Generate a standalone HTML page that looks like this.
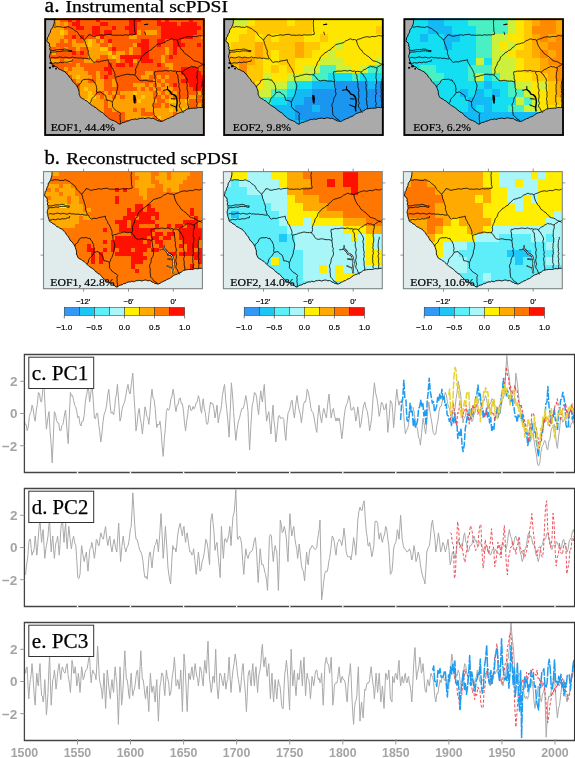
<!DOCTYPE html><html><head><meta charset="utf-8"><style>html,body{margin:0;padding:0;background:#fff;overflow:hidden}svg{display:block;will-change:transform}</style></head><body><svg width="575" height="758" viewBox="0 0 575 758">
<rect width="575" height="758" fill="#fff"/>
<text x="44.6" y="11.6" font-family="Liberation Serif" font-size="20" fill="#000" stroke="#000" stroke-width="0.3" textLength="15" lengthAdjust="spacingAndGlyphs">a.</text>
<text x="65.4" y="11.6" font-family="Liberation Serif" font-size="16.2" fill="#000" stroke="#000" stroke-width="0.25" textLength="162.6" lengthAdjust="spacingAndGlyphs">Instrumental scPDSI</text>
<text x="44.4" y="164.0" font-family="Liberation Serif" font-size="20" fill="#000" stroke="#000" stroke-width="0.3" textLength="15.5" lengthAdjust="spacingAndGlyphs">b.</text>
<text x="66.3" y="164.1" font-family="Liberation Serif" font-size="16.2" fill="#000" stroke="#000" stroke-width="0.25" textLength="171.5" lengthAdjust="spacingAndGlyphs">Reconstructed scPDSI</text>
<clipPath id="c44_18"><rect x="44.3" y="18.3" width="160.4" height="117.6"/></clipPath>
<g clip-path="url(#c44_18)">
<rect x="44.3" y="18.3" width="160.4" height="117.6" fill="#ff8000"/>
<g transform="translate(44.30,18.30) scale(4.0100,4.0552)" shape-rendering="crispEdges">
<path fill="#ff8000" d="M0 0h3v1h-3zM4 1h1v1h-1zM3 7h1v1h-1z"/>
<path fill="#ffa200" d="M3 0h1v1h-1zM3 1h1v1h-1zM5 1h1v1h-1zM0 2h5v1h-5zM0 3h4v1h-4zM5 3h1v1h-1zM23 3h1v1h-1zM25 3h3v1h-3zM0 4h5v1h-5zM13 4h1v1h-1zM21 4h2v1h-2zM39 4h1v1h-1zM0 5h4v1h-4zM5 5h1v1h-1zM7 5h1v1h-1zM10 5h1v1h-1zM12 5h1v1h-1zM14 5h1v1h-1zM0 6h3v1h-3zM7 6h4v1h-4zM12 6h2v1h-2zM16 6h1v1h-1zM22 6h1v1h-1zM5 7h1v1h-1zM8 7h1v1h-1zM11 7h3v1h-3zM21 7h1v1h-1zM30 7h1v1h-1zM2 8h1v1h-1zM11 8h5v1h-5zM18 8h2v1h-2zM21 8h1v1h-1zM30 8h1v1h-1zM11 9h3v1h-3zM16 9h1v1h-1zM18 9h1v1h-1zM29 9h1v1h-1zM0 10h4v1h-4zM5 10h2v1h-2zM10 10h3v1h-3zM18 10h1v1h-1zM22 10h1v1h-1zM29 10h1v1h-1zM8 11h1v1h-1zM30 11h2v1h-2zM5 12h1v1h-1zM7 12h3v1h-3zM31 12h1v1h-1zM6 13h5v1h-5zM13 13h1v1h-1zM25 13h2v1h-2zM7 14h1v1h-1zM9 14h3v1h-3zM13 14h1v1h-1zM24 14h2v1h-2zM28 14h1v1h-1zM30 14h1v1h-1zM8 15h3v1h-3zM13 15h2v1h-2zM17 15h1v1h-1zM27 15h1v1h-1zM29 15h1v1h-1zM9 16h6v1h-6zM17 16h1v1h-1zM22 16h3v1h-3zM26 16h1v1h-1zM28 16h1v1h-1zM30 16h1v1h-1zM9 17h1v1h-1zM11 17h4v1h-4zM23 17h1v1h-1zM25 17h1v1h-1zM27 17h1v1h-1zM29 17h3v1h-3zM0 18h11v1h-11zM12 18h1v1h-1zM15 18h1v1h-1zM17 18h1v1h-1zM19 18h3v1h-3zM23 18h4v1h-4zM28 18h1v1h-1zM30 18h1v1h-1zM32 18h1v1h-1zM38 18h1v1h-1zM0 19h11v1h-11zM13 19h1v1h-1zM15 19h2v1h-2zM18 19h1v1h-1zM20 19h4v1h-4zM25 19h2v1h-2zM29 19h1v1h-1zM31 19h1v1h-1zM36 19h2v1h-2zM39 19h1v1h-1zM12 20h3v1h-3zM16 20h6v1h-6zM24 20h4v1h-4zM30 20h1v1h-1zM33 20h2v1h-2zM0 21h15v1h-15zM16 21h11v1h-11zM29 21h1v1h-1zM31 21h5v1h-5zM38 21h1v1h-1zM0 22h15v1h-15zM17 22h5v1h-5zM23 22h1v1h-1zM25 22h6v1h-6zM32 22h2v1h-2zM35 22h5v1h-5zM0 23h15v1h-15zM20 23h4v1h-4zM27 23h5v1h-5zM20 24h7v1h-7zM29 24h11v1h-11z"/>
<path fill="#ff5c00" d="M4 0h2v1h-2zM7 0h1v1h-1zM9 0h4v1h-4zM14 0h7v1h-7zM24 0h4v1h-4zM29 0h1v1h-1zM31 0h5v1h-5zM37 0h3v1h-3zM0 1h3v1h-3zM6 1h1v1h-1zM9 1h5v1h-5zM16 1h5v1h-5zM23 1h5v1h-5zM33 1h1v1h-1zM38 1h2v1h-2zM5 2h3v1h-3zM10 2h2v1h-2zM14 2h3v1h-3zM18 2h2v1h-2zM23 2h6v1h-6zM39 2h1v1h-1zM6 3h6v1h-6zM14 3h1v1h-1zM17 3h4v1h-4zM24 3h1v1h-1zM28 3h1v1h-1zM38 3h2v1h-2zM5 4h2v1h-2zM8 4h1v1h-1zM10 4h3v1h-3zM15 4h6v1h-6zM23 4h6v1h-6zM37 4h2v1h-2zM4 5h1v1h-1zM6 5h1v1h-1zM8 5h2v1h-2zM13 5h1v1h-1zM15 5h1v1h-1zM17 5h7v1h-7zM26 5h2v1h-2zM30 5h2v1h-2zM34 5h6v1h-6zM3 6h4v1h-4zM14 6h2v1h-2zM17 6h5v1h-5zM26 6h2v1h-2zM29 6h3v1h-3zM35 6h3v1h-3zM39 6h1v1h-1zM0 7h3v1h-3zM4 7h1v1h-1zM6 7h2v1h-2zM9 7h2v1h-2zM16 7h1v1h-1zM18 7h3v1h-3zM22 7h2v1h-2zM26 7h4v1h-4zM31 7h1v1h-1zM33 7h7v1h-7zM0 8h2v1h-2zM3 8h4v1h-4zM8 8h1v1h-1zM10 8h1v1h-1zM17 8h1v1h-1zM20 8h1v1h-1zM22 8h2v1h-2zM26 8h4v1h-4zM31 8h1v1h-1zM33 8h7v1h-7zM0 9h11v1h-11zM14 9h2v1h-2zM26 9h3v1h-3zM30 9h1v1h-1zM32 9h8v1h-8zM4 10h1v1h-1zM7 10h3v1h-3zM13 10h5v1h-5zM19 10h1v1h-1zM23 10h1v1h-1zM27 10h2v1h-2zM30 10h10v1h-10zM0 11h8v1h-8zM9 11h7v1h-7zM17 11h1v1h-1zM20 11h1v1h-1zM22 11h6v1h-6zM29 11h1v1h-1zM32 11h8v1h-8zM0 12h5v1h-5zM6 12h1v1h-1zM10 12h5v1h-5zM17 12h14v1h-14zM32 12h2v1h-2zM38 12h2v1h-2zM0 13h6v1h-6zM11 13h2v1h-2zM14 13h2v1h-2zM17 13h8v1h-8zM27 13h7v1h-7zM39 13h1v1h-1zM0 14h7v1h-7zM12 14h1v1h-1zM14 14h1v1h-1zM16 14h8v1h-8zM26 14h2v1h-2zM29 14h1v1h-1zM31 14h4v1h-4zM0 15h8v1h-8zM11 15h2v1h-2zM15 15h2v1h-2zM18 15h9v1h-9zM28 15h1v1h-1zM30 15h4v1h-4zM0 16h9v1h-9zM15 16h2v1h-2zM18 16h4v1h-4zM25 16h1v1h-1zM27 16h1v1h-1zM29 16h1v1h-1zM31 16h1v1h-1zM33 16h3v1h-3zM0 17h9v1h-9zM15 17h8v1h-8zM24 17h1v1h-1zM26 17h1v1h-1zM28 17h1v1h-1zM32 17h5v1h-5zM39 17h1v1h-1zM13 18h2v1h-2zM16 18h1v1h-1zM18 18h1v1h-1zM27 18h1v1h-1zM29 18h1v1h-1zM31 18h1v1h-1zM33 18h5v1h-5zM39 18h1v1h-1zM14 19h1v1h-1zM17 19h1v1h-1zM19 19h1v1h-1zM27 19h2v1h-2zM30 19h1v1h-1zM32 19h4v1h-4zM38 19h1v1h-1zM15 20h1v1h-1zM22 20h1v1h-1zM28 20h2v1h-2zM36 20h4v1h-4zM15 21h1v1h-1zM27 21h2v1h-2zM30 21h1v1h-1zM36 21h2v1h-2zM39 21h1v1h-1zM15 22h2v1h-2zM22 22h1v1h-1zM24 22h1v1h-1zM15 23h5v1h-5zM24 23h3v1h-3zM32 23h1v1h-1zM0 24h20v1h-20zM27 24h1v1h-1zM0 25h40v1h-40zM0 26h40v1h-40zM0 27h40v1h-40zM0 28h40v1h-40z"/>
<path fill="#ff1000" d="M6 0h1v1h-1zM8 0h1v1h-1zM13 0h1v1h-1zM21 0h3v1h-3zM28 0h1v1h-1zM30 0h1v1h-1zM36 0h1v1h-1zM7 1h2v1h-2zM14 1h2v1h-2zM21 1h2v1h-2zM28 1h5v1h-5zM34 1h4v1h-4zM8 2h2v1h-2zM12 2h2v1h-2zM17 2h1v1h-1zM20 2h3v1h-3zM29 2h10v1h-10zM12 3h2v1h-2zM15 3h2v1h-2zM21 3h2v1h-2zM29 3h9v1h-9zM7 4h1v1h-1zM9 4h1v1h-1zM14 4h1v1h-1zM29 4h8v1h-8zM16 5h1v1h-1zM24 5h2v1h-2zM28 5h2v1h-2zM32 5h2v1h-2zM23 6h3v1h-3zM28 6h1v1h-1zM32 6h3v1h-3zM38 6h1v1h-1zM17 7h1v1h-1zM24 7h2v1h-2zM32 7h1v1h-1zM7 8h1v1h-1zM9 8h1v1h-1zM24 8h2v1h-2zM32 8h1v1h-1zM19 9h7v1h-7zM31 9h1v1h-1zM20 10h2v1h-2zM24 10h3v1h-3zM16 11h1v1h-1zM18 11h2v1h-2zM21 11h1v1h-1zM28 11h1v1h-1zM15 12h2v1h-2zM34 12h4v1h-4zM16 13h1v1h-1zM34 13h5v1h-5zM15 14h1v1h-1zM35 14h5v1h-5zM34 15h6v1h-6zM32 16h1v1h-1zM36 16h4v1h-4zM37 17h2v1h-2z"/>
<path fill="#ffc800" d="M4 3h1v1h-1zM11 5h1v1h-1zM11 6h1v1h-1zM14 7h2v1h-2zM16 8h1v1h-1zM17 9h1v1h-1zM8 14h1v1h-1zM10 17h1v1h-1zM11 18h1v1h-1zM22 18h1v1h-1zM11 19h2v1h-2zM24 19h1v1h-1zM0 20h12v1h-12zM23 20h1v1h-1zM31 20h2v1h-2zM35 20h1v1h-1zM31 22h1v1h-1zM34 22h1v1h-1zM33 23h7v1h-7zM28 24h1v1h-1z"/>
</g>
<polygon points="54.8,17.3 54.4,20.0 54.3,21.7 54.2,23.3 53.7,24.8 53.0,26.3 52.5,27.8 51.3,29.0 50.6,30.4 50.5,32.1 49.6,33.4 48.9,34.7 48.6,36.2 47.5,37.4 47.3,39.0 46.8,40.4 47.4,42.0 49.0,42.9 49.6,44.5 49.3,46.0 50.3,47.3 49.7,48.8 50.3,50.2 50.4,51.6 50.4,53.0 50.0,54.4 49.5,55.8 49.6,57.2 50.2,58.6 50.3,60.0 50.8,61.4 51.3,62.8 51.6,64.2 52.9,65.1 54.3,65.6 55.4,66.8 57.0,67.0 58.0,68.3 59.2,69.3 60.8,69.7 62.1,70.5 63.5,71.2 65.0,71.7 65.8,73.0 67.0,74.0 68.2,75.0 68.8,76.5 70.0,77.5 71.0,78.7 71.9,80.0 72.5,81.4 73.6,82.5 74.8,83.4 75.8,84.6 76.6,85.8 77.5,87.1 78.0,88.4 78.5,89.8 79.0,91.1 79.2,92.6 79.1,94.1 79.7,95.5 80.3,96.8 81.3,98.0 82.7,98.7 84.1,99.3 85.1,100.4 86.7,100.8 87.7,101.9 88.8,102.9 90.0,103.8 91.2,104.8 92.4,105.7 93.7,106.4 95.0,107.3 96.3,107.9 97.4,109.0 98.4,110.2 99.8,110.8 100.8,112.0 102.4,112.5 103.7,113.5 104.6,114.8 105.7,115.9 107.1,116.7 108.2,117.8 109.2,118.8 110.5,119.4 111.8,120.1 113.2,120.4 114.5,121.1 115.8,121.6 116.9,122.5 118.1,123.4 119.3,124.1 120.9,123.9 122.0,122.7 123.6,122.4 125.1,122.1 126.4,121.2 128.1,121.1 129.5,120.4 130.9,119.8 132.3,119.4 133.7,119.6 135.0,118.8 136.5,119.4 137.9,119.2 139.2,118.4 140.7,118.5 142.0,118.1 143.4,118.2 145.0,118.7 146.6,118.2 148.2,117.8 149.7,118.0 151.3,118.6 152.9,118.2 154.2,118.7 155.4,119.6 156.7,120.0 157.9,120.8 159.4,121.0 160.7,121.4 162.2,121.3 163.5,120.7 164.8,119.9 166.2,119.4 167.4,118.6 168.9,118.4 170.1,117.5 171.5,116.9 173.0,116.5 174.3,115.7 175.5,114.8 176.7,113.9 178.1,113.2 179.5,112.8 180.9,112.3 182.3,111.9 183.6,111.1 185.0,110.6 186.2,109.7 187.4,108.9 189.0,108.8 190.5,108.4 192.1,108.3 193.6,108.2 195.2,108.2 196.8,108.1 198.3,107.5 199.9,107.4 201.5,107.6 203.1,107.3 205.7,107.1 205.7,143.9 43.3,143.9 43.3,17.3" fill="#aaaaaa"/>
<polyline points="54.8,17.3 54.4,20.0 54.3,21.7 54.2,23.3 53.7,24.8 53.0,26.3 52.5,27.8 51.3,29.0 50.6,30.4 50.5,32.1 49.6,33.4 48.9,34.7 48.6,36.2 47.5,37.4 47.3,39.0 46.8,40.4 47.4,42.0 49.0,42.9 49.6,44.5 49.3,46.0 50.3,47.3 49.7,48.8 50.3,50.2 50.4,51.6 50.4,53.0 50.0,54.4 49.5,55.8 49.6,57.2 50.2,58.6 50.3,60.0 50.8,61.4 51.3,62.8 51.6,64.2 52.9,65.1 54.3,65.6 55.4,66.8 57.0,67.0 58.0,68.3 59.2,69.3 60.8,69.7 62.1,70.5 63.5,71.2 65.0,71.7 65.8,73.0 67.0,74.0 68.2,75.0 68.8,76.5 70.0,77.5 71.0,78.7 71.9,80.0 72.5,81.4 73.6,82.5 74.8,83.4 75.8,84.6 76.6,85.8 77.5,87.1 78.0,88.4 78.5,89.8 79.0,91.1 79.2,92.6 79.1,94.1 79.7,95.5 80.3,96.8 81.3,98.0 82.7,98.7 84.1,99.3 85.1,100.4 86.7,100.8 87.7,101.9 88.8,102.9 90.0,103.8 91.2,104.8 92.4,105.7 93.7,106.4 95.0,107.3 96.3,107.9 97.4,109.0 98.4,110.2 99.8,110.8 100.8,112.0 102.4,112.5 103.7,113.5 104.6,114.8 105.7,115.9 107.1,116.7 108.2,117.8 109.2,118.8 110.5,119.4 111.8,120.1 113.2,120.4 114.5,121.1 115.8,121.6 116.9,122.5 118.1,123.4 119.3,124.1 120.9,123.9 122.0,122.7 123.6,122.4 125.1,122.1 126.4,121.2 128.1,121.1 129.5,120.4 130.9,119.8 132.3,119.4 133.7,119.6 135.0,118.8 136.5,119.4 137.9,119.2 139.2,118.4 140.7,118.5 142.0,118.1 143.4,118.2 145.0,118.7 146.6,118.2 148.2,117.8 149.7,118.0 151.3,118.6 152.9,118.2 154.2,118.7 155.4,119.6 156.7,120.0 157.9,120.8 159.4,121.0 160.7,121.4 162.2,121.3 163.5,120.7 164.8,119.9 166.2,119.4 167.4,118.6 168.9,118.4 170.1,117.5 171.5,116.9 173.0,116.5 174.3,115.7 175.5,114.8 176.7,113.9 178.1,113.2 179.5,112.8 180.9,112.3 182.3,111.9 183.6,111.1 185.0,110.6 186.2,109.7 187.4,108.9 189.0,108.8 190.5,108.4 192.1,108.3 193.6,108.2 195.2,108.2 196.8,108.1 198.3,107.5 199.9,107.4 201.5,107.6 203.1,107.3 205.7,107.1" fill="none" stroke="#000" stroke-width="0.9"/>
<polyline points="53.7,27.0 55.4,27.2 57.1,26.5 58.8,26.8 60.5,26.7 62.2,27.3 63.9,27.2 65.7,27.5 67.4,26.6 69.1,27.0 70.5,27.8 72.1,28.3 73.4,29.3 74.7,30.4 76.1,31.3 77.5,32.2 78.4,33.5 79.1,35.1 80.3,36.2 81.6,37.5 83.2,38.6 84.4,40.1" fill="none" stroke="#000" stroke-width="0.8" stroke-linejoin="round"/>
<polyline points="84.4,40.1 85.5,38.8 86.4,37.4 87.8,36.3 88.6,34.8 90.9,35.0 92.8,36.2 95.0,36.2 97.0,35.5 98.7,35.6 100.3,35.0 102.0,34.7 103.7,35.4 105.4,34.8 107.1,34.6 108.9,34.4 110.6,34.4 112.4,35.3 114.1,35.1 115.9,35.3 117.7,35.3 119.4,35.1 121.2,35.1 123.0,35.5 124.7,34.8 126.5,34.9 128.2,35.1 130.0,34.8 131.7,35.0 133.5,34.6 135.2,34.4 135.4,32.7 134.6,31.1 134.7,29.4 134.6,27.7 134.3,26.1 134.4,24.4 134.2,22.7 134.5,21.0 134.5,18.3" fill="none" stroke="#000" stroke-width="0.8" stroke-linejoin="round"/>
<polyline points="84.4,40.1 85.2,41.7 85.4,43.5 86.2,45.1 86.8,46.7 87.2,48.5 88.0,50.0 88.4,51.7 88.1,53.5 88.9,55.1 89.4,56.7 90.0,58.3 91.7,59.5 92.6,61.3 94.2,62.5 95.9,61.8 97.7,61.7 99.5,62.0 101.1,61.1 102.9,60.9 104.7,60.5 106.4,60.3 108.2,59.7 108.5,61.6 109.3,63.3 110.5,64.8 111.0,66.6 112.3,67.8 113.0,69.3 113.8,70.9 114.5,72.6 115.1,74.3 114.8,76.3 115.8,77.9 115.7,80.0 116.5,82.0 117.4,84.1 117.9,86.2 117.4,88.0 117.3,89.8 116.4,91.4 116.5,93.3 115.6,95.1 114.9,97.1 113.8,98.8 113.3,100.4 112.4,101.7 112.3,103.4 112.6,105.0 112.4,106.7 113.7,108.1 114.8,109.7 116.5,110.8 117.9,111.6 119.5,112.4 120.7,113.6 119.9,115.4 120.2,117.3 120.0,119.2 120.4,120.9 120.5,122.5 120.0,124.1" fill="none" stroke="#000" stroke-width="0.8" stroke-linejoin="round"/>
<polyline points="51.0,57.8 52.7,57.3 54.5,57.8 56.3,57.9 58.0,57.4 59.7,56.9 61.5,57.2 63.2,57.8 65.0,57.2 66.8,57.3 68.6,57.9 70.5,57.8 72.4,56.9 74.2,57.8 76.1,57.6 77.8,58.0 79.6,58.0 81.3,57.9 83.0,58.5 84.8,58.1 86.5,58.6 88.3,58.8 90.0,59.0" fill="none" stroke="#000" stroke-width="0.8" stroke-linejoin="round"/>
<polyline points="50.8,50.1 52.7,50.5 54.5,50.3 56.3,49.9 58.3,49.5 60.3,49.6 62.3,49.5 64.3,49.0 66.4,49.3 68.1,50.1 69.9,50.5 71.9,50.5 71.7,51.7 69.9,51.6 68.1,51.0 66.4,50.9 64.3,50.8 62.3,51.1 60.4,51.7 58.3,51.3 56.3,51.9 54.5,52.0 52.6,52.0 50.8,52.5" fill="none" stroke="#000" stroke-width="0.8" stroke-linejoin="round"/>
<polyline points="51.8,63.3 53.4,63.3 55.1,62.6 56.7,62.9 58.3,63.0 60.3,62.2 62.4,62.8 64.3,62.0 66.3,62.3 68.1,62.0 70.0,61.3 71.9,61.3 72.4,59.5" fill="none" stroke="#000" stroke-width="0.8" stroke-linejoin="round"/>
<polyline points="77.5,87.1 78.1,85.2 79.9,84.1 81.1,82.6 81.7,80.7 83.6,79.6 85.8,79.3 87.6,79.4 89.4,79.1 91.0,80.1 92.8,79.9 93.4,81.5 94.9,82.6 95.5,84.2 96.3,85.6 96.5,87.4 96.9,89.1 96.4,91.0 97.0,92.7 96.0,94.1 95.0,95.7 93.6,96.8 92.3,98.1 91.4,99.6 91.0,101.5 90.0,103.1" fill="none" stroke="#000" stroke-width="0.8" stroke-linejoin="round"/>
<polyline points="97.0,92.7 99.1,92.1 101.1,92.0 102.2,93.5 103.8,94.4 105.4,95.4 105.9,97.0 106.3,98.7 106.8,100.3 108.7,100.4 110.6,101.0 112.4,101.7" fill="none" stroke="#000" stroke-width="0.8" stroke-linejoin="round"/>
<polyline points="115.8,77.2 117.7,76.5 119.7,76.2 121.5,75.3 123.5,75.1 125.3,74.5 127.2,74.2 129.1,74.4 130.9,74.8 132.8,74.6 134.6,75.1 135.5,73.5 135.9,71.8 135.4,69.9 136.0,68.3 136.7,66.6 137.7,65.1 138.1,63.3 138.8,61.6 140.4,60.4 140.9,58.6 141.6,56.9 143.0,55.5 144.7,54.3 145.9,52.7 147.8,52.0 149.4,50.5 151.4,49.9 152.4,48.3 154.0,47.2 155.4,46.0 156.8,44.7 158.5,44.1 160.4,43.8 162.1,43.2 164.0,42.9 165.6,41.8 166.9,40.7 168.6,40.2 170.0,39.4 171.6,38.8 173.5,39.7 175.6,39.5 177.5,40.3" fill="none" stroke="#000" stroke-width="0.8" stroke-linejoin="round"/>
<polyline points="177.5,40.3 179.3,39.2 181.2,38.8 183.1,38.0 185.0,37.3 186.8,36.9 188.6,36.7 190.6,37.2 192.4,36.6 194.1,36.4 195.9,36.7 197.7,36.2 199.4,35.5 201.2,35.8 203.5,36.0 205.7,35.1" fill="none" stroke="#000" stroke-width="0.8" stroke-linejoin="round"/>
<polyline points="177.5,40.3 177.9,42.3 178.5,44.2 179.3,46.1 180.4,47.8 181.3,49.5 183.0,50.5 183.8,52.2 185.0,53.7 186.6,54.5 188.0,55.8 189.7,56.6 190.9,58.1 192.4,59.0 193.5,60.6 195.3,61.1 197.6,61.6 199.7,62.6 201.1,63.6 202.7,64.0 204.2,64.7 205.7,65.5" fill="none" stroke="#000" stroke-width="0.8" stroke-linejoin="round"/>
<polyline points="134.6,75.1 137.0,77.1 138.0,79.0 139.7,80.3 141.8,80.9 143.9,80.4 146.0,80.3 148.2,81.0 150.6,81.1 152.2,81.0 153.8,81.4 155.4,81.9" fill="none" stroke="#000" stroke-width="0.8" stroke-linejoin="round"/>
<polyline points="154.7,71.7 154.3,73.4 154.8,75.1 155.0,76.8 154.9,78.5 155.7,80.2 155.4,81.9 155.6,83.8 155.9,85.6 155.8,87.5 156.8,89.2 156.2,91.2 157.0,93.0 156.9,94.7 156.2,96.2 155.2,97.6 154.6,99.2 154.5,100.9 154.0,102.5 153.1,103.9 152.8,105.8 153.6,107.6 153.4,109.5 153.5,111.3 153.8,113.1 153.9,115.0 155.2,116.3 156.7,117.5 157.8,119.1 159.7,119.7 160.9,121.2" fill="none" stroke="#000" stroke-width="0.8" stroke-linejoin="round"/>
<polyline points="154.7,71.7 156.4,71.7 158.1,71.1 159.8,71.1 161.6,71.2 163.3,70.9 165.1,70.6 166.9,70.7 168.7,71.1 170.5,70.4 172.2,70.8 174.0,71.4 175.8,70.9 176.6,71.7" fill="none" stroke="#000" stroke-width="0.8" stroke-linejoin="round"/>
<polyline points="176.6,71.7 176.4,73.5 177.8,75.0 178.0,76.8 178.0,78.6 178.7,80.2 178.3,82.0 179.1,83.5 178.8,85.4 178.9,87.1 179.6,88.9 180.0,90.7 179.3,92.5 179.6,94.3 179.9,96.1 179.8,97.9 179.3,99.7 179.6,101.6 180.3,103.4 179.3,105.2 179.6,107.1 180.8,108.3 181.5,109.9 182.3,111.5 183.6,112.6" fill="none" stroke="#000" stroke-width="0.8" stroke-linejoin="round"/>
<polyline points="176.6,71.7 178.5,71.4 180.3,71.5 182.0,72.1 183.6,70.9 185.0,69.6 186.8,69.1 188.2,67.9 190.0,67.3 191.5,66.2 193.0,66.9 194.7,66.7 196.2,67.5 197.8,67.8 199.2,66.5 200.9,65.7 202.5,64.6 204.2,64.5 205.7,63.5" fill="none" stroke="#000" stroke-width="0.8" stroke-linejoin="round"/>
<polyline points="182.0,72.1 182.7,73.6 184.3,74.5 184.9,76.1 186.0,77.3 186.8,78.8 187.4,80.5 186.6,82.3 186.9,84.0 187.4,85.8 186.9,87.5 187.2,89.3 187.5,91.0 188.0,92.7 187.6,94.5 188.1,96.2 187.3,98.1 187.4,99.8 187.9,101.6 187.7,103.4 188.1,105.1 188.6,106.9 188.4,108.7" fill="none" stroke="#000" stroke-width="0.8" stroke-linejoin="round"/>
<polyline points="197.8,67.8 198.1,69.5 197.8,71.2 197.1,72.9 197.2,74.6 197.0,76.3 196.9,78.0 197.6,79.8 197.5,81.5 197.6,83.2 196.7,84.9 197.0,86.6 196.6,88.3 197.1,90.0 196.8,91.7 197.4,93.5 196.5,95.2 196.6,96.9 196.5,98.6 196.6,100.3 196.6,102.0 197.5,103.7 196.7,105.4 197.0,107.1" fill="none" stroke="#000" stroke-width="0.8" stroke-linejoin="round"/>
<polyline points="203.1,78.6 203.1,80.3 202.3,81.9 202.3,83.6 202.1,85.3 202.0,87.0 202.2,88.7 202.5,90.3 202.0,92.0 202.8,93.7 202.0,95.4 202.0,97.1 202.8,98.7 202.2,100.4 202.6,102.1 202.8,103.8 202.3,105.5 202.7,107.2" fill="none" stroke="#000" stroke-width="0.8" stroke-linejoin="round"/>
<path transform="translate(44.3,18.3) scale(1.002,1.005)" d="M88.8,76 L90.8,76.5 L91.5,80 L91,85 L89.5,84.5 L88.8,80 Z" fill="#000"/>
<path transform="translate(44.3,18.3) scale(1.002,1.005)" d="M5,44 L7,43.5 L7.5,45 L5.5,45.5 Z" fill="#000"/>
<path transform="translate(44.3,18.3) scale(1.002,1.005)" d="M7.5,47 L10,46.5 L10.5,48.5 L8,49 Z" fill="#000"/>
<path transform="translate(44.3,18.3) scale(1.002,1.005)" d="M4.5,48.5 L6.5,48.3 L6.8,50 L4.8,50.2 Z" fill="#000"/>
<path transform="translate(44.3,18.3) scale(1.002,1.005)" d="M10.8,49.5 L12.5,49.5 L12.5,51 L11,51 Z" fill="#000"/>
<path transform="translate(44.3,18.3) scale(1.002,1.005)" d="M99.5,5.8 L103.5,5.2 L103.8,6.4 L99.8,7 Z" fill="#000"/>
<path transform="translate(44.3,18.3) scale(1.002,1.005)" d="M99.8,13.5 L100.6,13.4 L101.5,16.5 L100.8,16.7 Z" fill="#000"/>
<polyline points="167.6,89.5 170.2,91.6 171.8,94.1 174.3,94.9 176.0,96.6 176.8,99.1 177.2,102.0 176.8,104.9 176.4,108.4 176.8,110.9" fill="none" stroke="#000" stroke-width="1.5" stroke-linejoin="round" stroke-linecap="round"/>
<polyline points="163.5,90.3 165.6,89.9 167.6,89.5 167.6,86.5" fill="none" stroke="#000" stroke-width="1.0" stroke-linejoin="round" stroke-linecap="round"/>
<polyline points="171.4,98.7 175.2,99.1" fill="none" stroke="#000" stroke-width="1.0" stroke-linejoin="round" stroke-linecap="round"/>
<polyline points="170.6,104.9 173.1,105.9 176.0,107.1" fill="none" stroke="#000" stroke-width="1.0" stroke-linejoin="round" stroke-linecap="round"/>
</g>
<rect x="45.2" y="19.2" width="158.6" height="115.8" fill="none" stroke="#000" stroke-width="1.8"/>
<text x="82.9" y="130.8" font-family="Liberation Serif" font-size="10.9" fill="#000" stroke="#000" stroke-width="0.22" text-anchor="middle" textLength="64.4" lengthAdjust="spacingAndGlyphs">EOF1, 44.4%</text>
<clipPath id="c223_18"><rect x="223.3" y="18.3" width="160.4" height="117.6"/></clipPath>
<g clip-path="url(#c223_18)">
<rect x="223.3" y="18.3" width="160.4" height="117.6" fill="#cdf03a"/>
<g transform="translate(223.30,18.30) scale(4.0100,3.9200)" shape-rendering="crispEdges">
<path fill="#cdf03a" d="M0 0h6v1h-6zM0 1h6v1h-6zM28 6h2v1h-2zM28 7h2v1h-2zM26 8h2v1h-2zM26 9h2v1h-2zM24 10h6v1h-6zM38 10h2v1h-2zM24 11h6v1h-6zM38 11h2v1h-2zM20 12h4v1h-4zM28 12h4v1h-4zM34 12h2v1h-2zM20 13h4v1h-4zM28 13h4v1h-4zM34 13h2v1h-2zM10 14h2v1h-2zM16 14h6v1h-6zM10 15h2v1h-2zM16 15h6v1h-6zM10 16h6v1h-6zM10 17h6v1h-6zM0 18h12v1h-12zM0 19h12v1h-12z"/>
<path fill="#ffe600" d="M6 0h2v1h-2zM16 0h2v1h-2zM22 0h18v1h-18zM6 1h2v1h-2zM16 1h2v1h-2zM22 1h18v1h-18zM0 2h6v1h-6zM22 2h16v1h-16zM0 3h6v1h-6zM22 3h16v1h-16zM0 4h4v1h-4zM8 4h2v1h-2zM12 4h2v1h-2zM20 4h4v1h-4zM26 4h14v1h-14zM0 5h4v1h-4zM8 5h2v1h-2zM12 5h2v1h-2zM20 5h4v1h-4zM26 5h14v1h-14zM0 6h2v1h-2zM24 6h4v1h-4zM30 6h10v1h-10zM0 7h2v1h-2zM24 7h4v1h-4zM30 7h10v1h-10zM12 8h2v1h-2zM22 8h4v1h-4zM28 8h12v1h-12zM12 9h2v1h-2zM22 9h4v1h-4zM28 9h12v1h-12zM10 10h4v1h-4zM18 10h6v1h-6zM30 10h8v1h-8zM10 11h4v1h-4zM18 11h6v1h-6zM30 11h8v1h-8zM10 12h2v1h-2zM14 12h2v1h-2zM18 12h2v1h-2zM32 12h2v1h-2zM10 13h2v1h-2zM14 13h2v1h-2zM18 13h2v1h-2zM32 13h2v1h-2zM12 14h4v1h-4zM12 15h4v1h-4zM8 16h2v1h-2zM8 17h2v1h-2z"/>
<path fill="#ffc800" d="M8 0h8v1h-8zM18 0h4v1h-4zM8 1h8v1h-8zM18 1h4v1h-4zM6 2h16v1h-16zM38 2h2v1h-2zM6 3h16v1h-16zM38 3h2v1h-2zM4 4h4v1h-4zM10 4h2v1h-2zM14 4h6v1h-6zM24 4h2v1h-2zM4 5h4v1h-4zM10 5h2v1h-2zM14 5h6v1h-6zM24 5h2v1h-2zM2 6h6v1h-6zM10 6h8v1h-8zM20 6h4v1h-4zM2 7h6v1h-6zM10 7h8v1h-8zM20 7h4v1h-4zM2 8h6v1h-6zM10 8h2v1h-2zM14 8h4v1h-4zM20 8h2v1h-2zM2 9h6v1h-6zM10 9h2v1h-2zM14 9h4v1h-4zM20 9h2v1h-2zM8 10h2v1h-2zM14 10h4v1h-4zM8 11h2v1h-2zM14 11h4v1h-4zM0 12h4v1h-4zM6 12h4v1h-4zM12 12h2v1h-2zM16 12h2v1h-2zM0 13h4v1h-4zM6 13h4v1h-4zM12 13h2v1h-2zM16 13h2v1h-2zM6 14h4v1h-4zM6 15h4v1h-4z"/>
<path fill="#ffa800" d="M8 6h2v1h-2zM18 6h2v1h-2zM8 7h2v1h-2zM18 7h2v1h-2zM0 8h2v1h-2zM8 8h2v1h-2zM18 8h2v1h-2zM0 9h2v1h-2zM8 9h2v1h-2zM18 9h2v1h-2zM0 10h4v1h-4zM6 10h2v1h-2zM0 11h4v1h-4zM6 11h2v1h-2zM0 16h8v1h-8zM0 17h8v1h-8z"/>
<path fill="#ff8a00" d="M4 10h2v1h-2zM4 11h2v1h-2zM4 12h2v1h-2zM4 13h2v1h-2z"/>
<path fill="#48f0c4" d="M24 12h4v1h-4zM36 12h4v1h-4zM24 13h4v1h-4zM36 13h4v1h-4zM22 14h4v1h-4zM32 14h2v1h-2zM22 15h4v1h-4zM32 15h2v1h-2zM16 16h2v1h-2zM16 17h2v1h-2zM12 18h4v1h-4zM12 19h4v1h-4zM0 20h12v1h-12zM0 21h12v1h-12z"/>
<path fill="#ff5e00" d="M0 14h6v1h-6zM0 15h6v1h-6z"/>
<path fill="#14def2" d="M26 14h6v1h-6zM34 14h6v1h-6zM26 15h6v1h-6zM34 15h6v1h-6zM18 16h4v1h-4zM18 17h4v1h-4zM16 18h2v1h-2zM16 19h2v1h-2zM12 20h4v1h-4zM12 21h4v1h-4z"/>
<path fill="#14baf6" d="M22 16h6v1h-6zM36 16h2v1h-2zM22 17h6v1h-6zM36 17h2v1h-2zM18 18h4v1h-4zM18 19h4v1h-4zM16 20h4v1h-4zM16 21h4v1h-4zM0 22h18v1h-18zM22 22h2v1h-2zM0 23h18v1h-18zM22 23h2v1h-2zM0 24h18v1h-18zM0 25h18v1h-18zM0 26h40v1h-40zM0 27h40v1h-40zM0 28h40v1h-40zM0 29h40v1h-40z"/>
<path fill="#1a96f0" d="M28 16h8v1h-8zM38 16h2v1h-2zM28 17h8v1h-8zM38 17h2v1h-2zM22 18h16v1h-16zM22 19h16v1h-16zM20 20h20v1h-20zM20 21h20v1h-20zM18 22h4v1h-4zM24 22h16v1h-16zM18 23h4v1h-4zM24 23h16v1h-16zM18 24h22v1h-22zM18 25h22v1h-22z"/>
<path fill="#2f86ee" d="M38 18h2v1h-2zM38 19h2v1h-2z"/>
</g>
<polygon points="233.8,17.3 233.4,20.0 233.3,21.7 233.2,23.3 232.7,24.8 232.0,26.3 231.5,27.8 230.3,29.0 229.6,30.4 229.5,32.1 228.6,33.4 227.9,34.7 227.6,36.2 226.5,37.4 226.3,39.0 225.8,40.4 226.4,42.0 228.0,42.9 228.6,44.5 228.3,46.0 229.3,47.3 228.7,48.8 229.3,50.2 229.4,51.6 229.4,53.0 229.0,54.4 228.5,55.8 228.6,57.2 229.2,58.6 229.3,60.0 229.8,61.4 230.3,62.8 230.6,64.2 231.9,65.1 233.3,65.6 234.4,66.8 236.0,67.0 237.0,68.3 238.2,69.3 239.8,69.7 241.1,70.5 242.5,71.2 244.0,71.7 244.8,73.0 246.0,74.0 247.2,75.0 247.8,76.5 249.0,77.5 250.0,78.7 250.9,80.0 251.5,81.4 252.6,82.5 253.8,83.4 254.8,84.6 255.6,85.8 256.5,87.1 257.0,88.4 257.5,89.8 258.0,91.1 258.2,92.6 258.1,94.1 258.7,95.5 259.3,96.8 260.3,98.0 261.7,98.7 263.1,99.3 264.1,100.4 265.7,100.8 266.7,101.9 267.8,102.9 269.0,103.8 270.2,104.8 271.4,105.7 272.7,106.4 274.0,107.3 275.3,107.9 276.4,109.0 277.4,110.2 278.8,110.8 279.8,112.0 281.4,112.5 282.7,113.5 283.6,114.8 284.7,115.9 286.1,116.7 287.2,117.8 288.2,118.8 289.5,119.4 290.8,120.1 292.2,120.4 293.5,121.1 294.8,121.6 295.9,122.5 297.1,123.4 298.3,124.1 299.9,123.9 301.0,122.7 302.6,122.4 304.1,122.1 305.4,121.2 307.1,121.1 308.5,120.4 309.9,119.8 311.3,119.4 312.7,119.6 314.0,118.8 315.5,119.4 316.9,119.2 318.2,118.4 319.7,118.5 321.0,118.1 322.4,118.2 324.0,118.7 325.6,118.2 327.2,117.8 328.7,118.0 330.3,118.6 331.9,118.2 333.2,118.7 334.4,119.6 335.7,120.0 336.9,120.8 338.4,121.0 339.7,121.4 341.2,121.3 342.5,120.7 343.8,119.9 345.2,119.4 346.4,118.6 347.9,118.4 349.1,117.5 350.5,116.9 352.0,116.5 353.3,115.7 354.5,114.8 355.7,113.9 357.1,113.2 358.5,112.8 359.9,112.3 361.3,111.9 362.6,111.1 364.0,110.6 365.2,109.7 366.4,108.9 368.0,108.8 369.5,108.4 371.1,108.3 372.6,108.2 374.2,108.2 375.8,108.1 377.3,107.5 378.9,107.4 380.5,107.6 382.1,107.3 384.7,107.1 384.7,143.9 222.3,143.9 222.3,17.3" fill="#aaaaaa"/>
<polyline points="233.8,17.3 233.4,20.0 233.3,21.7 233.2,23.3 232.7,24.8 232.0,26.3 231.5,27.8 230.3,29.0 229.6,30.4 229.5,32.1 228.6,33.4 227.9,34.7 227.6,36.2 226.5,37.4 226.3,39.0 225.8,40.4 226.4,42.0 228.0,42.9 228.6,44.5 228.3,46.0 229.3,47.3 228.7,48.8 229.3,50.2 229.4,51.6 229.4,53.0 229.0,54.4 228.5,55.8 228.6,57.2 229.2,58.6 229.3,60.0 229.8,61.4 230.3,62.8 230.6,64.2 231.9,65.1 233.3,65.6 234.4,66.8 236.0,67.0 237.0,68.3 238.2,69.3 239.8,69.7 241.1,70.5 242.5,71.2 244.0,71.7 244.8,73.0 246.0,74.0 247.2,75.0 247.8,76.5 249.0,77.5 250.0,78.7 250.9,80.0 251.5,81.4 252.6,82.5 253.8,83.4 254.8,84.6 255.6,85.8 256.5,87.1 257.0,88.4 257.5,89.8 258.0,91.1 258.2,92.6 258.1,94.1 258.7,95.5 259.3,96.8 260.3,98.0 261.7,98.7 263.1,99.3 264.1,100.4 265.7,100.8 266.7,101.9 267.8,102.9 269.0,103.8 270.2,104.8 271.4,105.7 272.7,106.4 274.0,107.3 275.3,107.9 276.4,109.0 277.4,110.2 278.8,110.8 279.8,112.0 281.4,112.5 282.7,113.5 283.6,114.8 284.7,115.9 286.1,116.7 287.2,117.8 288.2,118.8 289.5,119.4 290.8,120.1 292.2,120.4 293.5,121.1 294.8,121.6 295.9,122.5 297.1,123.4 298.3,124.1 299.9,123.9 301.0,122.7 302.6,122.4 304.1,122.1 305.4,121.2 307.1,121.1 308.5,120.4 309.9,119.8 311.3,119.4 312.7,119.6 314.0,118.8 315.5,119.4 316.9,119.2 318.2,118.4 319.7,118.5 321.0,118.1 322.4,118.2 324.0,118.7 325.6,118.2 327.2,117.8 328.7,118.0 330.3,118.6 331.9,118.2 333.2,118.7 334.4,119.6 335.7,120.0 336.9,120.8 338.4,121.0 339.7,121.4 341.2,121.3 342.5,120.7 343.8,119.9 345.2,119.4 346.4,118.6 347.9,118.4 349.1,117.5 350.5,116.9 352.0,116.5 353.3,115.7 354.5,114.8 355.7,113.9 357.1,113.2 358.5,112.8 359.9,112.3 361.3,111.9 362.6,111.1 364.0,110.6 365.2,109.7 366.4,108.9 368.0,108.8 369.5,108.4 371.1,108.3 372.6,108.2 374.2,108.2 375.8,108.1 377.3,107.5 378.9,107.4 380.5,107.6 382.1,107.3 384.7,107.1" fill="none" stroke="#000" stroke-width="0.9"/>
<polyline points="232.7,27.0 234.4,27.2 236.1,26.5 237.8,26.8 239.5,26.7 241.2,27.3 242.9,27.2 244.7,27.5 246.4,26.6 248.1,27.0 249.5,27.8 251.1,28.3 252.4,29.3 253.7,30.4 255.1,31.3 256.5,32.2 257.4,33.5 258.1,35.1 259.3,36.2 260.6,37.5 262.2,38.6 263.4,40.1" fill="none" stroke="#000" stroke-width="0.8" stroke-linejoin="round"/>
<polyline points="263.4,40.1 264.5,38.8 265.4,37.4 266.8,36.3 267.6,34.8 269.9,35.0 271.8,36.2 274.0,36.2 276.0,35.5 277.7,35.6 279.3,35.0 281.0,34.7 282.7,35.4 284.4,34.8 286.1,34.6 287.9,34.4 289.6,34.4 291.4,35.3 293.1,35.1 294.9,35.3 296.7,35.3 298.4,35.1 300.2,35.1 302.0,35.5 303.7,34.8 305.5,34.9 307.2,35.1 309.0,34.8 310.7,35.0 312.5,34.6 314.2,34.4 314.4,32.7 313.6,31.1 313.7,29.4 313.6,27.7 313.3,26.1 313.4,24.4 313.2,22.7 313.5,21.0 313.5,18.3" fill="none" stroke="#000" stroke-width="0.8" stroke-linejoin="round"/>
<polyline points="263.4,40.1 264.2,41.7 264.4,43.5 265.2,45.1 265.8,46.7 266.2,48.5 267.0,50.0 267.4,51.7 267.1,53.5 267.9,55.1 268.4,56.7 269.0,58.3 270.7,59.5 271.6,61.3 273.2,62.5 274.9,61.8 276.7,61.7 278.5,62.0 280.1,61.1 281.9,60.9 283.7,60.5 285.4,60.3 287.2,59.7 287.5,61.6 288.3,63.3 289.5,64.8 290.0,66.6 291.3,67.8 292.0,69.3 292.8,70.9 293.5,72.6 294.1,74.3 293.8,76.3 294.8,77.9 294.7,80.0 295.5,82.0 296.4,84.1 296.9,86.2 296.4,88.0 296.3,89.8 295.4,91.4 295.5,93.3 294.6,95.1 293.9,97.1 292.8,98.8 292.3,100.4 291.4,101.7 291.3,103.4 291.6,105.0 291.4,106.7 292.7,108.1 293.8,109.7 295.5,110.8 296.9,111.6 298.5,112.4 299.7,113.6 298.9,115.4 299.2,117.3 299.0,119.2 299.4,120.9 299.5,122.5 299.0,124.1" fill="none" stroke="#000" stroke-width="0.8" stroke-linejoin="round"/>
<polyline points="230.0,57.8 231.7,57.3 233.5,57.8 235.3,57.9 237.0,57.4 238.7,56.9 240.5,57.2 242.2,57.8 244.0,57.2 245.8,57.3 247.6,57.9 249.5,57.8 251.4,56.9 253.2,57.8 255.1,57.6 256.8,58.0 258.6,58.0 260.3,57.9 262.0,58.5 263.8,58.1 265.5,58.6 267.3,58.8 269.0,59.0" fill="none" stroke="#000" stroke-width="0.8" stroke-linejoin="round"/>
<polyline points="229.8,50.1 231.7,50.5 233.5,50.3 235.3,49.9 237.3,49.5 239.3,49.6 241.3,49.5 243.3,49.0 245.4,49.3 247.1,50.1 248.9,50.5 250.9,50.5 250.7,51.7 248.9,51.6 247.1,51.0 245.4,50.9 243.3,50.8 241.3,51.1 239.4,51.7 237.3,51.3 235.3,51.9 233.5,52.0 231.6,52.0 229.8,52.5" fill="none" stroke="#000" stroke-width="0.8" stroke-linejoin="round"/>
<polyline points="230.8,63.3 232.4,63.3 234.1,62.6 235.7,62.9 237.3,63.0 239.3,62.2 241.4,62.8 243.4,62.0 245.3,62.3 247.1,62.0 249.0,61.3 250.9,61.3 251.4,59.5" fill="none" stroke="#000" stroke-width="0.8" stroke-linejoin="round"/>
<polyline points="256.5,87.1 257.1,85.2 258.9,84.1 260.1,82.6 260.7,80.7 262.6,79.6 264.8,79.3 266.6,79.4 268.4,79.1 270.0,80.1 271.8,79.9 272.4,81.5 273.9,82.6 274.5,84.2 275.3,85.6 275.5,87.4 275.9,89.1 275.4,91.0 276.0,92.7 275.0,94.1 274.0,95.7 272.6,96.8 271.3,98.1 270.4,99.6 270.0,101.5 269.0,103.1" fill="none" stroke="#000" stroke-width="0.8" stroke-linejoin="round"/>
<polyline points="276.0,92.7 278.1,92.1 280.1,92.0 281.2,93.5 282.8,94.4 284.4,95.4 284.9,97.0 285.3,98.7 285.8,100.3 287.7,100.4 289.6,101.0 291.4,101.7" fill="none" stroke="#000" stroke-width="0.8" stroke-linejoin="round"/>
<polyline points="294.8,77.2 296.7,76.5 298.7,76.2 300.5,75.3 302.5,75.1 304.3,74.5 306.2,74.2 308.1,74.4 309.9,74.8 311.8,74.6 313.6,75.1 314.5,73.5 314.9,71.8 314.4,69.9 315.0,68.3 315.7,66.6 316.7,65.1 317.1,63.3 317.8,61.6 319.4,60.4 319.9,58.6 320.6,56.9 322.0,55.5 323.7,54.3 324.9,52.7 326.8,52.0 328.4,50.5 330.4,49.9 331.4,48.3 333.0,47.2 334.4,46.0 335.8,44.7 337.5,44.1 339.4,43.8 341.1,43.2 343.0,42.9 344.6,41.8 345.9,40.7 347.6,40.2 349.0,39.4 350.6,38.8 352.5,39.7 354.6,39.5 356.5,40.3" fill="none" stroke="#000" stroke-width="0.8" stroke-linejoin="round"/>
<polyline points="356.5,40.3 358.3,39.2 360.2,38.8 362.1,38.0 364.0,37.3 365.8,36.9 367.6,36.7 369.6,37.2 371.4,36.6 373.1,36.4 374.9,36.7 376.7,36.2 378.4,35.5 380.2,35.8 382.5,36.0 384.7,35.1" fill="none" stroke="#000" stroke-width="0.8" stroke-linejoin="round"/>
<polyline points="356.5,40.3 356.9,42.3 357.5,44.2 358.3,46.1 359.4,47.8 360.3,49.5 362.0,50.5 362.8,52.2 364.0,53.7 365.6,54.5 367.0,55.8 368.7,56.6 369.9,58.1 371.4,59.0 372.5,60.6 374.3,61.1 376.6,61.6 378.7,62.6 380.1,63.6 381.7,64.0 383.2,64.7 384.7,65.5" fill="none" stroke="#000" stroke-width="0.8" stroke-linejoin="round"/>
<polyline points="313.6,75.1 316.0,77.1 317.0,79.0 318.7,80.3 320.8,80.9 322.9,80.4 325.0,80.3 327.2,81.0 329.6,81.1 331.2,81.0 332.8,81.4 334.4,81.9" fill="none" stroke="#000" stroke-width="0.8" stroke-linejoin="round"/>
<polyline points="333.7,71.7 333.3,73.4 333.8,75.1 334.0,76.8 333.9,78.5 334.7,80.2 334.4,81.9 334.6,83.8 334.9,85.6 334.8,87.5 335.8,89.2 335.2,91.2 336.0,93.0 335.9,94.7 335.2,96.2 334.2,97.6 333.6,99.2 333.5,100.9 333.0,102.5 332.1,103.9 331.8,105.8 332.6,107.6 332.4,109.5 332.5,111.3 332.8,113.1 332.9,115.0 334.2,116.3 335.7,117.5 336.8,119.1 338.7,119.7 339.9,121.2" fill="none" stroke="#000" stroke-width="0.8" stroke-linejoin="round"/>
<polyline points="333.7,71.7 335.4,71.7 337.1,71.1 338.8,71.1 340.6,71.2 342.3,70.9 344.1,70.6 345.9,70.7 347.7,71.1 349.5,70.4 351.2,70.8 353.0,71.4 354.8,70.9 355.6,71.7" fill="none" stroke="#000" stroke-width="0.8" stroke-linejoin="round"/>
<polyline points="355.6,71.7 355.4,73.5 356.8,75.0 357.0,76.8 357.0,78.6 357.7,80.2 357.3,82.0 358.1,83.5 357.8,85.4 357.9,87.1 358.6,88.9 359.0,90.7 358.3,92.5 358.6,94.3 358.9,96.1 358.8,97.9 358.3,99.7 358.6,101.6 359.3,103.4 358.3,105.2 358.6,107.1 359.8,108.3 360.5,109.9 361.3,111.5 362.6,112.6" fill="none" stroke="#000" stroke-width="0.8" stroke-linejoin="round"/>
<polyline points="355.6,71.7 357.5,71.4 359.3,71.5 361.0,72.1 362.6,70.9 364.0,69.6 365.8,69.1 367.2,67.9 369.0,67.3 370.5,66.2 372.0,66.9 373.7,66.7 375.2,67.5 376.8,67.8 378.2,66.5 379.9,65.7 381.5,64.6 383.2,64.5 384.7,63.5" fill="none" stroke="#000" stroke-width="0.8" stroke-linejoin="round"/>
<polyline points="361.0,72.1 361.7,73.6 363.3,74.5 363.9,76.1 365.0,77.3 365.8,78.8 366.4,80.5 365.6,82.3 365.9,84.0 366.4,85.8 365.9,87.5 366.2,89.3 366.5,91.0 367.0,92.7 366.6,94.5 367.1,96.2 366.3,98.1 366.4,99.8 366.9,101.6 366.7,103.4 367.1,105.1 367.6,106.9 367.4,108.7" fill="none" stroke="#000" stroke-width="0.8" stroke-linejoin="round"/>
<polyline points="376.8,67.8 377.1,69.5 376.8,71.2 376.1,72.9 376.2,74.6 376.0,76.3 375.9,78.0 376.6,79.8 376.5,81.5 376.6,83.2 375.7,84.9 376.0,86.6 375.6,88.3 376.1,90.0 375.8,91.7 376.4,93.5 375.5,95.2 375.6,96.9 375.5,98.6 375.6,100.3 375.6,102.0 376.5,103.7 375.7,105.4 376.0,107.1" fill="none" stroke="#000" stroke-width="0.8" stroke-linejoin="round"/>
<polyline points="382.1,78.6 382.1,80.3 381.3,81.9 381.3,83.6 381.1,85.3 381.0,87.0 381.2,88.7 381.5,90.3 381.0,92.0 381.8,93.7 381.0,95.4 381.0,97.1 381.8,98.7 381.2,100.4 381.6,102.1 381.8,103.8 381.3,105.5 381.7,107.2" fill="none" stroke="#000" stroke-width="0.8" stroke-linejoin="round"/>
<path transform="translate(223.3,18.3) scale(1.002,1.005)" d="M88.8,76 L90.8,76.5 L91.5,80 L91,85 L89.5,84.5 L88.8,80 Z" fill="#000"/>
<path transform="translate(223.3,18.3) scale(1.002,1.005)" d="M5,44 L7,43.5 L7.5,45 L5.5,45.5 Z" fill="#000"/>
<path transform="translate(223.3,18.3) scale(1.002,1.005)" d="M7.5,47 L10,46.5 L10.5,48.5 L8,49 Z" fill="#000"/>
<path transform="translate(223.3,18.3) scale(1.002,1.005)" d="M4.5,48.5 L6.5,48.3 L6.8,50 L4.8,50.2 Z" fill="#000"/>
<path transform="translate(223.3,18.3) scale(1.002,1.005)" d="M10.8,49.5 L12.5,49.5 L12.5,51 L11,51 Z" fill="#000"/>
<path transform="translate(223.3,18.3) scale(1.002,1.005)" d="M99.5,5.8 L103.5,5.2 L103.8,6.4 L99.8,7 Z" fill="#000"/>
<path transform="translate(223.3,18.3) scale(1.002,1.005)" d="M99.8,13.5 L100.6,13.4 L101.5,16.5 L100.8,16.7 Z" fill="#000"/>
<polyline points="346.6,89.5 349.2,91.6 350.8,94.1 353.3,94.9 355.0,96.6 355.8,99.1 356.2,102.0 355.8,104.9 355.4,108.4 355.8,110.9" fill="none" stroke="#000" stroke-width="1.5" stroke-linejoin="round" stroke-linecap="round"/>
<polyline points="342.5,90.3 344.6,89.9 346.6,89.5 346.6,86.5" fill="none" stroke="#000" stroke-width="1.0" stroke-linejoin="round" stroke-linecap="round"/>
<polyline points="350.4,98.7 354.2,99.1" fill="none" stroke="#000" stroke-width="1.0" stroke-linejoin="round" stroke-linecap="round"/>
<polyline points="349.6,104.9 352.1,105.9 355.0,107.1" fill="none" stroke="#000" stroke-width="1.0" stroke-linejoin="round" stroke-linecap="round"/>
</g>
<rect x="224.2" y="19.2" width="158.6" height="115.8" fill="none" stroke="#000" stroke-width="1.8"/>
<text x="261.9" y="130.8" font-family="Liberation Serif" font-size="10.9" fill="#000" stroke="#000" stroke-width="0.22" text-anchor="middle" textLength="58.2" lengthAdjust="spacingAndGlyphs">EOF2, 9.8%</text>
<clipPath id="c403_18"><rect x="403.5" y="18.3" width="160.4" height="117.6"/></clipPath>
<g clip-path="url(#c403_18)">
<rect x="403.5" y="18.3" width="160.4" height="117.6" fill="#14def2"/>
<g transform="translate(403.50,18.30) scale(4.0100,3.9200)" shape-rendering="crispEdges">
<path fill="#14def2" d="M0 0h6v1h-6zM10 0h6v1h-6zM0 1h6v1h-6zM10 1h6v1h-6zM0 2h6v1h-6zM12 2h6v1h-6zM0 3h6v1h-6zM12 3h6v1h-6zM0 4h4v1h-4zM6 4h4v1h-4zM14 4h4v1h-4zM0 5h4v1h-4zM6 5h4v1h-4zM14 5h4v1h-4zM0 6h10v1h-10zM12 6h6v1h-6zM0 7h10v1h-10zM12 7h6v1h-6zM0 8h18v1h-18zM0 9h18v1h-18zM0 10h18v1h-18zM20 10h2v1h-2zM0 11h18v1h-18zM20 11h2v1h-2zM0 12h4v1h-4zM8 12h8v1h-8zM0 13h4v1h-4zM8 13h8v1h-8zM0 14h6v1h-6zM10 14h6v1h-6zM20 14h2v1h-2zM0 15h6v1h-6zM10 15h6v1h-6zM20 15h2v1h-2zM0 16h20v1h-20zM22 16h4v1h-4zM0 17h20v1h-20zM22 17h4v1h-4zM0 18h14v1h-14zM16 18h2v1h-2zM20 18h2v1h-2zM24 18h2v1h-2zM0 19h14v1h-14zM16 19h2v1h-2zM20 19h2v1h-2zM24 19h2v1h-2zM0 20h16v1h-16zM22 20h6v1h-6zM0 21h16v1h-16zM22 21h6v1h-6zM0 22h16v1h-16zM18 22h2v1h-2zM22 22h4v1h-4zM0 23h16v1h-16zM18 23h2v1h-2zM22 23h4v1h-4z"/>
<path fill="#14baf6" d="M6 0h4v1h-4zM6 1h4v1h-4zM6 2h6v1h-6zM6 3h6v1h-6zM4 4h2v1h-2zM10 4h4v1h-4zM4 5h2v1h-2zM10 5h4v1h-4zM10 6h2v1h-2zM10 7h2v1h-2zM20 16h2v1h-2zM20 17h2v1h-2zM14 18h2v1h-2zM18 18h2v1h-2zM22 18h2v1h-2zM14 19h2v1h-2zM18 19h2v1h-2zM22 19h2v1h-2zM16 20h6v1h-6zM16 21h6v1h-6zM16 22h2v1h-2zM20 22h2v1h-2zM16 23h2v1h-2zM20 23h2v1h-2zM0 24h40v1h-40zM0 25h40v1h-40zM0 26h40v1h-40zM0 27h40v1h-40zM0 28h40v1h-40zM0 29h40v1h-40z"/>
<path fill="#48f0c4" d="M16 0h10v1h-10zM16 1h10v1h-10zM18 2h8v1h-8zM18 3h8v1h-8zM18 4h4v1h-4zM18 5h4v1h-4zM18 6h4v1h-4zM18 7h4v1h-4zM18 8h4v1h-4zM18 9h4v1h-4zM4 12h4v1h-4zM16 12h6v1h-6zM4 13h4v1h-4zM16 13h6v1h-6zM6 14h4v1h-4zM16 14h2v1h-2zM22 14h2v1h-2zM6 15h4v1h-4zM16 15h2v1h-2zM22 15h2v1h-2zM26 16h2v1h-2zM26 17h2v1h-2zM26 18h4v1h-4zM26 19h4v1h-4zM30 20h2v1h-2zM30 21h2v1h-2zM26 22h4v1h-4zM26 23h4v1h-4z"/>
<path fill="#cdf03a" d="M26 0h2v1h-2zM26 1h2v1h-2zM26 2h2v1h-2zM26 3h2v1h-2zM22 4h4v1h-4zM22 5h4v1h-4zM22 6h2v1h-2zM26 6h2v1h-2zM22 7h2v1h-2zM26 7h2v1h-2zM22 8h4v1h-4zM22 9h4v1h-4zM18 10h2v1h-2zM22 10h6v1h-6zM18 11h2v1h-2zM22 11h6v1h-6zM22 12h6v1h-6zM22 13h6v1h-6zM18 14h2v1h-2zM24 14h4v1h-4zM18 15h2v1h-2zM24 15h4v1h-4zM28 16h4v1h-4zM34 16h2v1h-2zM28 17h4v1h-4zM34 17h2v1h-2zM30 18h2v1h-2zM30 19h2v1h-2zM28 20h2v1h-2zM32 20h2v1h-2zM28 21h2v1h-2zM32 21h2v1h-2zM30 22h4v1h-4zM30 23h4v1h-4z"/>
<path fill="#ffe600" d="M28 0h2v1h-2zM28 1h2v1h-2zM28 2h2v1h-2zM28 3h2v1h-2zM26 4h4v1h-4zM26 5h4v1h-4zM24 6h2v1h-2zM28 6h2v1h-2zM24 7h2v1h-2zM28 7h2v1h-2zM26 8h2v1h-2zM26 9h2v1h-2zM28 10h2v1h-2zM28 11h2v1h-2zM28 12h2v1h-2zM28 13h2v1h-2zM28 14h4v1h-4zM28 15h4v1h-4zM32 16h2v1h-2zM32 17h2v1h-2zM32 18h4v1h-4zM32 19h4v1h-4zM34 20h2v1h-2zM34 21h2v1h-2zM34 22h6v1h-6zM34 23h6v1h-6z"/>
<path fill="#ffc800" d="M30 0h2v1h-2zM30 1h2v1h-2zM30 2h2v1h-2zM30 3h2v1h-2zM30 4h2v1h-2zM30 5h2v1h-2zM30 6h2v1h-2zM30 7h2v1h-2zM28 8h4v1h-4zM28 9h4v1h-4zM30 10h4v1h-4zM30 11h4v1h-4zM30 12h4v1h-4zM30 13h4v1h-4zM32 14h4v1h-4zM32 15h4v1h-4zM36 16h2v1h-2zM36 17h2v1h-2zM36 18h2v1h-2zM36 19h2v1h-2zM36 20h4v1h-4zM36 21h4v1h-4z"/>
<path fill="#ffa800" d="M32 0h2v1h-2zM38 0h2v1h-2zM32 1h2v1h-2zM38 1h2v1h-2zM38 2h2v1h-2zM38 3h2v1h-2zM32 4h2v1h-2zM36 4h2v1h-2zM32 5h2v1h-2zM36 5h2v1h-2zM32 6h4v1h-4zM32 7h4v1h-4zM32 8h2v1h-2zM36 8h2v1h-2zM32 9h2v1h-2zM36 9h2v1h-2zM34 10h2v1h-2zM34 11h2v1h-2zM34 12h4v1h-4zM34 13h4v1h-4zM36 14h2v1h-2zM36 15h2v1h-2zM38 16h2v1h-2zM38 17h2v1h-2zM38 18h2v1h-2zM38 19h2v1h-2z"/>
<path fill="#ff8a00" d="M34 0h4v1h-4zM34 1h4v1h-4zM32 2h6v1h-6zM32 3h6v1h-6zM34 4h2v1h-2zM38 4h2v1h-2zM34 5h2v1h-2zM38 5h2v1h-2zM36 6h4v1h-4zM36 7h4v1h-4zM34 8h2v1h-2zM38 8h2v1h-2zM34 9h2v1h-2zM38 9h2v1h-2zM36 10h4v1h-4zM36 11h4v1h-4zM38 12h2v1h-2zM38 13h2v1h-2zM38 14h2v1h-2zM38 15h2v1h-2z"/>
</g>
<polygon points="414.0,17.3 413.6,20.0 413.5,21.7 413.4,23.3 412.9,24.8 412.2,26.3 411.7,27.8 410.5,29.0 409.8,30.4 409.7,32.1 408.8,33.4 408.1,34.7 407.8,36.2 406.7,37.4 406.5,39.0 406.0,40.4 406.6,42.0 408.2,42.9 408.8,44.5 408.5,46.0 409.5,47.3 408.9,48.8 409.5,50.2 409.6,51.6 409.6,53.0 409.2,54.4 408.7,55.8 408.8,57.2 409.4,58.6 409.5,60.0 410.0,61.4 410.5,62.8 410.8,64.2 412.1,65.1 413.5,65.6 414.6,66.8 416.2,67.0 417.2,68.3 418.4,69.3 420.0,69.7 421.3,70.5 422.7,71.2 424.2,71.7 425.0,73.0 426.2,74.0 427.4,75.0 428.0,76.5 429.2,77.5 430.2,78.7 431.1,80.0 431.7,81.4 432.8,82.5 434.0,83.4 435.0,84.6 435.8,85.8 436.7,87.1 437.2,88.4 437.7,89.8 438.2,91.1 438.4,92.6 438.3,94.1 438.9,95.5 439.5,96.8 440.5,98.0 441.9,98.7 443.3,99.3 444.3,100.4 445.9,100.8 446.9,101.9 448.0,102.9 449.2,103.8 450.4,104.8 451.6,105.7 452.9,106.4 454.2,107.3 455.5,107.9 456.6,109.0 457.6,110.2 459.0,110.8 460.0,112.0 461.6,112.5 462.9,113.5 463.8,114.8 464.9,115.9 466.3,116.7 467.4,117.8 468.4,118.8 469.7,119.4 471.0,120.1 472.4,120.4 473.7,121.1 475.0,121.6 476.1,122.5 477.3,123.4 478.5,124.1 480.1,123.9 481.2,122.7 482.8,122.4 484.3,122.1 485.6,121.2 487.3,121.1 488.7,120.4 490.1,119.8 491.5,119.4 492.9,119.6 494.2,118.8 495.7,119.4 497.1,119.2 498.4,118.4 499.9,118.5 501.2,118.1 502.6,118.2 504.2,118.7 505.8,118.2 507.4,117.8 508.9,118.0 510.5,118.6 512.1,118.2 513.4,118.7 514.6,119.6 515.9,120.0 517.1,120.8 518.6,121.0 519.9,121.4 521.4,121.3 522.7,120.7 524.0,119.9 525.4,119.4 526.6,118.6 528.1,118.4 529.3,117.5 530.7,116.9 532.2,116.5 533.5,115.7 534.7,114.8 535.9,113.9 537.3,113.2 538.7,112.8 540.1,112.3 541.5,111.9 542.8,111.1 544.2,110.6 545.4,109.7 546.6,108.9 548.2,108.8 549.7,108.4 551.3,108.3 552.8,108.2 554.4,108.2 556.0,108.1 557.5,107.5 559.1,107.4 560.7,107.6 562.3,107.3 564.9,107.1 564.9,143.9 402.5,143.9 402.5,17.3" fill="#aaaaaa"/>
<polyline points="414.0,17.3 413.6,20.0 413.5,21.7 413.4,23.3 412.9,24.8 412.2,26.3 411.7,27.8 410.5,29.0 409.8,30.4 409.7,32.1 408.8,33.4 408.1,34.7 407.8,36.2 406.7,37.4 406.5,39.0 406.0,40.4 406.6,42.0 408.2,42.9 408.8,44.5 408.5,46.0 409.5,47.3 408.9,48.8 409.5,50.2 409.6,51.6 409.6,53.0 409.2,54.4 408.7,55.8 408.8,57.2 409.4,58.6 409.5,60.0 410.0,61.4 410.5,62.8 410.8,64.2 412.1,65.1 413.5,65.6 414.6,66.8 416.2,67.0 417.2,68.3 418.4,69.3 420.0,69.7 421.3,70.5 422.7,71.2 424.2,71.7 425.0,73.0 426.2,74.0 427.4,75.0 428.0,76.5 429.2,77.5 430.2,78.7 431.1,80.0 431.7,81.4 432.8,82.5 434.0,83.4 435.0,84.6 435.8,85.8 436.7,87.1 437.2,88.4 437.7,89.8 438.2,91.1 438.4,92.6 438.3,94.1 438.9,95.5 439.5,96.8 440.5,98.0 441.9,98.7 443.3,99.3 444.3,100.4 445.9,100.8 446.9,101.9 448.0,102.9 449.2,103.8 450.4,104.8 451.6,105.7 452.9,106.4 454.2,107.3 455.5,107.9 456.6,109.0 457.6,110.2 459.0,110.8 460.0,112.0 461.6,112.5 462.9,113.5 463.8,114.8 464.9,115.9 466.3,116.7 467.4,117.8 468.4,118.8 469.7,119.4 471.0,120.1 472.4,120.4 473.7,121.1 475.0,121.6 476.1,122.5 477.3,123.4 478.5,124.1 480.1,123.9 481.2,122.7 482.8,122.4 484.3,122.1 485.6,121.2 487.3,121.1 488.7,120.4 490.1,119.8 491.5,119.4 492.9,119.6 494.2,118.8 495.7,119.4 497.1,119.2 498.4,118.4 499.9,118.5 501.2,118.1 502.6,118.2 504.2,118.7 505.8,118.2 507.4,117.8 508.9,118.0 510.5,118.6 512.1,118.2 513.4,118.7 514.6,119.6 515.9,120.0 517.1,120.8 518.6,121.0 519.9,121.4 521.4,121.3 522.7,120.7 524.0,119.9 525.4,119.4 526.6,118.6 528.1,118.4 529.3,117.5 530.7,116.9 532.2,116.5 533.5,115.7 534.7,114.8 535.9,113.9 537.3,113.2 538.7,112.8 540.1,112.3 541.5,111.9 542.8,111.1 544.2,110.6 545.4,109.7 546.6,108.9 548.2,108.8 549.7,108.4 551.3,108.3 552.8,108.2 554.4,108.2 556.0,108.1 557.5,107.5 559.1,107.4 560.7,107.6 562.3,107.3 564.9,107.1" fill="none" stroke="#000" stroke-width="0.9"/>
<polyline points="412.9,27.0 414.6,27.2 416.3,26.5 418.0,26.8 419.7,26.7 421.4,27.3 423.1,27.2 424.9,27.5 426.6,26.6 428.3,27.0 429.7,27.8 431.3,28.3 432.6,29.3 433.9,30.4 435.3,31.3 436.7,32.2 437.6,33.5 438.3,35.1 439.5,36.2 440.8,37.5 442.4,38.6 443.6,40.1" fill="none" stroke="#000" stroke-width="0.8" stroke-linejoin="round"/>
<polyline points="443.6,40.1 444.7,38.8 445.6,37.4 447.0,36.3 447.8,34.8 450.1,35.0 452.0,36.2 454.2,36.2 456.2,35.5 457.9,35.6 459.5,35.0 461.2,34.7 462.9,35.4 464.6,34.8 466.3,34.6 468.1,34.4 469.8,34.4 471.6,35.3 473.3,35.1 475.1,35.3 476.9,35.3 478.6,35.1 480.4,35.1 482.2,35.5 483.9,34.8 485.7,34.9 487.4,35.1 489.2,34.8 490.9,35.0 492.7,34.6 494.4,34.4 494.6,32.7 493.8,31.1 493.9,29.4 493.8,27.7 493.5,26.1 493.6,24.4 493.4,22.7 493.7,21.0 493.7,18.3" fill="none" stroke="#000" stroke-width="0.8" stroke-linejoin="round"/>
<polyline points="443.6,40.1 444.4,41.7 444.6,43.5 445.4,45.1 446.0,46.7 446.4,48.5 447.2,50.0 447.6,51.7 447.3,53.5 448.1,55.1 448.6,56.7 449.2,58.3 450.9,59.5 451.8,61.3 453.4,62.5 455.1,61.8 456.9,61.7 458.7,62.0 460.3,61.1 462.1,60.9 463.9,60.5 465.6,60.3 467.4,59.7 467.7,61.6 468.5,63.3 469.7,64.8 470.2,66.6 471.5,67.8 472.2,69.3 473.0,70.9 473.7,72.6 474.3,74.3 474.0,76.3 475.0,77.9 474.9,80.0 475.7,82.0 476.6,84.1 477.1,86.2 476.6,88.0 476.5,89.8 475.6,91.4 475.7,93.3 474.8,95.1 474.1,97.1 473.0,98.8 472.5,100.4 471.6,101.7 471.5,103.4 471.8,105.0 471.6,106.7 472.9,108.1 474.0,109.7 475.7,110.8 477.1,111.6 478.7,112.4 479.9,113.6 479.1,115.4 479.4,117.3 479.2,119.2 479.6,120.9 479.7,122.5 479.2,124.1" fill="none" stroke="#000" stroke-width="0.8" stroke-linejoin="round"/>
<polyline points="410.2,57.8 411.9,57.3 413.7,57.8 415.5,57.9 417.2,57.4 418.9,56.9 420.7,57.2 422.4,57.8 424.2,57.2 426.0,57.3 427.8,57.9 429.7,57.8 431.6,56.9 433.4,57.8 435.3,57.6 437.0,58.0 438.8,58.0 440.5,57.9 442.2,58.5 444.0,58.1 445.7,58.6 447.5,58.8 449.2,59.0" fill="none" stroke="#000" stroke-width="0.8" stroke-linejoin="round"/>
<polyline points="410.0,50.1 411.9,50.5 413.7,50.3 415.5,49.9 417.5,49.5 419.5,49.6 421.5,49.5 423.5,49.0 425.6,49.3 427.3,50.1 429.1,50.5 431.1,50.5 430.9,51.7 429.1,51.6 427.3,51.0 425.6,50.9 423.5,50.8 421.5,51.1 419.6,51.7 417.5,51.3 415.5,51.9 413.7,52.0 411.8,52.0 410.0,52.5" fill="none" stroke="#000" stroke-width="0.8" stroke-linejoin="round"/>
<polyline points="411.0,63.3 412.6,63.3 414.3,62.6 415.9,62.9 417.5,63.0 419.5,62.2 421.6,62.8 423.6,62.0 425.5,62.3 427.3,62.0 429.2,61.3 431.1,61.3 431.6,59.5" fill="none" stroke="#000" stroke-width="0.8" stroke-linejoin="round"/>
<polyline points="436.7,87.1 437.3,85.2 439.1,84.1 440.3,82.6 440.9,80.7 442.8,79.6 445.0,79.3 446.8,79.4 448.6,79.1 450.2,80.1 452.0,79.9 452.6,81.5 454.1,82.6 454.7,84.2 455.5,85.6 455.7,87.4 456.1,89.1 455.6,91.0 456.2,92.7 455.2,94.1 454.2,95.7 452.8,96.8 451.5,98.1 450.6,99.6 450.2,101.5 449.2,103.1" fill="none" stroke="#000" stroke-width="0.8" stroke-linejoin="round"/>
<polyline points="456.2,92.7 458.3,92.1 460.3,92.0 461.4,93.5 463.0,94.4 464.6,95.4 465.1,97.0 465.5,98.7 466.0,100.3 467.9,100.4 469.8,101.0 471.6,101.7" fill="none" stroke="#000" stroke-width="0.8" stroke-linejoin="round"/>
<polyline points="475.0,77.2 476.9,76.5 478.9,76.2 480.7,75.3 482.7,75.1 484.5,74.5 486.4,74.2 488.3,74.4 490.1,74.8 492.0,74.6 493.8,75.1 494.7,73.5 495.1,71.8 494.6,69.9 495.2,68.3 495.9,66.6 496.9,65.1 497.3,63.3 498.0,61.6 499.6,60.4 500.1,58.6 500.8,56.9 502.2,55.5 503.9,54.3 505.1,52.7 507.0,52.0 508.6,50.5 510.6,49.9 511.6,48.3 513.2,47.2 514.6,46.0 516.0,44.7 517.7,44.1 519.6,43.8 521.3,43.2 523.2,42.9 524.8,41.8 526.1,40.7 527.8,40.2 529.2,39.4 530.8,38.8 532.7,39.7 534.8,39.5 536.7,40.3" fill="none" stroke="#000" stroke-width="0.8" stroke-linejoin="round"/>
<polyline points="536.7,40.3 538.5,39.2 540.4,38.8 542.3,38.0 544.2,37.3 546.0,36.9 547.8,36.7 549.8,37.2 551.6,36.6 553.3,36.4 555.1,36.7 556.9,36.2 558.6,35.5 560.4,35.8 562.7,36.0 564.9,35.1" fill="none" stroke="#000" stroke-width="0.8" stroke-linejoin="round"/>
<polyline points="536.7,40.3 537.1,42.3 537.7,44.2 538.5,46.1 539.6,47.8 540.5,49.5 542.2,50.5 543.0,52.2 544.2,53.7 545.8,54.5 547.2,55.8 548.9,56.6 550.1,58.1 551.6,59.0 552.7,60.6 554.5,61.1 556.8,61.6 558.9,62.6 560.3,63.6 561.9,64.0 563.4,64.7 564.9,65.5" fill="none" stroke="#000" stroke-width="0.8" stroke-linejoin="round"/>
<polyline points="493.8,75.1 496.2,77.1 497.2,79.0 498.9,80.3 501.0,80.9 503.1,80.4 505.2,80.3 507.4,81.0 509.8,81.1 511.4,81.0 513.0,81.4 514.6,81.9" fill="none" stroke="#000" stroke-width="0.8" stroke-linejoin="round"/>
<polyline points="513.9,71.7 513.5,73.4 514.0,75.1 514.2,76.8 514.1,78.5 514.9,80.2 514.6,81.9 514.8,83.8 515.1,85.6 515.0,87.5 516.0,89.2 515.4,91.2 516.2,93.0 516.1,94.7 515.4,96.2 514.4,97.6 513.8,99.2 513.7,100.9 513.2,102.5 512.3,103.9 512.0,105.8 512.8,107.6 512.6,109.5 512.7,111.3 513.0,113.1 513.1,115.0 514.4,116.3 515.9,117.5 517.0,119.1 518.9,119.7 520.1,121.2" fill="none" stroke="#000" stroke-width="0.8" stroke-linejoin="round"/>
<polyline points="513.9,71.7 515.6,71.7 517.3,71.1 519.0,71.1 520.8,71.2 522.5,70.9 524.3,70.6 526.1,70.7 527.9,71.1 529.7,70.4 531.4,70.8 533.2,71.4 535.0,70.9 535.8,71.7" fill="none" stroke="#000" stroke-width="0.8" stroke-linejoin="round"/>
<polyline points="535.8,71.7 535.6,73.5 537.0,75.0 537.2,76.8 537.2,78.6 537.9,80.2 537.5,82.0 538.3,83.5 538.0,85.4 538.1,87.1 538.8,88.9 539.2,90.7 538.5,92.5 538.8,94.3 539.1,96.1 539.0,97.9 538.5,99.7 538.8,101.6 539.5,103.4 538.5,105.2 538.8,107.1 540.0,108.3 540.7,109.9 541.5,111.5 542.8,112.6" fill="none" stroke="#000" stroke-width="0.8" stroke-linejoin="round"/>
<polyline points="535.8,71.7 537.7,71.4 539.5,71.5 541.2,72.1 542.8,70.9 544.2,69.6 546.0,69.1 547.4,67.9 549.2,67.3 550.7,66.2 552.2,66.9 553.9,66.7 555.4,67.5 557.0,67.8 558.4,66.5 560.1,65.7 561.7,64.6 563.4,64.5 564.9,63.5" fill="none" stroke="#000" stroke-width="0.8" stroke-linejoin="round"/>
<polyline points="541.2,72.1 541.9,73.6 543.5,74.5 544.1,76.1 545.2,77.3 546.0,78.8 546.6,80.5 545.8,82.3 546.1,84.0 546.6,85.8 546.1,87.5 546.4,89.3 546.7,91.0 547.2,92.7 546.8,94.5 547.3,96.2 546.5,98.1 546.6,99.8 547.1,101.6 546.9,103.4 547.3,105.1 547.8,106.9 547.6,108.7" fill="none" stroke="#000" stroke-width="0.8" stroke-linejoin="round"/>
<polyline points="557.0,67.8 557.3,69.5 557.0,71.2 556.3,72.9 556.4,74.6 556.2,76.3 556.1,78.0 556.8,79.8 556.7,81.5 556.8,83.2 555.9,84.9 556.2,86.6 555.8,88.3 556.3,90.0 556.0,91.7 556.6,93.5 555.7,95.2 555.8,96.9 555.7,98.6 555.8,100.3 555.8,102.0 556.7,103.7 555.9,105.4 556.2,107.1" fill="none" stroke="#000" stroke-width="0.8" stroke-linejoin="round"/>
<polyline points="562.3,78.6 562.3,80.3 561.5,81.9 561.5,83.6 561.3,85.3 561.2,87.0 561.4,88.7 561.7,90.3 561.2,92.0 562.0,93.7 561.2,95.4 561.2,97.1 562.0,98.7 561.4,100.4 561.8,102.1 562.0,103.8 561.5,105.5 561.9,107.2" fill="none" stroke="#000" stroke-width="0.8" stroke-linejoin="round"/>
<path transform="translate(403.5,18.3) scale(1.002,1.005)" d="M88.8,76 L90.8,76.5 L91.5,80 L91,85 L89.5,84.5 L88.8,80 Z" fill="#000"/>
<path transform="translate(403.5,18.3) scale(1.002,1.005)" d="M5,44 L7,43.5 L7.5,45 L5.5,45.5 Z" fill="#000"/>
<path transform="translate(403.5,18.3) scale(1.002,1.005)" d="M7.5,47 L10,46.5 L10.5,48.5 L8,49 Z" fill="#000"/>
<path transform="translate(403.5,18.3) scale(1.002,1.005)" d="M4.5,48.5 L6.5,48.3 L6.8,50 L4.8,50.2 Z" fill="#000"/>
<path transform="translate(403.5,18.3) scale(1.002,1.005)" d="M10.8,49.5 L12.5,49.5 L12.5,51 L11,51 Z" fill="#000"/>
<path transform="translate(403.5,18.3) scale(1.002,1.005)" d="M99.5,5.8 L103.5,5.2 L103.8,6.4 L99.8,7 Z" fill="#000"/>
<path transform="translate(403.5,18.3) scale(1.002,1.005)" d="M99.8,13.5 L100.6,13.4 L101.5,16.5 L100.8,16.7 Z" fill="#000"/>
<polyline points="526.8,89.5 529.4,91.6 531.0,94.1 533.5,94.9 535.2,96.6 536.0,99.1 536.4,102.0 536.0,104.9 535.6,108.4 536.0,110.9" fill="none" stroke="#000" stroke-width="1.5" stroke-linejoin="round" stroke-linecap="round"/>
<polyline points="522.7,90.3 524.8,89.9 526.8,89.5 526.8,86.5" fill="none" stroke="#000" stroke-width="1.0" stroke-linejoin="round" stroke-linecap="round"/>
<polyline points="530.6,98.7 534.4,99.1" fill="none" stroke="#000" stroke-width="1.0" stroke-linejoin="round" stroke-linecap="round"/>
<polyline points="529.8,104.9 532.3,105.9 535.2,107.1" fill="none" stroke="#000" stroke-width="1.0" stroke-linejoin="round" stroke-linecap="round"/>
</g>
<rect x="404.4" y="19.2" width="158.6" height="115.8" fill="none" stroke="#000" stroke-width="1.8"/>
<text x="442.1" y="130.8" font-family="Liberation Serif" font-size="10.9" fill="#000" stroke="#000" stroke-width="0.22" text-anchor="middle" textLength="57.8" lengthAdjust="spacingAndGlyphs">EOF3, 6.2%</text>
<clipPath id="c43_171"><rect x="43.5" y="171.6" width="158.9" height="117.1"/></clipPath>
<g clip-path="url(#c43_171)">
<rect x="43.5" y="171.6" width="158.9" height="117.1" fill="#ff7700"/>
<g transform="translate(43.50,171.60) scale(3.9725,4.0379)" shape-rendering="crispEdges">
<path fill="#ff7700" d="M0 0h2v1h-2zM4 0h19v1h-19zM27 0h2v1h-2zM31 0h1v1h-1zM37 0h3v1h-3zM0 1h24v1h-24zM27 1h1v1h-1zM31 1h1v1h-1zM36 1h4v1h-4zM0 2h23v1h-23zM27 2h2v1h-2zM35 2h5v1h-5zM4 3h1v1h-1zM7 3h16v1h-16zM28 3h2v1h-2zM34 3h6v1h-6zM0 4h2v1h-2zM3 4h1v1h-1zM8 4h10v1h-10zM19 4h1v1h-1zM21 4h3v1h-3zM26 4h4v1h-4zM31 4h1v1h-1zM34 4h6v1h-6zM4 5h1v1h-1zM8 5h16v1h-16zM26 5h14v1h-14zM0 6h2v1h-2zM6 6h1v1h-1zM9 6h9v1h-9zM19 6h6v1h-6zM26 6h14v1h-14zM6 7h1v1h-1zM9 7h9v1h-9zM19 7h21v1h-21zM10 8h13v1h-13zM25 8h1v1h-1zM27 8h13v1h-13zM10 9h1v1h-1zM12 9h9v1h-9zM22 9h1v1h-1zM25 9h1v1h-1zM28 9h9v1h-9zM38 9h2v1h-2zM11 10h10v1h-10zM29 10h8v1h-8zM38 10h2v1h-2zM9 11h1v1h-1zM12 11h8v1h-8zM23 11h1v1h-1zM27 11h1v1h-1zM29 11h9v1h-9zM39 11h1v1h-1zM9 12h9v1h-9zM21 12h1v1h-1zM28 12h7v1h-7zM39 12h1v1h-1zM8 13h11v1h-11zM21 13h1v1h-1zM24 13h4v1h-4zM29 13h2v1h-2zM32 13h1v1h-1zM35 13h1v1h-1zM39 13h1v1h-1zM0 14h15v1h-15zM16 14h3v1h-3zM28 14h6v1h-6zM0 15h22v1h-22zM27 15h1v1h-1zM30 15h1v1h-1zM33 15h1v1h-1zM0 16h18v1h-18zM26 16h1v1h-1zM29 16h1v1h-1zM32 16h2v1h-2zM0 17h15v1h-15zM16 17h1v1h-1zM25 17h1v1h-1zM27 17h1v1h-1zM30 17h5v1h-5zM39 17h1v1h-1zM0 18h11v1h-11zM12 18h5v1h-5zM27 18h2v1h-2zM30 18h4v1h-4zM35 18h1v1h-1zM39 18h1v1h-1zM0 19h11v1h-11zM13 19h2v1h-2zM16 19h1v1h-1zM18 19h1v1h-1zM22 19h1v1h-1zM26 19h1v1h-1zM29 19h7v1h-7zM38 19h1v1h-1zM0 20h12v1h-12zM13 20h1v1h-1zM15 20h3v1h-3zM25 20h6v1h-6zM33 20h1v1h-1zM0 21h12v1h-12zM13 21h1v1h-1zM15 21h7v1h-7zM26 21h12v1h-12zM0 22h12v1h-12zM13 22h1v1h-1zM15 22h7v1h-7zM25 22h14v1h-14zM0 23h22v1h-22zM23 23h14v1h-14zM38 23h2v1h-2zM0 24h23v1h-23zM24 24h8v1h-8zM33 24h7v1h-7zM0 25h40v1h-40zM0 26h40v1h-40zM0 27h40v1h-40zM0 28h40v1h-40z"/>
<path fill="#ffaa00" d="M2 0h2v1h-2zM23 0h4v1h-4zM29 0h2v1h-2zM32 0h5v1h-5zM24 1h3v1h-3zM28 1h3v1h-3zM32 1h4v1h-4zM23 2h4v1h-4zM29 2h6v1h-6zM0 3h4v1h-4zM5 3h2v1h-2zM23 3h5v1h-5zM30 3h4v1h-4zM2 4h1v1h-1zM4 4h4v1h-4zM24 4h2v1h-2zM30 4h1v1h-1zM32 4h2v1h-2zM0 5h4v1h-4zM5 5h3v1h-3zM24 5h2v1h-2zM2 6h4v1h-4zM7 6h2v1h-2zM25 6h1v1h-1zM0 7h6v1h-6zM7 7h2v1h-2zM0 8h4v1h-4zM6 8h4v1h-4zM0 9h10v1h-10zM11 9h1v1h-1zM0 10h11v1h-11zM0 11h9v1h-9zM10 11h2v1h-2zM0 12h9v1h-9zM0 13h8v1h-8zM32 24h1v1h-1z"/>
<path fill="#ff1100" d="M18 4h1v1h-1zM20 4h1v1h-1zM18 6h1v1h-1zM18 7h1v1h-1zM23 8h2v1h-2zM26 8h1v1h-1zM21 9h1v1h-1zM23 9h2v1h-2zM26 9h2v1h-2zM37 9h1v1h-1zM21 10h8v1h-8zM37 10h1v1h-1zM20 11h3v1h-3zM24 11h3v1h-3zM28 11h1v1h-1zM38 11h1v1h-1zM18 12h3v1h-3zM22 12h6v1h-6zM35 12h4v1h-4zM19 13h2v1h-2zM22 13h2v1h-2zM28 13h1v1h-1zM31 13h1v1h-1zM33 13h2v1h-2zM36 13h3v1h-3zM15 14h1v1h-1zM19 14h9v1h-9zM34 14h6v1h-6zM22 15h5v1h-5zM28 15h2v1h-2zM31 15h2v1h-2zM34 15h6v1h-6zM18 16h8v1h-8zM27 16h2v1h-2zM30 16h2v1h-2zM34 16h6v1h-6zM15 17h1v1h-1zM17 17h8v1h-8zM26 17h1v1h-1zM28 17h2v1h-2zM35 17h4v1h-4zM11 18h1v1h-1zM17 18h10v1h-10zM29 18h1v1h-1zM34 18h1v1h-1zM36 18h3v1h-3zM11 19h2v1h-2zM15 19h1v1h-1zM17 19h1v1h-1zM19 19h3v1h-3zM23 19h3v1h-3zM27 19h2v1h-2zM36 19h2v1h-2zM39 19h1v1h-1zM12 20h1v1h-1zM14 20h1v1h-1zM18 20h7v1h-7zM31 20h2v1h-2zM34 20h6v1h-6zM12 21h1v1h-1zM14 21h1v1h-1zM22 21h4v1h-4zM38 21h2v1h-2zM12 22h1v1h-1zM14 22h1v1h-1zM22 22h3v1h-3zM39 22h1v1h-1zM22 23h1v1h-1zM37 23h1v1h-1zM23 24h1v1h-1z"/>
<path fill="#ffee00" d="M4 8h2v1h-2z"/>
</g>
<polygon points="52.4,169.4 52.0,172.4 52.0,174.2 51.8,176.0 51.3,177.7 50.7,179.4 50.1,181.0 49.0,182.3 48.2,183.8 48.1,185.7 47.3,187.1 46.6,188.6 46.3,190.3 45.2,191.6 45.0,193.3 44.5,194.9 45.1,196.7 46.7,197.7 47.3,199.4 47.0,201.0 47.9,202.5 47.3,204.1 48.0,205.6 48.1,207.2 48.1,208.7 47.6,210.3 47.2,211.8 47.3,213.3 47.8,214.8 48.0,216.5 48.5,218.0 49.0,219.5 49.3,221.1 50.5,222.0 51.9,222.6 53.0,223.9 54.6,224.2 55.6,225.5 56.8,226.7 58.3,227.1 59.6,228.0 61.0,228.8 62.5,229.3 63.3,230.7 64.5,231.8 65.7,232.9 66.3,234.6 67.5,235.7 68.5,237.0 69.3,238.5 70.0,240.0 71.0,241.2 72.3,242.2 73.2,243.5 74.0,244.8 74.9,246.2 75.4,247.7 75.9,249.2 76.4,250.7 76.5,252.3 76.4,254.0 77.1,255.4 77.7,256.9 78.6,258.3 80.0,259.0 81.4,259.6 82.5,260.8 84.0,261.3 85.0,262.5 86.1,263.6 87.3,264.7 88.5,265.7 89.6,266.7 91.0,267.5 92.2,268.4 93.5,269.2 94.6,270.4 95.6,271.7 97.0,272.3 98.0,273.7 99.6,274.2 100.8,275.3 101.7,276.7 102.8,277.9 104.2,278.8 105.3,280.0 106.3,281.1 107.6,281.8 108.9,282.5 110.3,282.9 111.5,283.6 112.9,284.2 114.0,285.2 115.1,286.2 116.3,287.0 117.9,286.8 119.0,285.4 120.6,285.1 122.1,284.8 123.4,283.7 125.0,283.6 126.4,282.8 127.8,282.2 129.2,281.8 130.6,282.0 131.9,281.1 133.4,281.7 134.7,281.6 136.0,280.6 137.5,280.8 138.8,280.3 140.2,280.5 141.8,281.0 143.3,280.5 144.9,280.0 146.5,280.2 148.0,280.9 149.6,280.5 150.9,281.0 152.0,282.0 153.4,282.4 154.5,283.3 156.0,283.5 157.3,284.0 158.8,283.9 160.1,283.2 161.4,282.3 162.7,281.8 164.0,280.9 165.4,280.7 166.6,279.7 168.0,279.0 169.5,278.6 170.8,277.7 172.0,276.7 173.2,275.8 174.5,275.0 176.0,274.5 177.4,274.0 178.8,273.5 180.0,272.6 181.4,272.1 182.6,271.1 183.8,270.3 185.3,270.1 186.8,269.7 188.4,269.5 190.0,269.4 191.5,269.5 193.1,269.3 194.6,268.7 196.2,268.6 197.8,268.9 199.3,268.4 201.9,268.2 203.4,296.7 42.5,296.7 42.5,170.6" fill="#e0ecec"/>
<polyline points="52.4,169.4 52.0,172.4 52.0,174.2 51.8,176.0 51.3,177.7 50.7,179.4 50.1,181.0 49.0,182.3 48.2,183.8 48.1,185.7 47.3,187.1 46.6,188.6 46.3,190.3 45.2,191.6 45.0,193.3 44.5,194.9 45.1,196.7 46.7,197.7 47.3,199.4 47.0,201.0 47.9,202.5 47.3,204.1 48.0,205.6 48.1,207.2 48.1,208.7 47.6,210.3 47.2,211.8 47.3,213.3 47.8,214.8 48.0,216.5 48.5,218.0 49.0,219.5 49.3,221.1 50.5,222.0 51.9,222.6 53.0,223.9 54.6,224.2 55.6,225.5 56.8,226.7 58.3,227.1 59.6,228.0 61.0,228.8 62.5,229.3 63.3,230.7 64.5,231.8 65.7,232.9 66.3,234.6 67.5,235.7 68.5,237.0 69.3,238.5 70.0,240.0 71.0,241.2 72.3,242.2 73.2,243.5 74.0,244.8 74.9,246.2 75.4,247.7 75.9,249.2 76.4,250.7 76.5,252.3 76.4,254.0 77.1,255.4 77.7,256.9 78.6,258.3 80.0,259.0 81.4,259.6 82.5,260.8 84.0,261.3 85.0,262.5 86.1,263.6 87.3,264.7 88.5,265.7 89.6,266.7 91.0,267.5 92.2,268.4 93.5,269.2 94.6,270.4 95.6,271.7 97.0,272.3 98.0,273.7 99.6,274.2 100.8,275.3 101.7,276.7 102.8,277.9 104.2,278.8 105.3,280.0 106.3,281.1 107.6,281.8 108.9,282.5 110.3,282.9 111.5,283.6 112.9,284.2 114.0,285.2 115.1,286.2 116.3,287.0 117.9,286.8 119.0,285.4 120.6,285.1 122.1,284.8 123.4,283.7 125.0,283.6 126.4,282.8 127.8,282.2 129.2,281.8 130.6,282.0 131.9,281.1 133.4,281.7 134.7,281.6 136.0,280.6 137.5,280.8 138.8,280.3 140.2,280.5 141.8,281.0 143.3,280.5 144.9,280.0 146.5,280.2 148.0,280.9 149.6,280.5 150.9,281.0 152.0,282.0 153.4,282.4 154.5,283.3 156.0,283.5 157.3,284.0 158.8,283.9 160.1,283.2 161.4,282.3 162.7,281.8 164.0,280.9 165.4,280.7 166.6,279.7 168.0,279.0 169.5,278.6 170.8,277.7 172.0,276.7 173.2,275.8 174.5,275.0 176.0,274.5 177.4,274.0 178.8,273.5 180.0,272.6 181.4,272.1 182.6,271.1 183.8,270.3 185.3,270.1 186.8,269.7 188.4,269.5 190.0,269.4 191.5,269.5 193.1,269.3 194.6,268.7 196.2,268.6 197.8,268.9 199.3,268.4 201.9,268.2" fill="none" stroke="#000" stroke-width="0.9"/>
<polyline points="51.3,180.2 53.0,180.3 54.7,179.6 56.4,179.9 58.1,179.8 59.8,180.5 61.5,180.4 63.2,180.6 64.9,179.7 66.5,180.2 68.0,181.0 69.6,181.5 70.9,182.7 72.1,183.9 73.5,184.8 74.9,185.8 75.8,187.3 76.5,189.0 77.7,190.2 79.0,191.7 80.6,192.9 81.7,194.5" fill="none" stroke="#000" stroke-width="0.8" stroke-linejoin="round"/>
<polyline points="81.7,194.5 82.8,193.1 83.7,191.6 85.1,190.4 85.9,188.7 88.2,188.9 90.1,190.2 92.2,190.2 94.2,189.5 95.9,189.5 97.5,189.0 99.2,188.6 100.9,189.4 102.5,188.7 104.2,188.5 106.0,188.3 107.7,188.3 109.5,189.3 111.2,189.0 112.9,189.3 114.7,189.2 116.4,189.0 118.2,189.0 119.9,189.5 121.7,188.7 123.4,188.8 125.2,189.0 126.9,188.7 128.6,188.9 130.4,188.4 132.1,188.2 132.2,186.4 131.4,184.6 131.5,182.7 131.5,180.9 131.2,179.1 131.3,177.2 131.0,175.4 131.4,173.5 131.4,170.5" fill="none" stroke="#000" stroke-width="0.8" stroke-linejoin="round"/>
<polyline points="81.7,194.5 82.5,196.3 82.7,198.3 83.5,200.0 84.1,201.8 84.5,203.7 85.3,205.4 85.7,207.3 85.4,209.3 86.2,211.0 86.7,212.8 87.3,214.6 88.9,215.8 89.9,217.9 91.5,219.2 93.1,218.4 94.9,218.3 96.7,218.6 98.3,217.7 100.1,217.4 101.8,217.0 103.6,216.7 105.3,216.1 105.6,218.2 106.4,220.1 107.6,221.7 108.1,223.7 109.4,225.0 110.1,226.7 110.8,228.4 111.6,230.2 112.1,232.2 111.9,234.3 112.8,236.1 112.8,238.5 113.5,240.7 114.4,242.9 114.9,245.3 114.4,247.2 114.3,249.2 113.4,251.0 113.5,253.1 112.7,255.1 112.0,257.2 110.8,259.1 110.4,260.9 109.4,262.3 109.4,264.1 109.7,266.0 109.4,267.8 110.7,269.3 111.9,271.1 113.5,272.3 115.0,273.2 116.5,274.1 117.7,275.4 116.9,277.4 117.2,279.5 117.0,281.6 117.4,283.4 117.5,285.2 117.0,287.0" fill="none" stroke="#000" stroke-width="0.8" stroke-linejoin="round"/>
<polyline points="48.7,214.0 50.4,213.5 52.1,214.0 53.9,214.1 55.6,213.6 57.3,213.1 59.0,213.4 60.8,214.0 62.5,213.3 64.3,213.5 66.1,214.1 68.0,214.0 69.8,213.1 71.6,214.0 73.5,213.8 75.2,214.2 76.9,214.2 78.7,214.1 80.4,214.7 82.2,214.3 83.9,214.9 85.6,215.1 87.3,215.3" fill="none" stroke="#000" stroke-width="0.8" stroke-linejoin="round"/>
<polyline points="48.5,205.5 50.3,206.0 52.1,205.8 53.9,205.3 55.9,204.8 57.9,205.0 59.9,204.8 61.9,204.3 63.9,204.6 65.6,205.5 67.4,205.9 69.3,205.9 69.1,207.3 67.3,207.2 65.6,206.5 63.9,206.4 61.9,206.4 59.9,206.6 58.0,207.3 55.9,206.9 53.9,207.5 52.1,207.7 50.3,207.6 48.5,208.2" fill="none" stroke="#000" stroke-width="0.8" stroke-linejoin="round"/>
<polyline points="49.5,220.1 51.1,220.0 52.7,219.3 54.3,219.6 55.9,219.8 57.8,218.8 60.0,219.5 61.9,218.7 63.8,218.9 65.6,218.7 67.4,217.8 69.3,217.9 69.8,215.9" fill="none" stroke="#000" stroke-width="0.8" stroke-linejoin="round"/>
<polyline points="74.9,246.2 75.5,244.2 77.3,243.0 78.4,241.3 79.1,239.2 80.9,238.0 83.1,237.7 84.9,237.8 86.6,237.5 88.3,238.5 90.1,238.3 90.7,240.1 92.2,241.3 92.7,243.1 93.6,244.6 93.7,246.6 94.2,248.5 93.7,250.5 94.2,252.4 93.2,254.0 92.3,255.7 90.9,256.9 89.6,258.3 88.7,260.0 88.3,262.1 87.3,263.9" fill="none" stroke="#000" stroke-width="0.8" stroke-linejoin="round"/>
<polyline points="94.2,252.4 96.2,251.8 98.3,251.6 99.4,253.3 101.0,254.3 102.5,255.4 103.0,257.2 103.4,259.0 103.9,260.8 105.8,260.9 107.7,261.5 109.4,262.3" fill="none" stroke="#000" stroke-width="0.8" stroke-linejoin="round"/>
<polyline points="112.8,235.4 114.7,234.6 116.7,234.3 118.5,233.3 120.5,233.0 122.3,232.4 124.1,232.0 126.0,232.3 127.8,232.7 129.7,232.4 131.5,233.0 132.3,231.3 132.7,229.4 132.3,227.3 132.9,225.5 133.6,223.7 134.6,222.0 134.9,220.0 135.7,218.2 137.2,216.8 137.7,214.8 138.4,213.0 139.8,211.4 141.4,210.2 142.6,208.4 144.6,207.7 146.1,206.0 148.1,205.3 149.1,203.5 150.7,202.4 152.0,201.0 153.4,199.6 155.2,199.0 157.0,198.6 158.7,197.9 160.6,197.6 162.2,196.4 163.5,195.2 165.1,194.7 166.6,193.8 168.1,193.1 170.0,194.1 172.1,193.9 174.0,194.8" fill="none" stroke="#000" stroke-width="0.8" stroke-linejoin="round"/>
<polyline points="174.0,194.8 175.7,193.6 177.7,193.1 179.5,192.2 181.3,191.5 183.2,191.0 185.0,190.8 186.9,191.4 188.7,190.7 190.4,190.4 192.2,190.8 193.9,190.2 195.6,189.4 197.4,189.8 199.8,190.0 201.9,189.0" fill="none" stroke="#000" stroke-width="0.8" stroke-linejoin="round"/>
<polyline points="174.0,194.8 174.4,197.0 175.0,199.1 175.7,201.1 176.9,203.0 177.7,204.8 179.4,206.0 180.2,207.8 181.3,209.5 183.0,210.4 184.3,211.8 186.0,212.7 187.2,214.3 188.7,215.3 189.8,217.0 191.6,217.7 193.8,218.2 195.9,219.3 197.3,220.4 198.9,220.9 200.5,221.6 201.9,222.5" fill="none" stroke="#000" stroke-width="0.8" stroke-linejoin="round"/>
<polyline points="131.5,233.0 133.9,235.2 134.8,237.4 136.6,238.8 138.6,239.4 140.7,238.9 142.7,238.8 145.0,239.5 147.3,239.7 148.9,239.6 150.5,240.0 152.0,240.6" fill="none" stroke="#000" stroke-width="0.8" stroke-linejoin="round"/>
<polyline points="151.4,229.3 151.0,231.2 151.5,233.0 151.7,234.9 151.5,236.8 152.4,238.6 152.0,240.6 152.2,242.6 152.6,244.6 152.5,246.7 153.5,248.6 152.9,250.8 153.6,252.7 153.5,254.6 152.9,256.3 151.9,257.8 151.2,259.5 151.1,261.4 150.7,263.2 149.8,264.8 149.5,266.8 150.3,268.8 150.1,270.9 150.2,272.9 150.5,274.9 150.6,276.9 151.9,278.4 153.3,279.7 154.4,281.5 156.3,282.2 157.5,283.8" fill="none" stroke="#000" stroke-width="0.8" stroke-linejoin="round"/>
<polyline points="151.4,229.3 153.1,229.4 154.7,228.6 156.5,228.6 158.2,228.8 159.9,228.4 161.7,228.1 163.4,228.2 165.2,228.7 167.0,227.9 168.8,228.3 170.5,229.0 172.3,228.4 173.1,229.3" fill="none" stroke="#000" stroke-width="0.8" stroke-linejoin="round"/>
<polyline points="173.1,229.3 172.9,231.3 174.3,233.0 174.5,234.9 174.5,236.9 175.1,238.6 174.8,240.6 175.6,242.3 175.3,244.3 175.4,246.3 176.1,248.2 176.4,250.2 175.8,252.2 176.0,254.2 176.4,256.1 176.2,258.2 175.7,260.2 176.1,262.2 176.7,264.2 175.8,266.2 176.1,268.2 177.3,269.6 177.9,271.4 178.7,273.1 180.1,274.3" fill="none" stroke="#000" stroke-width="0.8" stroke-linejoin="round"/>
<polyline points="173.1,229.3 174.9,229.0 176.7,229.1 178.5,229.7 180.1,228.4 181.4,227.0 183.2,226.4 184.6,225.1 186.3,224.4 187.8,223.3 189.3,224.0 191.0,223.8 192.5,224.7 194.1,225.0 195.5,223.6 197.2,222.7 198.7,221.5 200.5,221.4 201.9,220.3" fill="none" stroke="#000" stroke-width="0.8" stroke-linejoin="round"/>
<polyline points="178.5,229.7 179.1,231.4 180.7,232.4 181.3,234.1 182.4,235.5 183.1,237.1 183.8,239.0 183.0,241.0 183.2,242.9 183.7,244.8 183.3,246.7 183.6,248.6 183.8,250.5 184.4,252.4 183.9,254.4 184.5,256.3 183.7,258.3 183.8,260.3 184.3,262.2 184.1,264.1 184.4,266.1 185.0,268.0 184.7,270.0" fill="none" stroke="#000" stroke-width="0.8" stroke-linejoin="round"/>
<polyline points="194.1,225.0 194.4,226.9 194.1,228.8 193.4,230.6 193.4,232.5 193.3,234.4 193.2,236.3 193.9,238.2 193.8,240.1 193.8,242.0 193.0,243.8 193.3,245.8 192.8,247.6 193.4,249.5 193.1,251.4 193.6,253.2 192.8,255.1 192.9,257.0 192.7,258.8 192.9,260.7 192.8,262.6 193.8,264.5 193.0,266.3 193.3,268.2" fill="none" stroke="#000" stroke-width="0.8" stroke-linejoin="round"/>
<polyline points="199.3,236.9 199.4,238.8 198.6,240.5 198.5,242.4 198.3,244.2 198.2,246.1 198.4,248.0 198.7,249.8 198.2,251.7 199.0,253.5 198.2,255.4 198.3,257.2 199.0,259.1 198.4,260.9 198.8,262.8 199.0,264.6 198.6,266.5 198.9,268.3" fill="none" stroke="#000" stroke-width="0.8" stroke-linejoin="round"/>
<polyline points="164.2,248.8 166.7,251.2 168.3,253.9 170.8,254.8 172.5,256.7 173.3,259.5 173.7,262.7 173.3,265.9 172.9,269.6 173.3,272.4" fill="none" stroke="#000" stroke-width="2.0" stroke-linejoin="round" stroke-linecap="round"/>
<polyline points="160.1,249.7 162.2,249.3 164.2,248.8 164.2,245.6" fill="none" stroke="#000" stroke-width="1.3" stroke-linejoin="round" stroke-linecap="round"/>
<polyline points="167.9,259.0 171.7,259.5" fill="none" stroke="#000" stroke-width="1.3" stroke-linejoin="round" stroke-linecap="round"/>
<polyline points="167.1,265.9 169.6,267.0 172.5,268.2" fill="none" stroke="#000" stroke-width="1.3" stroke-linejoin="round" stroke-linecap="round"/>
<polyline points="164.2,248.8 166.7,251.2 168.3,253.9 170.8,254.8 172.5,256.7 173.3,259.5 173.7,262.7 173.3,265.9 172.9,269.6 173.3,272.4" fill="none" stroke="#e0ecec" stroke-width="0.9" stroke-linejoin="round" stroke-linecap="round"/>
<polyline points="160.1,249.7 162.2,249.3 164.2,248.8 164.2,245.6" fill="none" stroke="#e0ecec" stroke-width="0.4" stroke-linejoin="round" stroke-linecap="round"/>
<polyline points="167.9,259.0 171.7,259.5" fill="none" stroke="#e0ecec" stroke-width="0.4" stroke-linejoin="round" stroke-linecap="round"/>
<polyline points="167.1,265.9 169.6,267.0 172.5,268.2" fill="none" stroke="#e0ecec" stroke-width="0.4" stroke-linejoin="round" stroke-linecap="round"/>
</g>
<rect x="43.5" y="171.6" width="158.9" height="117.1" fill="none" stroke="#7d8585" stroke-width="1.1"/><line x1="83.6" y1="168.6" x2="83.6" y2="171.6" stroke="#666" stroke-width="0.7"/><line x1="83.6" y1="288.7" x2="83.6" y2="291.7" stroke="#666" stroke-width="0.7"/><line x1="128.5" y1="168.6" x2="128.5" y2="171.6" stroke="#666" stroke-width="0.7"/><line x1="128.5" y1="288.7" x2="128.5" y2="291.7" stroke="#666" stroke-width="0.7"/><line x1="173.3" y1="168.6" x2="173.3" y2="171.6" stroke="#666" stroke-width="0.7"/><line x1="173.3" y1="288.7" x2="173.3" y2="291.7" stroke="#666" stroke-width="0.7"/><line x1="40.5" y1="182.9" x2="43.5" y2="182.9" stroke="#666" stroke-width="0.7"/><line x1="202.4" y1="182.9" x2="205.4" y2="182.9" stroke="#666" stroke-width="0.7"/><line x1="40.5" y1="219.1" x2="43.5" y2="219.1" stroke="#666" stroke-width="0.7"/><line x1="202.4" y1="219.1" x2="205.4" y2="219.1" stroke="#666" stroke-width="0.7"/><line x1="40.5" y1="255.1" x2="43.5" y2="255.1" stroke="#666" stroke-width="0.7"/><line x1="202.4" y1="255.1" x2="205.4" y2="255.1" stroke="#666" stroke-width="0.7"/>
<text x="82.5" y="285.8" font-family="Liberation Serif" font-size="10.9" fill="#000" stroke="#000" stroke-width="0.22" text-anchor="middle" textLength="64.3" lengthAdjust="spacingAndGlyphs">EOF1, 42.8%</text>
<text x="83.1" y="304.2" font-family="Liberation Sans" font-size="7.6" fill="#000" stroke="#000" stroke-width="0.2" text-anchor="middle">−12′</text>
<text x="128.5" y="304.2" font-family="Liberation Sans" font-size="7.6" fill="#000" stroke="#000" stroke-width="0.2" text-anchor="middle">−6′</text>
<text x="173.3" y="304.2" font-family="Liberation Sans" font-size="7.6" fill="#000" stroke="#000" stroke-width="0.2" text-anchor="middle">0′</text>
<rect x="64.30" y="307.5" width="15.04" height="7.9" fill="#3399f7" stroke="#222" stroke-width="0.5"/>
<rect x="79.34" y="307.5" width="15.04" height="7.9" fill="#1ec6f6" stroke="#222" stroke-width="0.5"/>
<rect x="94.38" y="307.5" width="15.04" height="7.9" fill="#5cf0fa" stroke="#222" stroke-width="0.5"/>
<rect x="109.41" y="307.5" width="15.04" height="7.9" fill="#aaf6f8" stroke="#222" stroke-width="0.5"/>
<rect x="124.45" y="307.5" width="15.04" height="7.9" fill="#fff000" stroke="#222" stroke-width="0.5"/>
<rect x="139.49" y="307.5" width="15.04" height="7.9" fill="#ffaa00" stroke="#222" stroke-width="0.5"/>
<rect x="154.52" y="307.5" width="15.04" height="7.9" fill="#ff7700" stroke="#222" stroke-width="0.5"/>
<rect x="169.56" y="307.5" width="15.04" height="7.9" fill="#ff1100" stroke="#222" stroke-width="0.5"/>
<line x1="64.3" y1="315.4" x2="64.3" y2="318.4" stroke="#222" stroke-width="0.6"/>
<text x="64.3" y="330.4" font-family="Liberation Sans" font-size="8" fill="#000" stroke="#000" stroke-width="0.2" text-anchor="middle">−1.0</text>
<line x1="94.4" y1="315.4" x2="94.4" y2="318.4" stroke="#222" stroke-width="0.6"/>
<text x="94.4" y="330.4" font-family="Liberation Sans" font-size="8" fill="#000" stroke="#000" stroke-width="0.2" text-anchor="middle">−0.5</text>
<line x1="124.4" y1="315.4" x2="124.4" y2="318.4" stroke="#222" stroke-width="0.6"/>
<text x="124.4" y="330.4" font-family="Liberation Sans" font-size="8" fill="#000" stroke="#000" stroke-width="0.2" text-anchor="middle">0.0</text>
<line x1="154.5" y1="315.4" x2="154.5" y2="318.4" stroke="#222" stroke-width="0.6"/>
<text x="154.5" y="330.4" font-family="Liberation Sans" font-size="8" fill="#000" stroke="#000" stroke-width="0.2" text-anchor="middle">0.5</text>
<line x1="184.6" y1="315.4" x2="184.6" y2="318.4" stroke="#222" stroke-width="0.6"/>
<text x="184.6" y="330.4" font-family="Liberation Sans" font-size="8" fill="#000" stroke="#000" stroke-width="0.2" text-anchor="middle">1.0</text>
<clipPath id="c223_171"><rect x="223.4" y="171.6" width="158.9" height="117.1"/></clipPath>
<g clip-path="url(#c223_171)">
<rect x="223.4" y="171.6" width="158.9" height="117.1" fill="#ffee00"/>
<g transform="translate(223.40,171.60) scale(3.9725,3.9033)" shape-rendering="crispEdges">
<path fill="#ffee00" d="M0 0h6v1h-6zM12 0h4v1h-4zM0 1h6v1h-6zM12 1h4v1h-4zM14 2h2v1h-2zM14 3h2v1h-2zM16 6h2v1h-2zM16 7h2v1h-2zM16 8h4v1h-4zM16 9h4v1h-4zM16 10h8v1h-8zM16 11h8v1h-8zM16 12h4v1h-4zM22 12h8v1h-8zM16 13h4v1h-4zM22 13h8v1h-8zM30 14h6v1h-6zM30 15h6v1h-6zM32 16h2v1h-2zM36 16h2v1h-2zM32 17h2v1h-2zM36 17h2v1h-2zM36 18h2v1h-2zM36 19h2v1h-2zM36 20h4v1h-4zM36 21h4v1h-4zM12 22h2v1h-2zM36 22h4v1h-4zM12 23h2v1h-2zM36 23h4v1h-4zM24 24h2v1h-2zM28 24h2v1h-2zM24 25h2v1h-2zM28 25h2v1h-2zM28 26h12v1h-12zM28 27h12v1h-12z"/>
<path fill="#a8f6f8" d="M6 0h6v1h-6zM6 1h6v1h-6zM0 2h2v1h-2zM4 2h10v1h-10zM0 3h2v1h-2zM4 3h10v1h-10zM6 4h10v1h-10zM6 5h10v1h-10zM10 6h6v1h-6zM10 7h6v1h-6zM12 8h4v1h-4zM12 9h4v1h-4zM14 10h2v1h-2zM14 11h2v1h-2zM14 12h2v1h-2zM20 12h2v1h-2zM14 13h2v1h-2zM20 13h2v1h-2zM16 14h14v1h-14zM16 15h14v1h-14zM18 16h14v1h-14zM34 16h2v1h-2zM38 16h2v1h-2zM18 17h14v1h-14zM34 17h2v1h-2zM38 17h2v1h-2zM18 18h18v1h-18zM38 18h2v1h-2zM18 19h18v1h-18zM38 19h2v1h-2zM20 20h16v1h-16zM20 21h16v1h-16zM20 22h16v1h-16zM20 23h16v1h-16zM20 24h4v1h-4zM26 24h2v1h-2zM30 24h10v1h-10zM20 25h4v1h-4zM26 25h2v1h-2zM30 25h10v1h-10zM20 26h8v1h-8zM20 27h8v1h-8z"/>
<path fill="#ffaa00" d="M16 0h4v1h-4zM16 1h4v1h-4zM16 2h6v1h-6zM16 3h6v1h-6zM16 4h4v1h-4zM16 5h4v1h-4zM18 6h6v1h-6zM18 7h6v1h-6zM20 8h6v1h-6zM20 9h6v1h-6zM24 10h6v1h-6zM24 11h6v1h-6zM30 12h6v1h-6zM30 13h6v1h-6zM36 14h4v1h-4zM36 15h4v1h-4z"/>
<path fill="#ff7700" d="M20 0h10v1h-10zM34 0h6v1h-6zM20 1h10v1h-10zM34 1h6v1h-6zM22 2h4v1h-4zM28 2h2v1h-2zM34 2h6v1h-6zM22 3h4v1h-4zM28 3h2v1h-2zM34 3h6v1h-6zM20 4h12v1h-12zM34 4h6v1h-6zM20 5h12v1h-12zM34 5h6v1h-6zM24 6h16v1h-16zM24 7h16v1h-16zM26 8h14v1h-14zM26 9h14v1h-14zM30 10h10v1h-10zM30 11h10v1h-10zM36 12h4v1h-4zM36 13h4v1h-4z"/>
<path fill="#ff1100" d="M30 0h4v1h-4zM30 1h4v1h-4zM26 2h2v1h-2zM30 2h4v1h-4zM26 3h2v1h-2zM30 3h4v1h-4zM32 4h2v1h-2zM32 5h2v1h-2z"/>
<path fill="#5eeefa" d="M2 2h2v1h-2zM2 3h2v1h-2zM0 4h6v1h-6zM0 5h6v1h-6zM0 6h10v1h-10zM0 7h10v1h-10zM0 8h12v1h-12zM0 9h12v1h-12zM0 10h2v1h-2zM4 10h10v1h-10zM0 11h2v1h-2zM4 11h10v1h-10zM0 12h14v1h-14zM0 13h14v1h-14zM0 14h16v1h-16zM0 15h16v1h-16zM0 16h14v1h-14zM16 16h2v1h-2zM0 17h14v1h-14zM16 17h2v1h-2zM0 18h18v1h-18zM0 19h18v1h-18zM0 20h20v1h-20zM0 21h20v1h-20zM0 22h12v1h-12zM14 22h6v1h-6zM0 23h12v1h-12zM14 23h6v1h-6zM0 24h20v1h-20zM0 25h20v1h-20zM0 26h20v1h-20zM0 27h20v1h-20zM0 28h40v1h-40zM0 29h40v1h-40z"/>
<path fill="#1ec8f8" d="M2 10h2v1h-2zM2 11h2v1h-2zM14 16h2v1h-2zM14 17h2v1h-2z"/>
</g>
<polygon points="232.3,169.4 231.9,172.4 231.9,174.2 231.7,176.0 231.2,177.7 230.6,179.4 230.0,181.0 228.9,182.3 228.1,183.8 228.0,185.7 227.2,187.1 226.5,188.6 226.2,190.3 225.1,191.6 224.9,193.3 224.4,194.9 225.0,196.7 226.6,197.7 227.2,199.4 226.9,201.0 227.8,202.5 227.2,204.1 227.9,205.6 228.0,207.2 228.0,208.7 227.5,210.3 227.1,211.8 227.2,213.3 227.7,214.8 227.9,216.5 228.4,218.0 228.9,219.5 229.2,221.1 230.4,222.0 231.8,222.6 232.9,223.9 234.5,224.2 235.5,225.5 236.7,226.7 238.2,227.1 239.5,228.0 240.9,228.8 242.4,229.3 243.2,230.7 244.4,231.8 245.6,232.9 246.2,234.6 247.4,235.7 248.4,237.0 249.2,238.5 249.9,240.0 250.9,241.2 252.2,242.2 253.1,243.5 253.9,244.8 254.8,246.2 255.3,247.7 255.8,249.2 256.3,250.7 256.4,252.3 256.3,254.0 257.0,255.4 257.6,256.9 258.5,258.3 259.9,259.0 261.3,259.6 262.4,260.8 263.9,261.3 264.9,262.5 266.0,263.6 267.2,264.7 268.4,265.7 269.5,266.7 270.9,267.5 272.1,268.4 273.4,269.2 274.5,270.4 275.5,271.7 276.9,272.3 277.9,273.7 279.5,274.2 280.7,275.3 281.6,276.7 282.7,277.9 284.1,278.8 285.2,280.0 286.2,281.1 287.5,281.8 288.8,282.5 290.2,282.9 291.4,283.6 292.8,284.2 293.9,285.2 295.0,286.2 296.2,287.0 297.8,286.8 298.9,285.4 300.5,285.1 302.0,284.8 303.3,283.7 304.9,283.6 306.3,282.8 307.7,282.2 309.1,281.8 310.5,282.0 311.8,281.1 313.3,281.7 314.6,281.6 315.9,280.6 317.4,280.8 318.7,280.3 320.1,280.5 321.7,281.0 323.2,280.5 324.8,280.0 326.4,280.2 327.9,280.9 329.5,280.5 330.8,281.0 331.9,282.0 333.3,282.4 334.4,283.3 335.9,283.5 337.2,284.0 338.7,283.9 340.0,283.2 341.3,282.3 342.6,281.8 343.9,280.9 345.3,280.7 346.5,279.7 347.9,279.0 349.4,278.6 350.7,277.7 351.9,276.7 353.1,275.8 354.4,275.0 355.9,274.5 357.3,274.0 358.7,273.5 359.9,272.6 361.3,272.1 362.5,271.1 363.7,270.3 365.2,270.1 366.7,269.7 368.3,269.5 369.9,269.4 371.4,269.5 373.0,269.3 374.5,268.7 376.1,268.6 377.7,268.9 379.2,268.4 381.8,268.2 383.3,296.7 222.4,296.7 222.4,170.6" fill="#e0ecec"/>
<polyline points="232.3,169.4 231.9,172.4 231.9,174.2 231.7,176.0 231.2,177.7 230.6,179.4 230.0,181.0 228.9,182.3 228.1,183.8 228.0,185.7 227.2,187.1 226.5,188.6 226.2,190.3 225.1,191.6 224.9,193.3 224.4,194.9 225.0,196.7 226.6,197.7 227.2,199.4 226.9,201.0 227.8,202.5 227.2,204.1 227.9,205.6 228.0,207.2 228.0,208.7 227.5,210.3 227.1,211.8 227.2,213.3 227.7,214.8 227.9,216.5 228.4,218.0 228.9,219.5 229.2,221.1 230.4,222.0 231.8,222.6 232.9,223.9 234.5,224.2 235.5,225.5 236.7,226.7 238.2,227.1 239.5,228.0 240.9,228.8 242.4,229.3 243.2,230.7 244.4,231.8 245.6,232.9 246.2,234.6 247.4,235.7 248.4,237.0 249.2,238.5 249.9,240.0 250.9,241.2 252.2,242.2 253.1,243.5 253.9,244.8 254.8,246.2 255.3,247.7 255.8,249.2 256.3,250.7 256.4,252.3 256.3,254.0 257.0,255.4 257.6,256.9 258.5,258.3 259.9,259.0 261.3,259.6 262.4,260.8 263.9,261.3 264.9,262.5 266.0,263.6 267.2,264.7 268.4,265.7 269.5,266.7 270.9,267.5 272.1,268.4 273.4,269.2 274.5,270.4 275.5,271.7 276.9,272.3 277.9,273.7 279.5,274.2 280.7,275.3 281.6,276.7 282.7,277.9 284.1,278.8 285.2,280.0 286.2,281.1 287.5,281.8 288.8,282.5 290.2,282.9 291.4,283.6 292.8,284.2 293.9,285.2 295.0,286.2 296.2,287.0 297.8,286.8 298.9,285.4 300.5,285.1 302.0,284.8 303.3,283.7 304.9,283.6 306.3,282.8 307.7,282.2 309.1,281.8 310.5,282.0 311.8,281.1 313.3,281.7 314.6,281.6 315.9,280.6 317.4,280.8 318.7,280.3 320.1,280.5 321.7,281.0 323.2,280.5 324.8,280.0 326.4,280.2 327.9,280.9 329.5,280.5 330.8,281.0 331.9,282.0 333.3,282.4 334.4,283.3 335.9,283.5 337.2,284.0 338.7,283.9 340.0,283.2 341.3,282.3 342.6,281.8 343.9,280.9 345.3,280.7 346.5,279.7 347.9,279.0 349.4,278.6 350.7,277.7 351.9,276.7 353.1,275.8 354.4,275.0 355.9,274.5 357.3,274.0 358.7,273.5 359.9,272.6 361.3,272.1 362.5,271.1 363.7,270.3 365.2,270.1 366.7,269.7 368.3,269.5 369.9,269.4 371.4,269.5 373.0,269.3 374.5,268.7 376.1,268.6 377.7,268.9 379.2,268.4 381.8,268.2" fill="none" stroke="#000" stroke-width="0.9"/>
<polyline points="231.2,180.2 232.9,180.3 234.6,179.6 236.3,179.9 238.0,179.8 239.7,180.5 241.4,180.4 243.1,180.6 244.8,179.7 246.4,180.2 247.9,181.0 249.5,181.5 250.8,182.7 252.0,183.9 253.4,184.8 254.8,185.8 255.7,187.3 256.4,189.0 257.6,190.2 258.9,191.7 260.5,192.9 261.6,194.5" fill="none" stroke="#000" stroke-width="0.8" stroke-linejoin="round"/>
<polyline points="261.6,194.5 262.7,193.1 263.6,191.6 265.0,190.4 265.8,188.7 268.1,188.9 270.0,190.2 272.1,190.2 274.1,189.5 275.8,189.5 277.4,189.0 279.1,188.6 280.8,189.4 282.4,188.7 284.1,188.5 285.9,188.3 287.6,188.3 289.4,189.3 291.1,189.0 292.8,189.3 294.6,189.2 296.3,189.0 298.1,189.0 299.8,189.5 301.6,188.7 303.3,188.8 305.1,189.0 306.8,188.7 308.5,188.9 310.3,188.4 312.0,188.2 312.1,186.4 311.3,184.6 311.4,182.7 311.4,180.9 311.1,179.1 311.2,177.2 310.9,175.4 311.3,173.5 311.3,170.5" fill="none" stroke="#000" stroke-width="0.8" stroke-linejoin="round"/>
<polyline points="261.6,194.5 262.4,196.3 262.6,198.3 263.4,200.0 264.0,201.8 264.4,203.7 265.2,205.4 265.6,207.3 265.3,209.3 266.1,211.0 266.6,212.8 267.2,214.6 268.8,215.8 269.8,217.9 271.4,219.2 273.0,218.4 274.8,218.3 276.6,218.6 278.2,217.7 280.0,217.4 281.7,217.0 283.5,216.7 285.2,216.1 285.5,218.2 286.3,220.1 287.5,221.7 288.0,223.7 289.3,225.0 290.0,226.7 290.7,228.4 291.5,230.2 292.0,232.2 291.8,234.3 292.7,236.1 292.7,238.5 293.4,240.7 294.3,242.9 294.8,245.3 294.3,247.2 294.2,249.2 293.3,251.0 293.4,253.1 292.6,255.1 291.9,257.2 290.7,259.1 290.3,260.9 289.3,262.3 289.3,264.1 289.6,266.0 289.3,267.8 290.6,269.3 291.8,271.1 293.4,272.3 294.9,273.2 296.4,274.1 297.6,275.4 296.8,277.4 297.1,279.5 296.9,281.6 297.3,283.4 297.4,285.2 296.9,287.0" fill="none" stroke="#000" stroke-width="0.8" stroke-linejoin="round"/>
<polyline points="228.6,214.0 230.3,213.5 232.0,214.0 233.8,214.1 235.5,213.6 237.2,213.1 238.9,213.4 240.7,214.0 242.4,213.3 244.2,213.5 246.0,214.1 247.9,214.0 249.7,213.1 251.5,214.0 253.4,213.8 255.1,214.2 256.8,214.2 258.6,214.1 260.3,214.7 262.1,214.3 263.8,214.9 265.5,215.1 267.2,215.3" fill="none" stroke="#000" stroke-width="0.8" stroke-linejoin="round"/>
<polyline points="228.4,205.5 230.2,206.0 232.0,205.8 233.8,205.3 235.8,204.8 237.8,205.0 239.8,204.8 241.8,204.3 243.8,204.6 245.5,205.5 247.3,205.9 249.2,205.9 249.0,207.3 247.2,207.2 245.5,206.5 243.8,206.4 241.8,206.4 239.8,206.6 237.9,207.3 235.8,206.9 233.8,207.5 232.0,207.7 230.2,207.6 228.4,208.2" fill="none" stroke="#000" stroke-width="0.8" stroke-linejoin="round"/>
<polyline points="229.4,220.1 231.0,220.0 232.6,219.3 234.2,219.6 235.8,219.8 237.7,218.8 239.9,219.5 241.8,218.7 243.7,218.9 245.5,218.7 247.3,217.8 249.2,217.9 249.7,215.9" fill="none" stroke="#000" stroke-width="0.8" stroke-linejoin="round"/>
<polyline points="254.8,246.2 255.4,244.2 257.2,243.0 258.3,241.3 259.0,239.2 260.8,238.0 263.0,237.7 264.8,237.8 266.5,237.5 268.2,238.5 270.0,238.3 270.6,240.1 272.1,241.3 272.6,243.1 273.5,244.6 273.6,246.6 274.1,248.5 273.6,250.5 274.1,252.4 273.1,254.0 272.2,255.7 270.8,256.9 269.5,258.3 268.6,260.0 268.2,262.1 267.2,263.9" fill="none" stroke="#000" stroke-width="0.8" stroke-linejoin="round"/>
<polyline points="274.1,252.4 276.1,251.8 278.2,251.6 279.3,253.3 280.9,254.3 282.4,255.4 282.9,257.2 283.3,259.0 283.8,260.8 285.7,260.9 287.6,261.5 289.3,262.3" fill="none" stroke="#000" stroke-width="0.8" stroke-linejoin="round"/>
<polyline points="292.7,235.4 294.6,234.6 296.6,234.3 298.4,233.3 300.4,233.0 302.2,232.4 304.0,232.0 305.9,232.3 307.7,232.7 309.6,232.4 311.4,233.0 312.2,231.3 312.6,229.4 312.2,227.3 312.8,225.5 313.5,223.7 314.5,222.0 314.8,220.0 315.6,218.2 317.1,216.8 317.6,214.8 318.3,213.0 319.7,211.4 321.3,210.2 322.5,208.4 324.5,207.7 326.0,206.0 328.0,205.3 329.0,203.5 330.6,202.4 331.9,201.0 333.3,199.6 335.1,199.0 336.9,198.6 338.6,197.9 340.5,197.6 342.1,196.4 343.4,195.2 345.0,194.7 346.5,193.8 348.0,193.1 349.9,194.1 352.0,193.9 353.9,194.8" fill="none" stroke="#000" stroke-width="0.8" stroke-linejoin="round"/>
<polyline points="353.9,194.8 355.6,193.6 357.6,193.1 359.4,192.2 361.2,191.5 363.1,191.0 364.9,190.8 366.8,191.4 368.6,190.7 370.3,190.4 372.1,190.8 373.8,190.2 375.5,189.4 377.3,189.8 379.7,190.0 381.8,189.0" fill="none" stroke="#000" stroke-width="0.8" stroke-linejoin="round"/>
<polyline points="353.9,194.8 354.3,197.0 354.9,199.1 355.6,201.1 356.8,203.0 357.6,204.8 359.3,206.0 360.1,207.8 361.2,209.5 362.9,210.4 364.2,211.8 365.9,212.7 367.1,214.3 368.6,215.3 369.7,217.0 371.5,217.7 373.7,218.2 375.8,219.3 377.2,220.4 378.8,220.9 380.4,221.6 381.8,222.5" fill="none" stroke="#000" stroke-width="0.8" stroke-linejoin="round"/>
<polyline points="311.4,233.0 313.8,235.2 314.7,237.4 316.5,238.8 318.5,239.4 320.6,238.9 322.6,238.8 324.9,239.5 327.2,239.7 328.8,239.6 330.4,240.0 331.9,240.6" fill="none" stroke="#000" stroke-width="0.8" stroke-linejoin="round"/>
<polyline points="331.3,229.3 330.9,231.2 331.4,233.0 331.6,234.9 331.4,236.8 332.3,238.6 331.9,240.6 332.1,242.6 332.5,244.6 332.4,246.7 333.4,248.6 332.8,250.8 333.5,252.7 333.4,254.6 332.8,256.3 331.8,257.8 331.1,259.5 331.0,261.4 330.6,263.2 329.7,264.8 329.4,266.8 330.2,268.8 330.0,270.9 330.1,272.9 330.4,274.9 330.5,276.9 331.8,278.4 333.2,279.7 334.3,281.5 336.2,282.2 337.4,283.8" fill="none" stroke="#000" stroke-width="0.8" stroke-linejoin="round"/>
<polyline points="331.3,229.3 333.0,229.4 334.6,228.6 336.4,228.6 338.1,228.8 339.8,228.4 341.6,228.1 343.3,228.2 345.1,228.7 346.9,227.9 348.7,228.3 350.4,229.0 352.2,228.4 353.0,229.3" fill="none" stroke="#000" stroke-width="0.8" stroke-linejoin="round"/>
<polyline points="353.0,229.3 352.8,231.3 354.2,233.0 354.4,234.9 354.4,236.9 355.0,238.6 354.7,240.6 355.5,242.3 355.2,244.3 355.3,246.3 356.0,248.2 356.3,250.2 355.7,252.2 355.9,254.2 356.3,256.1 356.1,258.2 355.6,260.2 356.0,262.2 356.6,264.2 355.7,266.2 356.0,268.2 357.2,269.6 357.8,271.4 358.6,273.1 360.0,274.3" fill="none" stroke="#000" stroke-width="0.8" stroke-linejoin="round"/>
<polyline points="353.0,229.3 354.8,229.0 356.6,229.1 358.4,229.7 360.0,228.4 361.3,227.0 363.1,226.4 364.5,225.1 366.2,224.4 367.7,223.3 369.2,224.0 370.9,223.8 372.4,224.7 374.0,225.0 375.4,223.6 377.1,222.7 378.6,221.5 380.4,221.4 381.8,220.3" fill="none" stroke="#000" stroke-width="0.8" stroke-linejoin="round"/>
<polyline points="358.4,229.7 359.0,231.4 360.6,232.4 361.2,234.1 362.3,235.5 363.0,237.1 363.7,239.0 362.9,241.0 363.1,242.9 363.6,244.8 363.2,246.7 363.5,248.6 363.7,250.5 364.3,252.4 363.8,254.4 364.4,256.3 363.6,258.3 363.7,260.3 364.2,262.2 364.0,264.1 364.3,266.1 364.9,268.0 364.6,270.0" fill="none" stroke="#000" stroke-width="0.8" stroke-linejoin="round"/>
<polyline points="374.0,225.0 374.3,226.9 374.0,228.8 373.3,230.6 373.3,232.5 373.2,234.4 373.1,236.3 373.8,238.2 373.7,240.1 373.7,242.0 372.9,243.8 373.2,245.8 372.7,247.6 373.3,249.5 373.0,251.4 373.5,253.2 372.7,255.1 372.8,257.0 372.6,258.8 372.8,260.7 372.7,262.6 373.7,264.5 372.9,266.3 373.2,268.2" fill="none" stroke="#000" stroke-width="0.8" stroke-linejoin="round"/>
<polyline points="379.2,236.9 379.3,238.8 378.5,240.5 378.4,242.4 378.2,244.2 378.1,246.1 378.3,248.0 378.6,249.8 378.1,251.7 378.9,253.5 378.1,255.4 378.2,257.2 378.9,259.1 378.3,260.9 378.7,262.8 378.9,264.6 378.5,266.5 378.8,268.3" fill="none" stroke="#000" stroke-width="0.8" stroke-linejoin="round"/>
<polyline points="344.1,248.8 346.6,251.2 348.2,253.9 350.7,254.8 352.4,256.7 353.2,259.5 353.6,262.7 353.2,265.9 352.8,269.6 353.2,272.4" fill="none" stroke="#000" stroke-width="2.0" stroke-linejoin="round" stroke-linecap="round"/>
<polyline points="340.0,249.7 342.1,249.3 344.1,248.8 344.1,245.6" fill="none" stroke="#000" stroke-width="1.3" stroke-linejoin="round" stroke-linecap="round"/>
<polyline points="347.8,259.0 351.6,259.5" fill="none" stroke="#000" stroke-width="1.3" stroke-linejoin="round" stroke-linecap="round"/>
<polyline points="347.0,265.9 349.5,267.0 352.4,268.2" fill="none" stroke="#000" stroke-width="1.3" stroke-linejoin="round" stroke-linecap="round"/>
<polyline points="344.1,248.8 346.6,251.2 348.2,253.9 350.7,254.8 352.4,256.7 353.2,259.5 353.6,262.7 353.2,265.9 352.8,269.6 353.2,272.4" fill="none" stroke="#e0ecec" stroke-width="0.9" stroke-linejoin="round" stroke-linecap="round"/>
<polyline points="340.0,249.7 342.1,249.3 344.1,248.8 344.1,245.6" fill="none" stroke="#e0ecec" stroke-width="0.4" stroke-linejoin="round" stroke-linecap="round"/>
<polyline points="347.8,259.0 351.6,259.5" fill="none" stroke="#e0ecec" stroke-width="0.4" stroke-linejoin="round" stroke-linecap="round"/>
<polyline points="347.0,265.9 349.5,267.0 352.4,268.2" fill="none" stroke="#e0ecec" stroke-width="0.4" stroke-linejoin="round" stroke-linecap="round"/>
</g>
<rect x="223.4" y="171.6" width="158.9" height="117.1" fill="none" stroke="#7d8585" stroke-width="1.1"/><line x1="263.5" y1="168.6" x2="263.5" y2="171.6" stroke="#666" stroke-width="0.7"/><line x1="263.5" y1="288.7" x2="263.5" y2="291.7" stroke="#666" stroke-width="0.7"/><line x1="308.4" y1="168.6" x2="308.4" y2="171.6" stroke="#666" stroke-width="0.7"/><line x1="308.4" y1="288.7" x2="308.4" y2="291.7" stroke="#666" stroke-width="0.7"/><line x1="353.2" y1="168.6" x2="353.2" y2="171.6" stroke="#666" stroke-width="0.7"/><line x1="353.2" y1="288.7" x2="353.2" y2="291.7" stroke="#666" stroke-width="0.7"/><line x1="220.4" y1="182.9" x2="223.4" y2="182.9" stroke="#666" stroke-width="0.7"/><line x1="382.3" y1="182.9" x2="385.3" y2="182.9" stroke="#666" stroke-width="0.7"/><line x1="220.4" y1="219.1" x2="223.4" y2="219.1" stroke="#666" stroke-width="0.7"/><line x1="382.3" y1="219.1" x2="385.3" y2="219.1" stroke="#666" stroke-width="0.7"/><line x1="220.4" y1="255.1" x2="223.4" y2="255.1" stroke="#666" stroke-width="0.7"/><line x1="382.3" y1="255.1" x2="385.3" y2="255.1" stroke="#666" stroke-width="0.7"/>
<text x="262.4" y="285.8" font-family="Liberation Serif" font-size="10.9" fill="#000" stroke="#000" stroke-width="0.22" text-anchor="middle" textLength="64.3" lengthAdjust="spacingAndGlyphs">EOF2, 14.0%</text>
<text x="263.0" y="304.2" font-family="Liberation Sans" font-size="7.6" fill="#000" stroke="#000" stroke-width="0.2" text-anchor="middle">−12′</text>
<text x="308.4" y="304.2" font-family="Liberation Sans" font-size="7.6" fill="#000" stroke="#000" stroke-width="0.2" text-anchor="middle">−6′</text>
<text x="353.2" y="304.2" font-family="Liberation Sans" font-size="7.6" fill="#000" stroke="#000" stroke-width="0.2" text-anchor="middle">0′</text>
<rect x="244.20" y="307.5" width="15.04" height="7.9" fill="#3399f7" stroke="#222" stroke-width="0.5"/>
<rect x="259.24" y="307.5" width="15.04" height="7.9" fill="#1ec6f6" stroke="#222" stroke-width="0.5"/>
<rect x="274.28" y="307.5" width="15.04" height="7.9" fill="#5cf0fa" stroke="#222" stroke-width="0.5"/>
<rect x="289.31" y="307.5" width="15.04" height="7.9" fill="#aaf6f8" stroke="#222" stroke-width="0.5"/>
<rect x="304.35" y="307.5" width="15.04" height="7.9" fill="#fff000" stroke="#222" stroke-width="0.5"/>
<rect x="319.39" y="307.5" width="15.04" height="7.9" fill="#ffaa00" stroke="#222" stroke-width="0.5"/>
<rect x="334.43" y="307.5" width="15.04" height="7.9" fill="#ff7700" stroke="#222" stroke-width="0.5"/>
<rect x="349.46" y="307.5" width="15.04" height="7.9" fill="#ff1100" stroke="#222" stroke-width="0.5"/>
<line x1="244.2" y1="315.4" x2="244.2" y2="318.4" stroke="#222" stroke-width="0.6"/>
<text x="244.2" y="330.4" font-family="Liberation Sans" font-size="8" fill="#000" stroke="#000" stroke-width="0.2" text-anchor="middle">−1.0</text>
<line x1="274.3" y1="315.4" x2="274.3" y2="318.4" stroke="#222" stroke-width="0.6"/>
<text x="274.3" y="330.4" font-family="Liberation Sans" font-size="8" fill="#000" stroke="#000" stroke-width="0.2" text-anchor="middle">−0.5</text>
<line x1="304.4" y1="315.4" x2="304.4" y2="318.4" stroke="#222" stroke-width="0.6"/>
<text x="304.4" y="330.4" font-family="Liberation Sans" font-size="8" fill="#000" stroke="#000" stroke-width="0.2" text-anchor="middle">0.0</text>
<line x1="334.4" y1="315.4" x2="334.4" y2="318.4" stroke="#222" stroke-width="0.6"/>
<text x="334.4" y="330.4" font-family="Liberation Sans" font-size="8" fill="#000" stroke="#000" stroke-width="0.2" text-anchor="middle">0.5</text>
<line x1="364.5" y1="315.4" x2="364.5" y2="318.4" stroke="#222" stroke-width="0.6"/>
<text x="364.5" y="330.4" font-family="Liberation Sans" font-size="8" fill="#000" stroke="#000" stroke-width="0.2" text-anchor="middle">1.0</text>
<clipPath id="c403_171"><rect x="403.4" y="171.6" width="158.9" height="117.1"/></clipPath>
<g clip-path="url(#c403_171)">
<rect x="403.4" y="171.6" width="158.9" height="117.1" fill="#ffaa00"/>
<g transform="translate(403.40,171.60) scale(3.9725,3.9033)" shape-rendering="crispEdges">
<path fill="#ffaa00" d="M0 0h20v1h-20zM0 1h20v1h-20zM0 2h2v1h-2zM6 2h14v1h-14zM0 3h2v1h-2zM6 3h14v1h-14zM8 4h14v1h-14zM8 5h14v1h-14zM10 6h8v1h-8zM20 6h2v1h-2zM10 7h8v1h-8zM20 7h2v1h-2zM8 8h12v1h-12zM8 9h12v1h-12zM8 10h12v1h-12zM8 11h12v1h-12zM0 12h6v1h-6zM10 12h2v1h-2zM14 12h8v1h-8zM0 13h6v1h-6zM10 13h2v1h-2zM14 13h8v1h-8zM0 14h6v1h-6zM8 14h2v1h-2zM16 14h4v1h-4zM0 15h6v1h-6zM8 15h2v1h-2zM16 15h4v1h-4zM0 16h8v1h-8zM0 17h8v1h-8z"/>
<path fill="#ffee00" d="M20 0h4v1h-4zM32 0h2v1h-2zM36 0h4v1h-4zM20 1h4v1h-4zM32 1h2v1h-2zM36 1h4v1h-4zM20 2h4v1h-4zM28 2h2v1h-2zM34 2h6v1h-6zM20 3h4v1h-4zM28 3h2v1h-2zM34 3h6v1h-6zM22 4h4v1h-4zM34 4h6v1h-6zM22 5h4v1h-4zM34 5h6v1h-6zM18 6h2v1h-2zM22 6h4v1h-4zM30 6h2v1h-2zM34 6h6v1h-6zM18 7h2v1h-2zM22 7h4v1h-4zM30 7h2v1h-2zM34 7h6v1h-6zM20 8h8v1h-8zM30 8h10v1h-10zM20 9h8v1h-8zM30 9h10v1h-10zM20 10h18v1h-18zM20 11h18v1h-18zM12 12h2v1h-2zM22 12h14v1h-14zM12 13h2v1h-2zM22 13h14v1h-14zM10 14h6v1h-6zM20 14h2v1h-2zM10 15h6v1h-6zM20 15h2v1h-2zM8 16h10v1h-10zM8 17h10v1h-10zM0 18h10v1h-10zM0 19h10v1h-10zM0 20h10v1h-10zM0 21h10v1h-10z"/>
<path fill="#a8f6f8" d="M24 0h8v1h-8zM34 0h2v1h-2zM24 1h8v1h-8zM34 1h2v1h-2zM24 2h4v1h-4zM30 2h4v1h-4zM24 3h4v1h-4zM30 3h4v1h-4zM26 4h8v1h-8zM26 5h8v1h-8zM26 6h4v1h-4zM32 6h2v1h-2zM26 7h4v1h-4zM32 7h2v1h-2zM28 8h2v1h-2zM28 9h2v1h-2zM38 10h2v1h-2zM38 11h2v1h-2zM36 12h4v1h-4zM36 13h4v1h-4zM22 14h18v1h-18zM22 15h18v1h-18zM18 16h6v1h-6zM32 16h4v1h-4zM38 16h2v1h-2zM18 17h6v1h-6zM32 17h4v1h-4zM38 17h2v1h-2zM10 18h6v1h-6zM36 18h4v1h-4zM10 19h6v1h-6zM36 19h4v1h-4zM10 20h4v1h-4zM38 20h2v1h-2zM10 21h4v1h-4zM38 21h2v1h-2zM0 22h16v1h-16zM36 22h4v1h-4zM0 23h16v1h-16zM36 23h4v1h-4zM0 24h16v1h-16zM0 25h16v1h-16zM20 26h2v1h-2zM20 27h2v1h-2z"/>
<path fill="#ff7700" d="M2 2h4v1h-4zM2 3h4v1h-4zM0 4h8v1h-8zM0 5h8v1h-8zM0 6h10v1h-10zM0 7h10v1h-10zM0 8h8v1h-8zM0 9h8v1h-8zM0 10h8v1h-8zM0 11h8v1h-8zM6 12h4v1h-4zM6 13h4v1h-4zM6 14h2v1h-2zM6 15h2v1h-2z"/>
<path fill="#5eeefa" d="M24 16h8v1h-8zM36 16h2v1h-2zM24 17h8v1h-8zM36 17h2v1h-2zM16 18h20v1h-20zM16 19h20v1h-20zM14 20h12v1h-12zM32 20h6v1h-6zM14 21h12v1h-12zM32 21h6v1h-6zM16 22h12v1h-12zM30 22h6v1h-6zM16 23h12v1h-12zM30 23h6v1h-6zM16 24h24v1h-24zM16 25h24v1h-24zM0 26h20v1h-20zM22 26h18v1h-18zM0 27h20v1h-20zM22 27h18v1h-18zM0 28h40v1h-40zM0 29h40v1h-40z"/>
<path fill="#1ec8f8" d="M26 20h6v1h-6zM26 21h6v1h-6zM28 22h2v1h-2zM28 23h2v1h-2z"/>
</g>
<polygon points="412.3,169.4 411.9,172.4 411.9,174.2 411.7,176.0 411.2,177.7 410.6,179.4 410.0,181.0 408.9,182.3 408.1,183.8 408.0,185.7 407.2,187.1 406.5,188.6 406.2,190.3 405.1,191.6 404.9,193.3 404.4,194.9 405.0,196.7 406.6,197.7 407.2,199.4 406.9,201.0 407.8,202.5 407.2,204.1 407.9,205.6 408.0,207.2 408.0,208.7 407.5,210.3 407.1,211.8 407.2,213.3 407.7,214.8 407.9,216.5 408.4,218.0 408.9,219.5 409.2,221.1 410.4,222.0 411.8,222.6 412.9,223.9 414.5,224.2 415.5,225.5 416.7,226.7 418.2,227.1 419.5,228.0 420.9,228.8 422.4,229.3 423.2,230.7 424.4,231.8 425.6,232.9 426.2,234.6 427.4,235.7 428.4,237.0 429.2,238.5 429.9,240.0 430.9,241.2 432.2,242.2 433.1,243.5 433.9,244.8 434.8,246.2 435.3,247.7 435.8,249.2 436.3,250.7 436.4,252.3 436.3,254.0 437.0,255.4 437.6,256.9 438.5,258.3 439.9,259.0 441.3,259.6 442.4,260.8 443.9,261.3 444.9,262.5 446.0,263.6 447.2,264.7 448.4,265.7 449.5,266.7 450.9,267.5 452.1,268.4 453.4,269.2 454.5,270.4 455.5,271.7 456.9,272.3 457.9,273.7 459.5,274.2 460.7,275.3 461.6,276.7 462.7,277.9 464.1,278.8 465.2,280.0 466.2,281.1 467.5,281.8 468.8,282.5 470.2,282.9 471.4,283.6 472.8,284.2 473.9,285.2 475.0,286.2 476.2,287.0 477.8,286.8 478.9,285.4 480.5,285.1 482.0,284.8 483.3,283.7 484.9,283.6 486.3,282.8 487.7,282.2 489.1,281.8 490.5,282.0 491.8,281.1 493.3,281.7 494.6,281.6 495.9,280.6 497.4,280.8 498.7,280.3 500.1,280.5 501.7,281.0 503.2,280.5 504.8,280.0 506.4,280.2 507.9,280.9 509.5,280.5 510.8,281.0 511.9,282.0 513.3,282.4 514.4,283.3 515.9,283.5 517.2,284.0 518.7,283.9 520.0,283.2 521.3,282.3 522.6,281.8 523.9,280.9 525.3,280.7 526.5,279.7 527.9,279.0 529.4,278.6 530.7,277.7 531.9,276.7 533.1,275.8 534.4,275.0 535.9,274.5 537.3,274.0 538.7,273.5 539.9,272.6 541.3,272.1 542.5,271.1 543.7,270.3 545.2,270.1 546.7,269.7 548.3,269.5 549.9,269.4 551.4,269.5 553.0,269.3 554.5,268.7 556.1,268.6 557.7,268.9 559.2,268.4 561.8,268.2 563.3,296.7 402.4,296.7 402.4,170.6" fill="#e0ecec"/>
<polyline points="412.3,169.4 411.9,172.4 411.9,174.2 411.7,176.0 411.2,177.7 410.6,179.4 410.0,181.0 408.9,182.3 408.1,183.8 408.0,185.7 407.2,187.1 406.5,188.6 406.2,190.3 405.1,191.6 404.9,193.3 404.4,194.9 405.0,196.7 406.6,197.7 407.2,199.4 406.9,201.0 407.8,202.5 407.2,204.1 407.9,205.6 408.0,207.2 408.0,208.7 407.5,210.3 407.1,211.8 407.2,213.3 407.7,214.8 407.9,216.5 408.4,218.0 408.9,219.5 409.2,221.1 410.4,222.0 411.8,222.6 412.9,223.9 414.5,224.2 415.5,225.5 416.7,226.7 418.2,227.1 419.5,228.0 420.9,228.8 422.4,229.3 423.2,230.7 424.4,231.8 425.6,232.9 426.2,234.6 427.4,235.7 428.4,237.0 429.2,238.5 429.9,240.0 430.9,241.2 432.2,242.2 433.1,243.5 433.9,244.8 434.8,246.2 435.3,247.7 435.8,249.2 436.3,250.7 436.4,252.3 436.3,254.0 437.0,255.4 437.6,256.9 438.5,258.3 439.9,259.0 441.3,259.6 442.4,260.8 443.9,261.3 444.9,262.5 446.0,263.6 447.2,264.7 448.4,265.7 449.5,266.7 450.9,267.5 452.1,268.4 453.4,269.2 454.5,270.4 455.5,271.7 456.9,272.3 457.9,273.7 459.5,274.2 460.7,275.3 461.6,276.7 462.7,277.9 464.1,278.8 465.2,280.0 466.2,281.1 467.5,281.8 468.8,282.5 470.2,282.9 471.4,283.6 472.8,284.2 473.9,285.2 475.0,286.2 476.2,287.0 477.8,286.8 478.9,285.4 480.5,285.1 482.0,284.8 483.3,283.7 484.9,283.6 486.3,282.8 487.7,282.2 489.1,281.8 490.5,282.0 491.8,281.1 493.3,281.7 494.6,281.6 495.9,280.6 497.4,280.8 498.7,280.3 500.1,280.5 501.7,281.0 503.2,280.5 504.8,280.0 506.4,280.2 507.9,280.9 509.5,280.5 510.8,281.0 511.9,282.0 513.3,282.4 514.4,283.3 515.9,283.5 517.2,284.0 518.7,283.9 520.0,283.2 521.3,282.3 522.6,281.8 523.9,280.9 525.3,280.7 526.5,279.7 527.9,279.0 529.4,278.6 530.7,277.7 531.9,276.7 533.1,275.8 534.4,275.0 535.9,274.5 537.3,274.0 538.7,273.5 539.9,272.6 541.3,272.1 542.5,271.1 543.7,270.3 545.2,270.1 546.7,269.7 548.3,269.5 549.9,269.4 551.4,269.5 553.0,269.3 554.5,268.7 556.1,268.6 557.7,268.9 559.2,268.4 561.8,268.2" fill="none" stroke="#000" stroke-width="0.9"/>
<polyline points="411.2,180.2 412.9,180.3 414.6,179.6 416.3,179.9 418.0,179.8 419.7,180.5 421.4,180.4 423.1,180.6 424.8,179.7 426.4,180.2 427.9,181.0 429.5,181.5 430.8,182.7 432.0,183.9 433.4,184.8 434.8,185.8 435.7,187.3 436.4,189.0 437.6,190.2 438.9,191.7 440.5,192.9 441.6,194.5" fill="none" stroke="#000" stroke-width="0.8" stroke-linejoin="round"/>
<polyline points="441.6,194.5 442.7,193.1 443.6,191.6 445.0,190.4 445.8,188.7 448.1,188.9 450.0,190.2 452.1,190.2 454.1,189.5 455.8,189.5 457.4,189.0 459.1,188.6 460.8,189.4 462.4,188.7 464.1,188.5 465.9,188.3 467.6,188.3 469.4,189.3 471.1,189.0 472.8,189.3 474.6,189.2 476.3,189.0 478.1,189.0 479.8,189.5 481.6,188.7 483.3,188.8 485.1,189.0 486.8,188.7 488.5,188.9 490.3,188.4 492.0,188.2 492.1,186.4 491.3,184.6 491.4,182.7 491.4,180.9 491.1,179.1 491.2,177.2 490.9,175.4 491.3,173.5 491.3,170.5" fill="none" stroke="#000" stroke-width="0.8" stroke-linejoin="round"/>
<polyline points="441.6,194.5 442.4,196.3 442.6,198.3 443.4,200.0 444.0,201.8 444.4,203.7 445.2,205.4 445.6,207.3 445.3,209.3 446.1,211.0 446.6,212.8 447.2,214.6 448.8,215.8 449.8,217.9 451.4,219.2 453.0,218.4 454.8,218.3 456.6,218.6 458.2,217.7 460.0,217.4 461.7,217.0 463.5,216.7 465.2,216.1 465.5,218.2 466.3,220.1 467.5,221.7 468.0,223.7 469.3,225.0 470.0,226.7 470.7,228.4 471.5,230.2 472.0,232.2 471.8,234.3 472.7,236.1 472.7,238.5 473.4,240.7 474.3,242.9 474.8,245.3 474.3,247.2 474.2,249.2 473.3,251.0 473.4,253.1 472.6,255.1 471.9,257.2 470.7,259.1 470.3,260.9 469.3,262.3 469.3,264.1 469.6,266.0 469.3,267.8 470.6,269.3 471.8,271.1 473.4,272.3 474.9,273.2 476.4,274.1 477.6,275.4 476.8,277.4 477.1,279.5 476.9,281.6 477.3,283.4 477.4,285.2 476.9,287.0" fill="none" stroke="#000" stroke-width="0.8" stroke-linejoin="round"/>
<polyline points="408.6,214.0 410.3,213.5 412.0,214.0 413.8,214.1 415.5,213.6 417.2,213.1 418.9,213.4 420.7,214.0 422.4,213.3 424.2,213.5 426.0,214.1 427.9,214.0 429.7,213.1 431.5,214.0 433.4,213.8 435.1,214.2 436.8,214.2 438.6,214.1 440.3,214.7 442.1,214.3 443.8,214.9 445.5,215.1 447.2,215.3" fill="none" stroke="#000" stroke-width="0.8" stroke-linejoin="round"/>
<polyline points="408.4,205.5 410.2,206.0 412.0,205.8 413.8,205.3 415.8,204.8 417.8,205.0 419.8,204.8 421.8,204.3 423.8,204.6 425.5,205.5 427.3,205.9 429.2,205.9 429.0,207.3 427.2,207.2 425.5,206.5 423.8,206.4 421.8,206.4 419.8,206.6 417.9,207.3 415.8,206.9 413.8,207.5 412.0,207.7 410.2,207.6 408.4,208.2" fill="none" stroke="#000" stroke-width="0.8" stroke-linejoin="round"/>
<polyline points="409.4,220.1 411.0,220.0 412.6,219.3 414.2,219.6 415.8,219.8 417.7,218.8 419.9,219.5 421.8,218.7 423.7,218.9 425.5,218.7 427.3,217.8 429.2,217.9 429.7,215.9" fill="none" stroke="#000" stroke-width="0.8" stroke-linejoin="round"/>
<polyline points="434.8,246.2 435.4,244.2 437.2,243.0 438.3,241.3 439.0,239.2 440.8,238.0 443.0,237.7 444.8,237.8 446.5,237.5 448.2,238.5 450.0,238.3 450.6,240.1 452.1,241.3 452.6,243.1 453.5,244.6 453.6,246.6 454.1,248.5 453.6,250.5 454.1,252.4 453.1,254.0 452.2,255.7 450.8,256.9 449.5,258.3 448.6,260.0 448.2,262.1 447.2,263.9" fill="none" stroke="#000" stroke-width="0.8" stroke-linejoin="round"/>
<polyline points="454.1,252.4 456.1,251.8 458.2,251.6 459.3,253.3 460.9,254.3 462.4,255.4 462.9,257.2 463.3,259.0 463.8,260.8 465.7,260.9 467.6,261.5 469.3,262.3" fill="none" stroke="#000" stroke-width="0.8" stroke-linejoin="round"/>
<polyline points="472.7,235.4 474.6,234.6 476.6,234.3 478.4,233.3 480.4,233.0 482.2,232.4 484.0,232.0 485.9,232.3 487.7,232.7 489.6,232.4 491.4,233.0 492.2,231.3 492.6,229.4 492.2,227.3 492.8,225.5 493.5,223.7 494.5,222.0 494.8,220.0 495.6,218.2 497.1,216.8 497.6,214.8 498.3,213.0 499.7,211.4 501.3,210.2 502.5,208.4 504.5,207.7 506.0,206.0 508.0,205.3 509.0,203.5 510.6,202.4 511.9,201.0 513.3,199.6 515.1,199.0 516.9,198.6 518.6,197.9 520.5,197.6 522.1,196.4 523.4,195.2 525.0,194.7 526.5,193.8 528.0,193.1 529.9,194.1 532.0,193.9 533.9,194.8" fill="none" stroke="#000" stroke-width="0.8" stroke-linejoin="round"/>
<polyline points="533.9,194.8 535.6,193.6 537.6,193.1 539.4,192.2 541.2,191.5 543.1,191.0 544.9,190.8 546.8,191.4 548.6,190.7 550.3,190.4 552.1,190.8 553.8,190.2 555.5,189.4 557.3,189.8 559.7,190.0 561.8,189.0" fill="none" stroke="#000" stroke-width="0.8" stroke-linejoin="round"/>
<polyline points="533.9,194.8 534.3,197.0 534.9,199.1 535.6,201.1 536.8,203.0 537.6,204.8 539.3,206.0 540.1,207.8 541.2,209.5 542.9,210.4 544.2,211.8 545.9,212.7 547.1,214.3 548.6,215.3 549.7,217.0 551.5,217.7 553.7,218.2 555.8,219.3 557.2,220.4 558.8,220.9 560.4,221.6 561.8,222.5" fill="none" stroke="#000" stroke-width="0.8" stroke-linejoin="round"/>
<polyline points="491.4,233.0 493.8,235.2 494.7,237.4 496.5,238.8 498.5,239.4 500.6,238.9 502.6,238.8 504.9,239.5 507.2,239.7 508.8,239.6 510.4,240.0 511.9,240.6" fill="none" stroke="#000" stroke-width="0.8" stroke-linejoin="round"/>
<polyline points="511.3,229.3 510.9,231.2 511.4,233.0 511.6,234.9 511.4,236.8 512.3,238.6 511.9,240.6 512.1,242.6 512.5,244.6 512.4,246.7 513.4,248.6 512.8,250.8 513.5,252.7 513.4,254.6 512.8,256.3 511.8,257.8 511.1,259.5 511.0,261.4 510.6,263.2 509.7,264.8 509.4,266.8 510.2,268.8 510.0,270.9 510.1,272.9 510.4,274.9 510.5,276.9 511.8,278.4 513.2,279.7 514.3,281.5 516.2,282.2 517.4,283.8" fill="none" stroke="#000" stroke-width="0.8" stroke-linejoin="round"/>
<polyline points="511.3,229.3 513.0,229.4 514.6,228.6 516.4,228.6 518.1,228.8 519.8,228.4 521.6,228.1 523.3,228.2 525.1,228.7 526.9,227.9 528.7,228.3 530.4,229.0 532.2,228.4 533.0,229.3" fill="none" stroke="#000" stroke-width="0.8" stroke-linejoin="round"/>
<polyline points="533.0,229.3 532.8,231.3 534.2,233.0 534.4,234.9 534.4,236.9 535.0,238.6 534.7,240.6 535.5,242.3 535.2,244.3 535.3,246.3 536.0,248.2 536.3,250.2 535.7,252.2 535.9,254.2 536.3,256.1 536.1,258.2 535.6,260.2 536.0,262.2 536.6,264.2 535.7,266.2 536.0,268.2 537.2,269.6 537.8,271.4 538.6,273.1 540.0,274.3" fill="none" stroke="#000" stroke-width="0.8" stroke-linejoin="round"/>
<polyline points="533.0,229.3 534.8,229.0 536.6,229.1 538.4,229.7 540.0,228.4 541.3,227.0 543.1,226.4 544.5,225.1 546.2,224.4 547.7,223.3 549.2,224.0 550.9,223.8 552.4,224.7 554.0,225.0 555.4,223.6 557.1,222.7 558.6,221.5 560.4,221.4 561.8,220.3" fill="none" stroke="#000" stroke-width="0.8" stroke-linejoin="round"/>
<polyline points="538.4,229.7 539.0,231.4 540.6,232.4 541.2,234.1 542.3,235.5 543.0,237.1 543.7,239.0 542.9,241.0 543.1,242.9 543.6,244.8 543.2,246.7 543.5,248.6 543.7,250.5 544.3,252.4 543.8,254.4 544.4,256.3 543.6,258.3 543.7,260.3 544.2,262.2 544.0,264.1 544.3,266.1 544.9,268.0 544.6,270.0" fill="none" stroke="#000" stroke-width="0.8" stroke-linejoin="round"/>
<polyline points="554.0,225.0 554.3,226.9 554.0,228.8 553.3,230.6 553.3,232.5 553.2,234.4 553.1,236.3 553.8,238.2 553.7,240.1 553.7,242.0 552.9,243.8 553.2,245.8 552.7,247.6 553.3,249.5 553.0,251.4 553.5,253.2 552.7,255.1 552.8,257.0 552.6,258.8 552.8,260.7 552.7,262.6 553.7,264.5 552.9,266.3 553.2,268.2" fill="none" stroke="#000" stroke-width="0.8" stroke-linejoin="round"/>
<polyline points="559.2,236.9 559.3,238.8 558.5,240.5 558.4,242.4 558.2,244.2 558.1,246.1 558.3,248.0 558.6,249.8 558.1,251.7 558.9,253.5 558.1,255.4 558.2,257.2 558.9,259.1 558.3,260.9 558.7,262.8 558.9,264.6 558.5,266.5 558.8,268.3" fill="none" stroke="#000" stroke-width="0.8" stroke-linejoin="round"/>
<polyline points="524.1,248.8 526.6,251.2 528.2,253.9 530.7,254.8 532.4,256.7 533.2,259.5 533.6,262.7 533.2,265.9 532.8,269.6 533.2,272.4" fill="none" stroke="#000" stroke-width="2.0" stroke-linejoin="round" stroke-linecap="round"/>
<polyline points="520.0,249.7 522.1,249.3 524.1,248.8 524.1,245.6" fill="none" stroke="#000" stroke-width="1.3" stroke-linejoin="round" stroke-linecap="round"/>
<polyline points="527.8,259.0 531.6,259.5" fill="none" stroke="#000" stroke-width="1.3" stroke-linejoin="round" stroke-linecap="round"/>
<polyline points="527.0,265.9 529.5,267.0 532.4,268.2" fill="none" stroke="#000" stroke-width="1.3" stroke-linejoin="round" stroke-linecap="round"/>
<polyline points="524.1,248.8 526.6,251.2 528.2,253.9 530.7,254.8 532.4,256.7 533.2,259.5 533.6,262.7 533.2,265.9 532.8,269.6 533.2,272.4" fill="none" stroke="#e0ecec" stroke-width="0.9" stroke-linejoin="round" stroke-linecap="round"/>
<polyline points="520.0,249.7 522.1,249.3 524.1,248.8 524.1,245.6" fill="none" stroke="#e0ecec" stroke-width="0.4" stroke-linejoin="round" stroke-linecap="round"/>
<polyline points="527.8,259.0 531.6,259.5" fill="none" stroke="#e0ecec" stroke-width="0.4" stroke-linejoin="round" stroke-linecap="round"/>
<polyline points="527.0,265.9 529.5,267.0 532.4,268.2" fill="none" stroke="#e0ecec" stroke-width="0.4" stroke-linejoin="round" stroke-linecap="round"/>
</g>
<rect x="403.4" y="171.6" width="158.9" height="117.1" fill="none" stroke="#7d8585" stroke-width="1.1"/><line x1="443.5" y1="168.6" x2="443.5" y2="171.6" stroke="#666" stroke-width="0.7"/><line x1="443.5" y1="288.7" x2="443.5" y2="291.7" stroke="#666" stroke-width="0.7"/><line x1="488.4" y1="168.6" x2="488.4" y2="171.6" stroke="#666" stroke-width="0.7"/><line x1="488.4" y1="288.7" x2="488.4" y2="291.7" stroke="#666" stroke-width="0.7"/><line x1="533.2" y1="168.6" x2="533.2" y2="171.6" stroke="#666" stroke-width="0.7"/><line x1="533.2" y1="288.7" x2="533.2" y2="291.7" stroke="#666" stroke-width="0.7"/><line x1="400.4" y1="182.9" x2="403.4" y2="182.9" stroke="#666" stroke-width="0.7"/><line x1="562.3" y1="182.9" x2="565.3" y2="182.9" stroke="#666" stroke-width="0.7"/><line x1="400.4" y1="219.1" x2="403.4" y2="219.1" stroke="#666" stroke-width="0.7"/><line x1="562.3" y1="219.1" x2="565.3" y2="219.1" stroke="#666" stroke-width="0.7"/><line x1="400.4" y1="255.1" x2="403.4" y2="255.1" stroke="#666" stroke-width="0.7"/><line x1="562.3" y1="255.1" x2="565.3" y2="255.1" stroke="#666" stroke-width="0.7"/>
<text x="442.4" y="285.8" font-family="Liberation Serif" font-size="10.9" fill="#000" stroke="#000" stroke-width="0.22" text-anchor="middle" textLength="64.3" lengthAdjust="spacingAndGlyphs">EOF3, 10.6%</text>
<text x="443.0" y="304.2" font-family="Liberation Sans" font-size="7.6" fill="#000" stroke="#000" stroke-width="0.2" text-anchor="middle">−12′</text>
<text x="488.4" y="304.2" font-family="Liberation Sans" font-size="7.6" fill="#000" stroke="#000" stroke-width="0.2" text-anchor="middle">−6′</text>
<text x="533.2" y="304.2" font-family="Liberation Sans" font-size="7.6" fill="#000" stroke="#000" stroke-width="0.2" text-anchor="middle">0′</text>
<rect x="424.20" y="307.5" width="15.04" height="7.9" fill="#3399f7" stroke="#222" stroke-width="0.5"/>
<rect x="439.24" y="307.5" width="15.04" height="7.9" fill="#1ec6f6" stroke="#222" stroke-width="0.5"/>
<rect x="454.27" y="307.5" width="15.04" height="7.9" fill="#5cf0fa" stroke="#222" stroke-width="0.5"/>
<rect x="469.31" y="307.5" width="15.04" height="7.9" fill="#aaf6f8" stroke="#222" stroke-width="0.5"/>
<rect x="484.35" y="307.5" width="15.04" height="7.9" fill="#fff000" stroke="#222" stroke-width="0.5"/>
<rect x="499.39" y="307.5" width="15.04" height="7.9" fill="#ffaa00" stroke="#222" stroke-width="0.5"/>
<rect x="514.42" y="307.5" width="15.04" height="7.9" fill="#ff7700" stroke="#222" stroke-width="0.5"/>
<rect x="529.46" y="307.5" width="15.04" height="7.9" fill="#ff1100" stroke="#222" stroke-width="0.5"/>
<line x1="424.2" y1="315.4" x2="424.2" y2="318.4" stroke="#222" stroke-width="0.6"/>
<text x="424.2" y="330.4" font-family="Liberation Sans" font-size="8" fill="#000" stroke="#000" stroke-width="0.2" text-anchor="middle">−1.0</text>
<line x1="454.3" y1="315.4" x2="454.3" y2="318.4" stroke="#222" stroke-width="0.6"/>
<text x="454.3" y="330.4" font-family="Liberation Sans" font-size="8" fill="#000" stroke="#000" stroke-width="0.2" text-anchor="middle">−0.5</text>
<line x1="484.3" y1="315.4" x2="484.3" y2="318.4" stroke="#222" stroke-width="0.6"/>
<text x="484.3" y="330.4" font-family="Liberation Sans" font-size="8" fill="#000" stroke="#000" stroke-width="0.2" text-anchor="middle">0.0</text>
<line x1="514.4" y1="315.4" x2="514.4" y2="318.4" stroke="#222" stroke-width="0.6"/>
<text x="514.4" y="330.4" font-family="Liberation Sans" font-size="8" fill="#000" stroke="#000" stroke-width="0.2" text-anchor="middle">0.5</text>
<line x1="544.5" y1="315.4" x2="544.5" y2="318.4" stroke="#222" stroke-width="0.6"/>
<text x="544.5" y="330.4" font-family="Liberation Sans" font-size="8" fill="#000" stroke="#000" stroke-width="0.2" text-anchor="middle">1.0</text>
<clipPath id="ts0"><rect x="24.4" y="354.5" width="550.6" height="118.0"/></clipPath>
<g clip-path="url(#ts0)">
<polyline points="24.0,418.0 25.1,424.2 26.1,424.4 27.2,430.8 28.3,427.2 29.3,416.6 30.4,413.2 31.2,411.3 32.0,405.2 33.1,408.1 34.1,416.7 35.2,421.2 36.3,410.0 37.3,404.5 38.4,392.4 39.5,393.6 40.5,401.2 41.6,402.0 42.7,390.6 43.8,381.2 45.1,406.8 46.4,429.2 47.7,419.2 49.0,411.6 50.0,430.4 51.1,443.9 52.2,462.8 53.3,438.0 54.4,411.6 55.5,414.2 56.5,420.4 57.6,422.8 58.7,423.0 59.7,430.3 60.8,430.8 61.9,425.5 62.9,424.5 64.0,418.0 64.8,413.0 65.6,410.0 66.9,428.7 68.2,443.6 69.3,417.0 70.4,392.4 71.5,395.8 72.5,395.4 73.6,400.4 74.7,405.3 75.7,406.7 76.8,411.6 77.8,417.8 78.9,416.4 79.9,423.7 81.0,426.0 82.1,421.1 83.2,421.2 84.3,414.4 85.3,402.1 86.4,395.6 87.2,392.0 88.0,386.0 88.8,391.5 89.6,402.0 90.7,394.4 91.8,382.8 93.1,397.9 94.4,418.0 95.5,418.8 96.5,413.5 97.6,413.2 98.7,424.2 99.7,431.3 100.8,442.0 101.9,434.0 102.9,423.0 104.0,414.8 105.3,411.3 106.6,405.2 107.7,395.3 108.8,389.2 109.9,402.0 111.0,413.2 112.3,412.0 113.6,414.8 114.6,408.6 115.5,398.3 116.5,394.3 117.4,384.4 118.7,401.1 120.0,421.2 121.1,417.2 122.1,408.9 123.2,405.2 124.5,402.5 125.8,395.6 126.9,389.1 128.0,384.4 129.1,391.8 130.2,394.0 131.5,382.8 132.8,373.2 133.9,394.5 134.9,409.3 136.0,430.8 137.1,424.1 138.1,413.7 139.2,408.4 140.3,418.4 141.3,423.6 142.4,434.0 143.7,421.2 145.0,406.8 145.9,410.3 146.9,416.7 147.8,417.5 148.8,424.4 149.9,413.8 150.9,398.8 152.0,389.2 153.1,398.1 154.1,399.5 155.2,408.4 156.0,419.4 156.8,427.6 157.9,424.0 158.9,425.1 160.0,421.2 161.1,430.7 162.1,445.6 163.2,456.4 164.3,439.3 165.3,428.8 166.4,411.6 167.5,408.2 168.5,410.3 169.6,408.4 170.8,399.5 171.9,396.5 173.1,389.2 174.1,395.3 175.0,406.0 176.0,411.6 177.1,404.9 178.1,404.5 179.2,398.8 180.3,397.9 181.3,403.8 182.4,403.6 183.5,411.3 184.5,423.1 185.6,430.8 186.7,421.2 187.7,414.7 188.8,405.2 189.9,405.7 190.9,410.4 192.0,410.0 193.1,406.3 194.1,408.9 195.2,406.8 196.3,402.2 197.3,401.9 198.4,395.6 199.5,399.7 200.5,408.9 201.6,413.2 202.4,404.8 203.2,398.8 204.3,408.7 205.3,412.5 206.4,422.8 207.2,424.4 208.0,422.8 209.3,410.9 210.6,402.0 211.7,403.7 212.8,403.6 213.9,408.4 215.0,418.0 216.0,412.4 217.0,405.2 218.2,422.8 219.5,414.7 220.8,410.0 221.6,405.1 222.4,395.6 223.5,389.0 224.6,384.4 225.6,398.5 226.6,408.4 227.8,420.3 229.1,437.2 230.2,411.9 231.4,382.8 232.5,395.0 233.6,411.6 234.7,427.0 235.8,440.4 237.1,429.2 238.4,421.2 239.5,418.3 240.6,413.2 241.9,408.5 243.2,408.4 244.5,403.3 245.8,395.6 246.9,402.0 248.0,411.6 248.8,433.4 249.6,450.0 250.9,425.3 252.2,405.2 253.3,401.4 254.4,392.4 255.5,393.2 256.6,397.2 257.6,407.7 258.6,414.8 259.7,400.7 260.8,390.8 261.6,398.1 262.4,402.0 263.4,391.9 264.3,384.4 265.4,404.3 266.6,421.2 267.7,415.4 268.8,411.6 269.9,424.3 271.0,434.0 272.0,417.0 273.0,405.2 273.9,420.0 274.9,427.8 275.8,442.0 277.1,430.9 278.4,416.4 279.5,415.5 280.5,418.4 281.6,418.0 282.7,417.5 283.8,419.6 284.8,432.2 285.8,440.4 286.9,424.4 288.0,413.2 289.3,410.6 290.6,405.2 291.4,400.6 292.2,400.4 293.3,411.4 294.4,418.0 295.7,404.8 297.0,395.6 298.1,404.8 299.2,410.0 300.3,414.2 301.4,422.8 302.4,415.4 303.4,405.2 304.5,401.5 305.6,402.0 306.4,396.9 307.2,389.2 308.5,393.1 309.8,400.4 310.9,408.2 312.0,411.6 313.1,412.8 314.2,418.0 315.5,426.5 316.8,432.4 317.9,416.3 319.0,405.2 320.3,416.0 321.6,422.8 322.7,413.8 323.8,408.4 325.1,414.0 326.4,418.0 327.7,404.2 329.0,394.0 330.1,407.2 331.2,418.0 332.3,411.2 333.4,408.4 334.7,416.4 336.0,421.2 337.1,417.9 338.1,421.0 339.2,418.0 340.5,426.2 341.8,438.8 342.9,429.8 344.0,418.0 345.1,409.6 346.2,405.2 347.5,402.5 348.8,395.6 349.9,400.5 351.0,410.0 352.3,409.8 353.6,406.8 354.7,411.7 355.8,421.2 356.8,416.4 357.8,406.8 358.9,415.2 360.0,427.6 361.1,423.8 362.2,414.8 363.5,405.9 364.8,402.0 366.1,408.5 367.4,411.6 368.5,419.5 369.6,430.8 370.7,424.7 371.8,416.4 373.1,397.3 374.4,382.8 375.7,393.3 377.0,398.8 378.1,406.0 379.2,416.4 380.3,411.2 381.4,402.0 382.7,403.9 384.0,410.0 385.1,408.9 386.2,403.6 387.0,416.9 387.8,432.4 389.1,418.6 390.4,400.4 392.0,403.6 392.8,413.8 393.6,427.6 394.6,416.8 395.7,400.5 396.8,389.2 397.9,399.1 399.0,405.2 400.1,400.9 401.1,402.9 402.2,398.8 403.3,408.4 404.3,423.1 405.4,434.0 406.5,429.7 407.5,429.2 408.6,424.4 409.7,412.8 410.8,405.2 411.9,408.5 413.0,407.4 414.0,411.6 415.3,420.7 416.6,426.0 417.6,429.9 418.5,437.2 419.5,439.2 420.4,445.2 421.7,432.5 423.0,418.0 424.3,425.0 425.6,434.0 426.6,424.7 427.7,411.6 428.8,402.0 429.9,411.1 431.0,418.0 432.1,424.4 433.2,432.4 434.5,434.8 435.8,434.0 436.9,425.1 437.9,421.0 439.0,411.6 440.1,406.5 441.1,406.4 442.2,402.0 443.3,396.4 444.3,396.4 445.4,392.4 446.5,395.7 447.5,403.3 448.6,406.8 449.7,409.0 450.7,415.3 451.8,418.0 452.9,412.5 453.9,413.1 455.0,408.4 456.1,398.5 457.1,392.2 458.2,381.2 459.5,387.4 460.8,395.6 461.9,411.0 463.0,422.8 464.1,417.7 465.1,417.2 466.2,411.6 467.3,410.1 468.3,416.0 469.4,414.8 470.5,415.4 471.5,421.3 472.6,421.2 473.7,415.0 474.7,414.1 475.8,408.4 476.9,404.2 477.9,403.9 479.0,398.8 480.1,399.1 481.1,405.6 482.2,405.2 483.3,399.5 484.3,400.7 485.4,395.6 486.5,398.4 487.5,406.5 488.6,408.4 489.7,404.4 490.7,403.0 491.8,398.8 492.9,399.1 493.9,405.0 495.0,405.2 496.1,406.3 497.1,411.4 498.2,411.6 499.3,407.1 500.3,408.8 501.4,405.2 502.5,399.4 503.5,397.9 504.6,392.4 505.7,372.7 506.8,355.6 507.8,366.9 508.8,373.2 509.9,382.9 511.0,395.6 512.1,400.8 513.1,398.5 514.2,403.6 515.0,390.3 515.8,373.2 517.1,381.5 518.4,392.4 519.4,403.5 520.5,407.8 521.6,418.0 522.6,423.8 523.7,425.2 524.8,430.8 525.8,434.4 526.9,431.3 528.0,434.0 528.9,432.1 529.9,426.0 530.8,425.4 531.8,421.2 532.9,427.8 533.9,439.9 535.0,446.8 536.3,454.3 537.6,464.4 538.7,465.8 539.8,462.8 540.9,452.5 542.0,446.8 543.3,444.4 544.6,440.4 545.7,441.9 546.7,448.1 547.8,450.0 548.9,441.1 549.9,439.4 551.0,430.8 552.1,427.4 553.1,427.8 554.2,424.4 555.3,431.3 556.3,443.0 557.4,448.4 558.5,437.0 559.5,430.0 560.6,418.0 561.7,417.4 562.7,422.1 563.8,421.2 564.9,417.2 565.9,419.1 567.0,414.8 568.1,418.1 569.1,425.5 570.2,427.6 571.3,423.1 572.3,423.0 573.4,418.0 574.5,417.7 575.5,421.5 576.6,421.2" fill="none" stroke="#a9a9a9" stroke-width="1.00" stroke-linejoin="round"/>
<polyline points="400.6,420.0 401.7,402.5 402.7,399.4 403.8,380.2 404.8,397.3 405.9,400.0 407.0,420.3 408.0,421.2 409.1,415.4 410.1,403.3 411.2,413.2 412.3,411.1 413.3,426.3 414.4,419.3 415.4,427.1 416.5,425.2 417.6,420.0 418.6,408.5 419.7,406.8 420.7,400.2 421.8,406.1 422.9,403.5 423.9,416.0 425.0,410.6 426.0,425.3 427.1,402.8 428.2,391.8 429.2,378.2 430.3,391.5 431.3,396.9 432.4,403.4 433.5,401.6 434.5,411.8 435.6,409.4 436.6,406.2 437.7,397.4 438.8,400.4 439.8,393.7 440.9,398.7 441.9,389.2 443.0,399.2 444.1,396.7 445.1,405.2 446.2,404.0 447.2,415.2 448.3,415.8 449.4,421.6 450.4,419.0 451.5,425.4 452.5,418.3 453.6,423.5 454.7,412.7 455.7,422.7 456.8,421.6 457.8,438.5 458.9,432.1 460.0,436.4 461.0,428.2 462.1,446.5 463.1,451.6 464.2,445.2 465.3,428.7 466.3,422.6 467.4,415.1 468.4,419.8 469.5,408.5 470.6,418.3 471.6,408.7 472.7,416.3 473.7,405.9 474.8,407.2 475.9,397.2 476.9,394.0 478.0,385.1 479.0,396.0 480.1,392.6 481.2,404.5 482.2,406.4 483.3,418.4 484.3,413.4 485.4,416.3 486.5,408.7 487.5,417.0 488.6,412.6 489.6,422.9 490.7,417.2 491.8,431.6 492.8,426.7 493.9,430.3 494.9,417.6 496.0,416.6 497.1,409.8 498.1,417.2 499.2,412.0 500.2,412.8 501.3,396.1 502.4,391.1 503.4,378.5 504.5,391.3 505.5,389.0 506.6,396.6 507.7,390.7 508.7,398.5 509.8,394.6 510.8,402.4 511.9,396.0 513.0,406.9 514.0,407.6 515.1,416.4 516.1,416.6 517.2,422.2 518.3,414.3 519.3,416.7 520.4,414.8 521.4,420.1 522.5,414.1 523.6,426.1 524.6,423.7 525.7,432.2 526.7,433.9 527.8,445.6 528.9,439.1 529.9,441.1 531.0,427.3 532.0,429.7 533.1,424.0 534.2,432.1 535.2,430.7 536.3,441.1 537.3,448.0 538.4,456.5 539.5,444.3 540.5,441.0 541.6,431.4 542.6,432.3 543.7,418.9 544.8,421.6 545.8,403.9 546.9,402.3 547.9,386.5 549.0,406.8 550.1,412.6 551.1,423.6 552.2,415.6 553.2,418.2 554.3,408.4 555.4,420.7 556.4,419.7 557.5,430.5 558.5,411.0 559.6,410.5 560.7,399.8 561.7,398.9 562.8,392.2 563.8,397.0 564.9,403.5 566.0,424.9 567.0,427.8 568.1,427.8 569.1,413.0 570.2,413.4 571.3,405.8 572.3,419.6 573.4,413.2 574.4,423.9 575.5,415.6 576.6,415.3" fill="none" stroke="#1e9cf0" stroke-width="1.50" stroke-linejoin="round" stroke-dasharray="7 1.5"/>
<polyline points="450.2,420.4 451.3,412.0 452.3,412.9 453.4,403.4 454.4,411.7 455.5,417.9 456.6,425.4 457.6,412.9 458.7,412.9 459.7,401.0 460.8,407.5 461.9,408.2 462.9,416.9 464.0,409.8 465.0,410.6 466.1,405.4 467.2,414.7 468.2,414.6 469.3,423.9 470.3,416.7 471.4,418.8 472.5,405.8 473.5,414.4 474.6,401.6 475.6,402.8 476.7,401.3 477.8,414.1 478.8,411.6 479.9,414.9 480.9,406.8 482.0,410.4 483.1,410.3 484.1,416.4 485.2,416.2 486.2,415.8 487.3,406.1 488.4,406.4 489.4,404.8 490.5,414.0 491.5,411.3 492.6,414.9 493.7,413.5 494.7,420.7 495.8,414.2 496.8,413.4 497.9,407.3 499.0,407.9 500.0,403.6 501.1,403.8 502.1,394.3 503.2,392.2 504.3,385.2 505.3,377.5 506.4,367.0 507.4,374.7 508.5,377.5 509.6,389.3 510.6,386.2 511.7,397.0 512.7,390.3 513.8,391.9 514.9,385.4 515.9,390.1 517.0,389.6 518.0,398.4 519.1,405.1 520.2,406.1 521.2,404.4 522.3,410.8 523.3,414.3 524.4,420.3 525.5,423.5 526.5,430.9 527.6,432.6 528.6,441.4 529.7,429.1 530.8,426.8 531.8,413.9 532.9,412.9 533.9,415.0 535.0,425.2 536.1,427.0 537.1,435.6 538.2,438.5 539.2,448.1 540.3,441.9 541.4,441.4 542.4,426.2 543.5,426.2 544.5,418.3 545.6,422.1 546.7,416.7 547.7,419.7 548.8,419.1 549.8,426.1 550.9,417.1 552.0,421.2 553.0,412.6 554.1,412.0 555.1,404.7 556.2,404.6 557.3,398.9 558.3,406.1 559.4,408.5 560.4,420.8 561.5,414.1 562.6,411.1 563.6,404.8 564.7,407.1 565.7,403.0 566.8,413.7 567.9,410.7 568.9,418.2 570.0,408.8 571.0,411.9 572.1,403.8 573.2,413.4 574.2,407.1 575.3,411.5 576.3,405.9" fill="none" stroke="#ef4b55" stroke-width="1.10" stroke-linejoin="round" stroke-dasharray="3 1.8"/>
<polyline points="448.6,395.2 449.7,388.9 450.7,414.2 451.8,411.6 452.8,403.2 453.9,377.3 455.0,367.2 456.0,370.1 457.1,385.7 458.1,385.1 459.2,396.5 460.3,404.8 461.3,417.4 462.4,413.3 463.4,408.0 464.5,400.8 465.6,406.3 466.6,392.9 467.7,393.6 468.7,391.7 469.8,411.1 470.9,415.7 471.9,416.7 473.0,409.3 474.0,410.5 475.1,399.1 476.2,402.9 477.2,395.7 478.3,410.9 479.3,408.1 480.4,421.6 481.5,407.7 482.5,408.4 483.6,391.8 484.6,393.8 485.7,387.5 486.8,392.2 487.8,391.6 488.9,406.1 489.9,411.5 491.0,414.6 492.1,401.6 493.1,406.1 494.2,399.4 495.2,414.0 496.3,414.5 497.4,418.6 498.4,409.0 499.5,413.7 500.5,400.9 501.6,400.9 502.7,389.0 503.7,394.1 504.8,384.6 505.8,393.0 506.9,388.1 508.0,395.8 509.0,396.4 510.1,405.0 511.1,392.8 512.2,392.2 513.3,390.0 514.3,395.7 515.4,399.5 516.4,406.3 517.5,403.1 518.6,411.1 519.6,406.4 520.7,419.3 521.7,419.6 522.8,426.3 523.9,424.0 524.9,437.2 526.0,429.0 527.0,431.2 528.1,418.6 529.2,423.3 530.2,427.9 531.3,439.6 532.3,434.1 533.4,432.5 534.5,417.1 535.5,426.6 536.6,430.2 537.6,449.1 538.7,446.0 539.8,445.9 540.8,428.3 541.9,428.5 542.9,417.3 544.0,419.9 545.1,409.2 546.1,420.6 547.2,417.3 548.2,425.3 549.3,415.1 550.4,414.6 551.4,408.7 552.5,424.2 553.5,427.7 554.6,437.7 555.7,427.0 556.7,425.5 557.8,412.9 558.8,415.5 559.9,408.3 561.0,413.8 562.0,410.1 563.1,418.0 564.1,418.0 565.2,420.3 566.3,413.5 567.3,417.1 568.4,407.9 569.4,408.9 570.5,405.8 571.6,409.6 572.6,408.3 573.7,414.0 574.7,410.3 575.8,412.1" fill="none" stroke="#e6d236" stroke-width="1.50" stroke-linejoin="round" stroke-dasharray="8 1.5"/>
</g>
<path d="M575.5,354.5 L24.4,354.5 L24.4,472.5 L575.5,472.5" fill="none" stroke="#444" stroke-width="1.3"/>
<line x1="574.6" y1="354.5" x2="574.6" y2="472.5" stroke="#333" stroke-width="1.3"/>
<line x1="20.2" y1="381.3" x2="24.4" y2="381.3" stroke="#999" stroke-width="1"/>
<text x="17.4" y="386.2" font-family="Liberation Sans" font-size="13.5" font-weight="bold" fill="#a4a4a4" text-anchor="end">2</text>
<line x1="20.2" y1="413.5" x2="24.4" y2="413.5" stroke="#999" stroke-width="1"/>
<text x="17.4" y="418.4" font-family="Liberation Sans" font-size="13.5" font-weight="bold" fill="#a4a4a4" text-anchor="end">0</text>
<line x1="20.2" y1="445.7" x2="24.4" y2="445.7" stroke="#999" stroke-width="1"/>
<text x="17.4" y="450.6" font-family="Liberation Sans" font-size="13.5" font-weight="bold" fill="#a4a4a4" text-anchor="end">−2</text>
<line x1="77.5" y1="471.5" x2="77.5" y2="473.5" stroke="#fff" stroke-width="1.4"/>
<line x1="130.5" y1="471.5" x2="130.5" y2="473.5" stroke="#fff" stroke-width="1.4"/>
<line x1="183.6" y1="471.5" x2="183.6" y2="473.5" stroke="#fff" stroke-width="1.4"/>
<line x1="236.6" y1="471.5" x2="236.6" y2="473.5" stroke="#fff" stroke-width="1.4"/>
<line x1="289.7" y1="471.5" x2="289.7" y2="473.5" stroke="#fff" stroke-width="1.4"/>
<line x1="342.8" y1="471.5" x2="342.8" y2="473.5" stroke="#fff" stroke-width="1.4"/>
<line x1="395.8" y1="471.5" x2="395.8" y2="473.5" stroke="#fff" stroke-width="1.4"/>
<line x1="448.9" y1="471.5" x2="448.9" y2="473.5" stroke="#fff" stroke-width="1.4"/>
<line x1="501.9" y1="471.5" x2="501.9" y2="473.5" stroke="#fff" stroke-width="1.4"/>
<line x1="555.0" y1="471.5" x2="555.0" y2="473.5" stroke="#fff" stroke-width="1.4"/>
<rect x="28.8" y="357.2" width="64.9" height="31.3" fill="#fff" stroke="#333" stroke-width="1"/>
<text x="31.8" y="380.4" font-family="Liberation Serif" font-size="21" fill="#000" stroke="#000" stroke-width="0.25" textLength="56.5" lengthAdjust="spacingAndGlyphs">c. PC1</text>
<clipPath id="ts1"><rect x="24.4" y="488.5" width="550.6" height="118.0"/></clipPath>
<g clip-path="url(#ts1)">
<polyline points="24.0,572.8 24.8,574.9 25.6,574.4 26.4,566.2 27.2,561.6 28.0,554.6 28.8,542.4 29.6,539.2 30.4,539.2 31.2,548.4 32.0,555.2 32.8,551.9 33.6,552.0 34.4,546.5 35.2,536.0 36.0,544.1 36.8,555.2 37.6,547.5 38.4,536.0 39.2,525.5 40.0,520.0 40.8,532.6 41.6,542.4 42.4,533.7 43.2,529.6 44.0,545.7 44.8,558.4 45.6,551.0 46.4,545.6 47.2,541.7 48.0,536.0 48.8,525.5 49.6,520.0 50.4,537.6 51.2,552.0 52.0,542.4 52.8,536.0 53.6,549.7 54.4,558.4 55.2,548.6 56.0,542.4 56.8,540.9 57.6,536.0 58.4,544.3 59.2,555.2 60.0,544.5 60.8,529.6 61.6,522.0 62.4,516.8 63.2,531.2 64.0,542.4 64.8,530.6 65.6,523.2 66.4,537.9 67.2,548.8 68.0,536.6 68.8,526.4 70.1,538.7 71.4,548.8 72.5,540.4 73.6,536.0 74.7,542.9 75.8,545.6 76.8,560.6 77.8,577.6 78.9,578.6 80.0,574.4 80.8,559.0 81.6,545.6 82.9,554.7 84.2,561.6 85.3,555.9 86.4,552.0 87.2,563.2 88.0,571.2 89.0,558.1 89.9,548.8 90.9,547.9 91.8,542.4 93.1,549.3 94.4,558.4 95.4,550.9 96.3,539.2 97.3,540.4 98.2,545.3 99.2,545.6 100.0,538.0 100.8,532.8 102.1,537.4 103.4,539.2 104.5,531.9 105.6,526.4 106.7,538.1 107.8,545.6 108.8,539.8 109.8,536.0 110.9,546.2 112.0,552.0 113.1,544.2 114.2,539.2 115.5,547.5 116.8,552.0 117.8,535.7 118.7,523.2 119.7,544.1 120.6,561.6 121.9,546.4 123.2,536.0 124.5,546.5 125.8,552.0 126.9,547.5 128.0,545.6 128.8,542.2 129.6,536.0 130.4,528.8 131.2,526.4 132.0,510.6 132.8,492.8 133.6,504.9 134.4,520.0 135.2,531.1 136.0,539.2 137.3,539.8 138.6,545.6 139.7,549.8 140.8,552.0 141.9,554.8 143.0,561.6 144.0,571.8 145.0,577.6 146.1,576.3 147.2,579.2 148.0,569.6 148.8,558.4 149.6,552.7 150.4,552.0 151.2,561.3 152.0,568.0 153.3,554.5 154.6,545.6 155.7,544.4 156.8,539.2 157.6,544.1 158.4,552.0 159.7,535.1 161.0,513.6 162.1,534.0 163.2,558.4 164.3,543.8 165.4,526.4 166.7,545.1 168.0,568.0 169.3,577.7 170.6,584.0 171.7,562.7 172.8,545.6 173.6,549.1 174.4,548.8 175.2,548.2 176.0,552.0 176.8,545.1 177.6,536.0 178.9,527.9 180.2,523.2 181.3,530.4 182.4,536.0 183.2,529.0 184.0,526.4 184.8,536.6 185.6,542.4 186.4,535.3 187.2,532.8 188.5,543.3 189.8,552.0 190.9,551.8 192.0,555.2 192.8,553.7 193.6,548.8 194.9,560.6 196.2,574.4 197.3,564.3 198.4,552.0 199.2,559.0 200.0,571.2 201.1,569.3 202.1,561.5 203.2,558.4 204.5,551.1 205.8,539.2 206.9,542.0 208.0,548.8 208.8,558.3 209.6,564.8 210.6,523.2 211.4,516.4 212.2,513.6 213.0,522.8 213.8,529.6 215.0,550.4 216.0,545.1 217.0,542.4 217.8,552.8 218.6,561.6 219.4,567.6 220.2,577.6 221.4,526.4 222.4,544.2 223.4,558.4 224.6,539.2 225.6,538.7 226.6,542.4 227.8,539.2 228.8,534.5 229.8,526.4 231.0,545.6 232.0,529.6 233.0,516.8 234.2,512.0 235.0,502.1 235.8,489.6 236.6,512.3 237.4,539.2 238.4,539.1 239.4,536.0 240.5,538.1 241.6,544.0 242.7,561.4 243.8,574.4 244.8,560.0 245.8,548.8 246.9,555.6 248.0,558.4 249.1,554.3 250.2,552.0 251.5,551.7 252.8,548.8 254.1,540.9 255.4,537.6 256.6,552.0 257.4,568.2 258.2,582.4 259.2,564.7 260.2,548.8 261.0,557.6 261.8,564.8 262.9,564.2 264.0,568.0 264.8,572.2 265.6,574.4 266.6,580.8 267.5,590.4 268.5,565.6 269.4,537.6 270.4,534.6 271.4,536.0 272.3,550.4 273.3,561.6 274.2,551.9 275.2,545.6 276.0,549.6 276.8,552.0 277.6,569.0 278.4,590.4 279.4,557.4 280.3,520.0 281.3,524.5 282.2,532.8 283.2,531.9 284.2,526.4 285.3,530.9 286.4,539.2 287.2,552.5 288.0,561.6 289.0,535.3 289.9,513.6 290.9,526.7 291.8,536.0 292.8,530.4 293.8,526.4 294.9,538.4 296.0,545.6 296.8,549.4 297.6,558.4 298.4,552.3 299.2,544.0 300.3,553.5 301.4,564.8 302.4,569.4 303.4,571.2 304.6,580.8 305.6,565.4 306.6,552.0 307.4,559.9 308.2,564.8 309.0,555.9 309.8,548.8 310.9,548.4 312.0,545.6 313.1,546.4 314.2,548.8 315.5,549.6 316.8,547.2 317.6,539.5 318.4,534.4 319.2,529.3 320.0,520.0 320.8,558.5 321.6,600.0 322.7,591.5 323.8,580.8 324.8,573.5 325.8,571.2 326.9,572.0 328.0,568.0 328.8,561.2 329.6,558.4 330.9,548.4 332.2,536.0 333.3,537.7 334.4,542.4 335.2,550.4 336.0,555.2 336.8,547.3 337.6,542.4 338.4,541.6 339.2,539.2 340.5,540.8 341.8,545.6 342.9,539.0 344.0,528.0 345.1,538.0 346.2,552.0 347.5,556.7 348.8,556.8 349.9,556.4 351.0,560.0 352.3,551.0 353.6,537.6 354.7,544.0 355.8,555.2 356.8,540.0 357.8,520.0 358.9,511.4 360.0,507.2 361.1,510.3 362.2,510.4 363.2,503.6 364.2,500.8 365.3,518.8 366.4,532.8 367.2,536.8 368.0,545.6 368.8,546.1 369.6,542.4 370.7,548.0 371.8,556.8 372.8,552.3 373.8,545.6 375.0,521.6 376.3,521.0 377.6,523.2 378.4,532.4 379.2,539.2 380.0,534.0 380.8,532.8 381.6,539.8 382.4,542.4 383.2,538.1 384.0,536.0 384.8,533.0 385.6,526.4 386.4,527.3 387.2,532.8 388.0,540.6 388.8,545.6 389.6,559.0 390.4,574.4 392.0,571.2 392.8,561.9 393.6,548.8 394.7,544.2 395.8,542.4 396.6,537.0 397.4,529.6 398.2,533.1 399.0,539.2 399.8,528.0 400.6,515.2 401.4,526.1 402.2,539.2 403.3,545.6 404.4,548.8 405.7,549.4 407.0,552.0 408.3,551.2 409.6,548.8 410.7,552.6 411.8,560.0 412.9,555.3 414.0,545.6 415.0,551.3 416.0,561.6 417.1,558.2 418.2,552.0 419.3,555.9 420.4,564.8 421.7,572.1 423.0,577.6 424.0,579.7 424.9,584.0 425.9,568.8 426.8,552.0 428.1,547.9 429.4,545.6 430.2,539.5 431.0,529.6 431.8,522.6 432.6,520.0 433.4,528.0 434.2,532.8 435.0,540.2 435.8,552.0 437.1,544.0 438.4,532.8 439.5,539.9 440.6,552.0 441.7,549.1 442.8,542.4 444.1,545.4 445.4,552.0 446.7,546.7 448.0,539.2 449.1,550.4 450.2,564.8 451.3,560.0 452.4,552.0 453.7,552.9 455.0,558.4 456.1,553.2 457.1,544.3 458.2,539.2 459.3,544.7 460.3,544.7 461.4,548.8 462.5,545.2 463.5,537.0 464.6,532.8 465.7,541.2 466.7,543.7 467.8,552.0 468.9,550.8 469.9,545.6 471.0,545.6 472.1,543.9 473.1,537.8 474.2,536.0 475.3,541.5 476.3,540.2 477.4,545.6 478.5,545.9 479.5,541.5 480.6,542.4 481.7,546.6 482.7,547.1 483.8,552.0 484.9,550.8 485.9,545.8 487.0,545.6 488.1,551.2 489.1,550.1 490.2,555.2 491.3,553.9 492.3,549.2 493.4,548.8 494.5,551.5 495.5,549.3 496.6,552.0 497.7,554.1 498.7,552.8 499.8,555.2 500.9,552.5 501.9,545.8 503.0,542.4 504.1,546.5 505.1,545.4 506.2,548.8 507.3,543.7 508.3,535.1 509.4,529.6 510.5,536.3 511.5,537.8 512.6,545.6 513.7,543.7 514.7,538.2 515.8,536.0 516.9,540.6 517.9,539.9 519.0,545.6 520.1,551.9 521.1,554.9 522.2,561.6 523.3,558.5 524.3,551.0 525.4,548.8 526.5,545.1 527.5,537.2 528.6,532.8 529.7,537.3 530.7,535.7 531.8,539.2 532.9,544.4 533.9,544.0 535.0,548.8 536.1,555.4 537.1,556.4 538.2,561.6 539.3,557.5 540.3,549.6 541.4,545.6 542.5,544.7 543.5,539.1 544.6,539.2 545.7,538.8 546.7,533.5 547.8,532.8 548.9,539.8 549.9,541.1 551.0,548.8 552.1,549.6 553.1,545.1 554.2,545.6 555.3,546.5 556.3,541.6 557.4,542.4 558.5,546.1 559.5,545.1 560.6,548.8 561.7,546.6 562.7,540.8 563.8,539.2 564.9,545.8 565.9,546.4 567.0,552.0 568.1,549.2 569.1,541.6 570.2,539.2 571.3,537.9 572.3,531.7 573.4,529.6 574.5,533.3 575.5,531.8 576.6,536.0" fill="none" stroke="#a9a9a9" stroke-width="1.00" stroke-linejoin="round"/>
<polyline points="450.2,532.5 451.3,533.7 452.3,543.1 453.4,545.0 454.4,578.6 455.5,573.5 456.6,541.5 457.6,521.6 458.7,529.0 459.7,547.5 460.8,545.0 461.9,543.6 462.9,552.3 464.0,558.9 465.0,562.3 466.1,553.2 467.2,548.0 468.2,535.6 469.3,535.7 470.3,525.7 471.4,527.7 472.5,533.7 473.5,541.8 474.6,545.7 475.6,550.5 476.7,547.7 477.8,546.9 478.8,533.8 479.9,525.2 480.9,524.5 482.0,551.1 483.1,568.1 484.1,560.5 485.2,539.7 486.2,545.4 487.3,547.5 488.4,553.7 489.4,548.7 490.5,540.9 491.5,528.7 492.6,544.2 493.7,548.0 494.7,566.7 495.8,561.8 496.8,554.2 497.9,542.2 499.0,548.7 500.0,544.9 501.1,558.0 502.1,545.1 503.2,539.2 504.3,525.6 505.3,543.0 506.4,565.4 507.4,574.9 508.5,557.9 509.6,553.0 510.6,547.1 511.7,547.0 512.7,541.1 513.8,549.6 514.9,548.2 515.9,554.2 517.0,545.9 518.0,543.4 519.1,536.4 520.2,547.2 521.2,550.2 522.3,553.6 523.3,550.0 524.4,557.5 525.5,555.3 526.5,551.1 527.6,544.6 528.6,540.4 529.7,529.8 530.8,524.0 531.8,513.5 532.9,527.6 533.9,536.9 535.0,547.7 536.1,549.6 537.1,556.0 538.2,548.3 539.2,547.0 540.3,547.1 541.4,555.7 542.4,557.2 543.5,550.7 544.5,527.4 545.6,505.5 546.7,500.7 547.7,529.4 548.8,536.3 549.8,543.9 550.9,547.3 552.0,538.9 553.0,513.3 554.1,522.6 555.1,549.4 556.2,566.1 557.3,557.1 558.3,554.8 559.4,543.3 560.4,552.6 561.5,553.0 562.6,554.5 563.6,545.1 564.7,544.4 565.7,543.0 566.8,573.9 567.9,568.4 568.9,563.0 570.0,549.0 571.0,549.3 572.1,538.4 573.2,541.0 574.2,536.0 575.3,542.9 576.3,535.6" fill="none" stroke="#ef4b55" stroke-width="0.95" stroke-linejoin="round" stroke-dasharray="3 1.8"/>
</g>
<path d="M575.5,488.5 L24.4,488.5 L24.4,606.5 L575.5,606.5" fill="none" stroke="#444" stroke-width="1.3"/>
<line x1="574.6" y1="488.5" x2="574.6" y2="606.5" stroke="#333" stroke-width="1.3"/>
<line x1="20.2" y1="515.3" x2="24.4" y2="515.3" stroke="#999" stroke-width="1"/>
<text x="17.4" y="520.2" font-family="Liberation Sans" font-size="13.5" font-weight="bold" fill="#a4a4a4" text-anchor="end">2</text>
<line x1="20.2" y1="547.5" x2="24.4" y2="547.5" stroke="#999" stroke-width="1"/>
<text x="17.4" y="552.4" font-family="Liberation Sans" font-size="13.5" font-weight="bold" fill="#a4a4a4" text-anchor="end">0</text>
<line x1="20.2" y1="579.7" x2="24.4" y2="579.7" stroke="#999" stroke-width="1"/>
<text x="17.4" y="584.6" font-family="Liberation Sans" font-size="13.5" font-weight="bold" fill="#a4a4a4" text-anchor="end">−2</text>
<line x1="77.5" y1="605.5" x2="77.5" y2="607.5" stroke="#fff" stroke-width="1.4"/>
<line x1="130.5" y1="605.5" x2="130.5" y2="607.5" stroke="#fff" stroke-width="1.4"/>
<line x1="183.6" y1="605.5" x2="183.6" y2="607.5" stroke="#fff" stroke-width="1.4"/>
<line x1="236.6" y1="605.5" x2="236.6" y2="607.5" stroke="#fff" stroke-width="1.4"/>
<line x1="289.7" y1="605.5" x2="289.7" y2="607.5" stroke="#fff" stroke-width="1.4"/>
<line x1="342.8" y1="605.5" x2="342.8" y2="607.5" stroke="#fff" stroke-width="1.4"/>
<line x1="395.8" y1="605.5" x2="395.8" y2="607.5" stroke="#fff" stroke-width="1.4"/>
<line x1="448.9" y1="605.5" x2="448.9" y2="607.5" stroke="#fff" stroke-width="1.4"/>
<line x1="501.9" y1="605.5" x2="501.9" y2="607.5" stroke="#fff" stroke-width="1.4"/>
<line x1="555.0" y1="605.5" x2="555.0" y2="607.5" stroke="#fff" stroke-width="1.4"/>
<rect x="28.8" y="491.2" width="64.9" height="31.3" fill="#fff" stroke="#333" stroke-width="1"/>
<text x="31.8" y="514.4" font-family="Liberation Serif" font-size="21" fill="#000" stroke="#000" stroke-width="0.25" textLength="56.5" lengthAdjust="spacingAndGlyphs">d. PC2</text>
<clipPath id="ts2"><rect x="24.4" y="622.5" width="550.6" height="118.0"/></clipPath>
<g clip-path="url(#ts2)">
<polyline points="24.0,663.6 24.8,669.5 25.6,673.2 26.4,668.1 27.2,666.8 28.0,685.8 28.8,698.8 29.6,686.1 30.4,679.6 31.2,674.3 32.0,663.6 32.8,673.1 33.6,686.0 34.4,698.3 35.2,705.2 36.0,687.0 36.8,673.2 37.6,682.1 38.4,686.0 39.2,672.4 40.0,663.6 40.8,682.5 41.6,695.6 42.4,696.2 43.2,702.0 44.0,693.9 44.8,679.6 45.6,695.1 46.4,714.8 47.2,705.7 48.0,692.4 48.8,670.8 49.6,654.0 50.4,681.8 51.2,705.2 52.0,691.3 52.8,679.6 53.6,677.9 54.4,670.0 55.2,677.9 56.0,689.2 56.8,683.3 57.6,673.2 58.4,667.3 59.2,663.6 60.0,673.0 60.8,679.6 61.6,670.2 62.4,666.8 63.7,671.6 65.0,673.2 66.1,666.8 67.2,663.6 68.0,674.4 68.8,679.6 69.6,684.5 70.4,692.4 71.2,678.9 72.0,660.4 72.8,664.6 73.6,673.2 74.4,673.0 75.2,666.8 76.0,674.4 76.8,686.0 77.6,681.3 78.4,673.2 79.2,681.3 80.0,692.4 80.8,681.4 81.6,666.8 82.4,672.2 83.2,679.6 84.0,677.6 84.8,673.2 85.6,670.3 86.4,670.0 87.2,668.5 88.0,663.6 88.8,657.7 89.6,657.2 90.4,673.1 91.2,682.8 92.0,674.6 92.8,670.0 93.6,673.1 94.4,673.2 95.2,674.8 96.0,679.6 96.8,665.2 97.6,646.0 98.4,659.2 99.2,676.4 100.0,682.4 100.8,686.0 101.6,690.3 102.4,698.8 103.2,687.6 104.0,673.2 104.8,689.5 105.6,708.4 106.4,691.9 107.2,670.0 108.0,676.8 108.8,686.0 109.6,694.3 110.4,698.8 111.2,686.5 112.0,679.6 112.8,688.2 113.6,692.4 114.4,676.7 115.2,666.8 116.0,676.5 116.8,682.8 117.6,700.5 118.4,724.4 119.2,696.7 120.0,666.8 120.8,683.0 121.6,705.2 122.4,697.5 123.2,686.0 124.0,667.4 124.8,650.8 125.6,666.7 126.4,679.6 127.2,679.6 128.0,686.0 128.8,695.0 129.6,698.8 130.4,683.4 131.2,673.2 132.0,687.2 132.8,695.6 133.6,691.4 134.4,689.2 135.2,684.4 136.0,676.4 136.8,671.2 137.6,670.0 138.4,682.6 139.2,689.2 140.0,667.0 140.8,650.8 141.6,666.5 142.4,679.6 143.2,679.6 144.0,686.0 144.8,694.6 145.6,698.8 146.4,690.8 147.2,686.0 148.0,699.9 148.8,711.6 149.6,690.5 150.4,673.2 151.2,684.9 152.0,692.4 152.8,687.2 153.6,686.0 154.4,695.7 155.2,702.0 156.0,687.7 156.8,679.6 157.6,702.4 158.4,721.2 159.2,702.0 160.0,686.0 160.8,682.3 161.6,673.2 162.4,673.3 163.2,676.4 164.0,687.9 164.8,695.6 165.6,681.6 166.4,670.0 167.2,676.3 168.0,679.6 168.8,684.4 169.6,695.6 170.4,694.8 171.2,689.2 172.0,679.1 172.8,673.2 173.6,667.7 174.4,657.2 175.2,669.1 176.0,686.0 176.8,684.9 177.6,679.6 178.4,682.6 179.2,689.2 180.0,680.9 180.8,670.0 181.6,689.8 182.4,711.6 183.2,684.0 184.0,654.0 184.8,663.3 185.6,676.4 186.4,695.0 187.2,711.6 188.0,689.9 188.8,673.2 189.6,678.1 190.4,679.6 191.2,671.7 192.0,666.8 192.8,674.9 193.6,679.6 194.4,669.5 195.2,663.6 196.0,671.4 196.8,676.4 197.6,678.3 198.4,686.0 199.2,678.4 200.0,666.8 200.8,668.9 201.6,673.2 202.4,680.8 203.2,686.0 204.0,670.2 204.8,660.4 205.6,669.1 206.4,673.2 207.2,655.6 208.0,641.2 208.8,663.0 209.6,679.6 210.4,684.9 211.2,692.4 212.0,687.4 212.8,676.4 213.6,676.5 214.4,682.8 215.7,649.2 217.0,686.0 218.2,698.8 219.0,688.4 219.8,673.2 220.6,673.7 221.4,676.4 222.4,683.1 223.4,686.0 224.6,673.2 225.9,689.2 226.9,681.6 227.8,679.6 229.1,657.2 230.1,677.1 231.0,692.4 232.0,679.8 233.0,670.0 234.1,663.5 235.2,654.0 236.0,659.3 236.8,666.8 237.6,675.3 238.4,679.6 239.2,684.6 240.0,692.4 240.8,686.4 241.6,676.4 242.4,667.0 243.2,663.6 244.0,677.8 244.8,686.0 245.6,696.7 246.4,711.6 247.2,696.7 248.0,676.4 248.8,671.9 249.6,670.0 250.4,681.1 251.2,686.0 252.0,671.9 252.8,663.6 253.6,676.8 254.4,686.0 255.2,673.5 256.0,666.8 256.8,681.2 257.6,692.4 258.4,679.6 259.2,673.2 260.0,670.1 260.8,663.6 261.6,651.0 262.4,644.4 263.2,658.4 264.0,666.8 264.8,658.9 265.6,657.2 266.4,669.4 267.2,676.4 268.0,668.9 268.8,663.6 269.6,682.8 270.4,698.8 271.2,683.6 272.0,673.2 272.8,690.6 273.6,702.0 274.4,688.3 275.2,679.6 276.0,690.2 276.8,698.8 277.6,687.5 278.4,679.6 279.2,684.5 280.0,686.0 280.8,694.3 281.6,705.2 282.4,708.3 283.2,708.4 284.0,688.7 284.8,673.2 285.6,668.6 286.4,660.4 287.2,668.4 288.0,679.6 288.8,696.7 289.6,710.0 290.4,676.5 291.2,649.2 292.0,669.9 292.8,686.0 293.6,675.4 294.4,670.0 295.2,685.8 296.0,695.6 296.8,683.4 297.6,673.2 298.4,679.3 299.2,679.6 300.0,668.8 300.8,660.4 301.6,674.6 302.4,686.0 303.2,669.0 304.0,657.2 304.8,679.0 305.6,695.6 306.4,682.1 307.2,673.2 308.0,678.4 308.8,679.6 309.6,686.6 310.4,698.8 311.2,689.5 312.0,676.4 312.8,679.8 313.6,686.0 314.4,681.1 315.2,673.2 316.0,670.4 316.8,670.0 317.6,675.8 318.4,679.6 319.2,678.1 320.0,682.8 320.8,681.1 321.6,673.2 322.4,687.5 323.2,705.2 324.0,687.9 324.8,666.8 325.6,660.4 326.4,657.2 327.2,663.1 328.0,663.6 328.8,666.3 329.6,673.2 330.4,666.5 331.2,657.2 332.0,678.3 332.8,705.2 333.6,698.6 334.4,686.0 335.2,683.3 336.0,682.8 336.8,683.2 337.6,679.6 338.4,671.7 339.2,666.8 340.0,677.2 340.8,682.8 341.6,677.8 342.4,676.4 343.2,679.6 344.0,679.6 344.8,681.2 345.6,686.0 346.4,696.3 347.2,702.0 348.0,687.1 348.8,676.4 349.6,672.1 350.4,663.6 351.2,678.7 352.0,698.8 352.8,713.6 353.6,724.4 354.4,710.1 355.2,702.0 356.0,700.7 356.8,695.6 357.6,678.5 358.4,666.8 359.2,697.0 360.0,721.2 360.8,709.2 361.6,702.0 362.4,712.3 363.2,718.0 364.0,700.9 364.8,689.2 365.6,690.2 366.4,686.0 367.2,683.0 368.0,682.8 368.8,683.1 369.6,679.6 370.4,671.9 371.2,666.8 372.0,675.8 372.8,682.8 373.6,688.3 374.4,698.8 375.2,687.7 376.0,673.2 376.8,681.3 377.6,692.4 378.4,683.8 379.2,673.2 380.0,686.6 380.8,702.0 381.6,696.5 382.4,686.0 383.2,695.4 384.0,708.4 384.8,692.7 385.6,673.2 386.4,673.9 387.2,679.6 388.0,677.8 388.8,670.0 389.6,681.9 390.4,698.8 392.0,702.0 392.6,676.4 393.4,681.1 394.2,682.8 395.0,674.8 395.8,673.2 396.6,677.8 397.4,679.6 398.2,667.7 399.0,660.4 399.8,675.6 400.6,686.0 401.4,679.6 402.2,676.4 403.0,682.6 403.8,682.8 404.6,675.7 405.4,673.2 406.2,680.6 407.0,682.8 407.8,678.3 408.6,676.4 409.4,684.0 410.2,686.0 411.0,692.4 411.8,702.0 412.6,688.3 413.4,670.0 414.2,656.2 415.0,647.6 415.8,665.3 416.6,679.6 417.4,673.2 418.2,670.0 419.0,665.3 419.8,657.2 420.6,662.0 421.4,673.2 422.2,670.8 423.0,663.6 423.8,672.8 424.6,686.0 425.4,691.4 426.2,692.4 427.0,683.6 427.8,679.6 428.6,684.3 429.4,686.0 430.2,678.5 431.0,673.2 431.8,676.0 432.6,676.4 433.7,682.7 434.7,695.8 435.8,702.0 436.9,693.5 437.9,693.7 439.0,686.0 440.1,679.9 441.1,682.8 442.2,676.4 443.3,675.4 444.3,680.4 445.4,679.6 446.5,680.8 447.5,687.8 448.6,689.2 449.7,674.8 450.7,668.0 451.8,654.0 452.9,661.3 453.9,674.2 455.0,679.6 456.1,674.3 457.1,675.8 458.2,670.0 459.3,673.1 460.3,682.9 461.4,686.0 462.5,676.3 463.5,672.3 464.6,663.6 465.7,665.5 466.7,672.6 467.8,673.2 468.9,672.5 469.9,676.6 471.0,676.4 472.1,676.8 473.1,685.4 474.2,686.0 475.3,678.0 476.3,677.2 477.4,670.0 478.5,673.0 479.5,681.2 480.6,682.8 481.7,679.2 482.7,681.0 483.8,676.4 484.9,672.8 485.9,675.8 487.0,673.2 488.1,676.5 489.1,684.0 490.2,686.0 491.3,680.1 492.3,681.9 493.4,676.4 494.5,671.1 495.5,673.6 496.6,670.0 497.7,669.5 498.7,676.2 499.8,676.4 500.9,677.3 501.9,684.4 503.0,686.0 504.1,679.2 505.1,677.5 506.2,670.0 507.3,660.2 508.3,658.1 509.4,647.6 510.2,632.5 511.0,622.0 511.8,633.7 512.6,641.2 513.7,651.6 514.7,669.2 515.8,679.6 516.9,675.6 517.9,676.9 519.0,673.2 520.1,675.0 521.1,683.6 522.2,686.0 523.3,689.2 524.3,695.9 525.4,698.8 526.5,696.0 527.5,699.2 528.6,695.6 529.7,687.8 530.7,687.0 531.8,679.6 532.9,686.4 533.9,700.5 535.0,708.4 536.1,699.2 537.1,696.1 538.2,686.0 539.3,688.9 540.3,698.6 541.4,702.0 542.5,693.7 543.5,692.4 544.6,686.0 545.4,709.4 546.2,737.2 547.0,722.5 547.8,702.0 548.9,695.9 549.9,697.0 551.0,692.4 552.1,684.3 553.1,683.9 554.2,676.4 555.3,687.2 556.3,705.8 557.4,718.0 558.5,708.1 559.5,705.5 560.6,695.6 561.7,687.1 562.7,686.7 563.8,679.6 564.9,685.2 565.9,695.8 567.0,702.0 568.1,695.2 569.1,694.6 570.2,689.2 571.3,679.9 572.3,677.7 573.4,670.0 574.5,669.7 575.5,675.2 576.6,673.2" fill="none" stroke="#a9a9a9" stroke-width="1.00" stroke-linejoin="round"/>
<polyline points="453.4,672.3 454.5,672.3 455.5,683.5 456.6,682.5 457.6,696.0 458.7,696.8 459.8,710.5 460.8,697.1 461.9,694.4 462.9,681.3 464.0,677.5 465.1,669.2 466.1,674.9 467.2,674.1 468.2,681.0 469.3,681.2 470.4,685.5 471.4,683.4 472.5,692.6 473.5,688.3 474.6,699.5 475.7,692.9 476.7,695.5 477.8,686.9 478.8,689.0 479.9,689.8 481.0,705.2 482.0,707.9 483.1,707.8 484.1,691.8 485.2,685.1 486.3,672.1 487.3,668.7 488.4,669.2 489.4,674.5 490.5,678.5 491.6,685.2 492.6,676.3 493.7,671.0 494.7,656.0 495.8,653.9 496.9,643.6 497.9,657.3 499.0,664.9 500.0,675.7 501.1,681.5 502.2,684.1 503.2,674.9 504.3,671.0 505.3,663.2 506.4,662.4 507.5,646.9 508.5,643.5 509.6,635.3 510.6,632.8 511.7,643.0 512.8,666.4 513.8,682.1 514.9,709.2 515.9,727.1 517.0,712.0 518.1,696.4 519.1,687.8 520.2,679.4 521.2,685.0 522.3,679.8 523.4,683.0 524.4,677.2 525.5,687.4 526.5,672.3 527.6,680.2 528.7,673.0 529.7,675.1 530.8,669.8 531.8,672.3 532.9,668.8 534.0,674.7 535.0,673.7 536.1,675.6 537.1,670.0 538.2,679.1 539.3,677.6 540.3,683.0 541.4,677.3 542.4,686.3 543.5,682.4 544.6,689.0 545.6,697.4 546.7,710.1 547.7,722.8 548.8,716.1 549.9,705.9 550.9,700.3 552.0,691.8 553.0,694.6 554.1,687.7 555.2,692.6 556.2,687.2 557.3,685.0 558.3,683.4 559.4,686.0 560.5,682.6 561.5,682.2 562.6,678.5 563.6,681.7 564.7,682.7 565.8,691.5 566.8,691.5 567.9,699.6 568.9,696.0 570.0,693.0 571.1,679.9 572.1,676.5 573.2,665.3 574.2,667.5 575.3,661.7 576.4,668.1" fill="none" stroke="#ef4b55" stroke-width="1.00" stroke-linejoin="round" stroke-dasharray="3 1.8"/>
<polyline points="432.6,670.4 433.7,666.0 434.7,680.8 435.8,682.3 436.8,686.3 437.9,670.4 439.0,673.7 440.0,668.6 441.1,677.0 442.1,677.3 443.2,676.6 444.3,671.6 445.3,671.2 446.4,686.2 447.4,697.0 448.5,675.0 449.6,681.2 450.6,666.7 451.7,673.9 452.7,664.2 453.8,672.4 454.9,661.1 455.9,682.5 457.0,684.5 458.0,679.7 459.1,690.9 460.2,709.4 461.2,687.6 462.3,681.9 463.3,670.9 464.4,689.3 465.5,683.8 466.5,694.3 467.6,686.4 468.6,674.0 469.7,655.6 470.8,685.2 471.8,672.1 472.9,679.8 473.9,685.3 475.0,691.4 476.1,680.8 477.1,678.8 478.2,672.0 479.2,674.4 480.3,659.1 481.4,686.2 482.4,693.2 483.5,687.1 484.5,666.4 485.6,658.5 486.7,645.0 487.7,672.9 488.8,680.7 489.8,683.7 490.9,670.5 492.0,683.3 493.0,675.3 494.1,672.8 495.1,658.1 496.2,651.2 497.3,648.2 498.3,671.5 499.4,680.5 500.4,672.3 501.5,638.8 502.6,663.4 503.6,672.5 504.7,680.0 505.7,677.1 506.8,680.6 507.9,663.6 508.9,688.3 510.0,672.1 511.0,645.5 512.1,666.6 513.2,684.5 514.2,668.1 515.3,696.4 516.3,684.5 517.4,662.6 518.5,697.2 519.5,711.0 520.6,670.7 521.6,737.4 522.7,689.9 523.8,689.0 524.8,676.9 525.9,682.4 526.9,678.9 528.0,691.8 529.1,684.5 530.1,687.0 531.2,670.7 532.2,676.8 533.3,674.2 534.4,687.0 535.4,685.7 536.5,701.0 537.5,705.5 538.6,709.9 539.7,684.0 540.7,687.6 541.8,672.1 542.8,671.7 543.9,668.8 545.0,686.2 546.0,687.7 547.1,682.7 548.1,666.8 549.2,659.3 550.3,669.4 551.3,688.4 552.4,688.8 553.4,679.7 554.5,659.9 555.6,681.8 556.6,680.2 557.7,685.6 558.7,676.3 559.8,682.3 560.9,674.3 561.9,687.1 563.0,682.7 564.0,695.7 565.1,682.8 566.2,686.9 567.2,675.5 568.3,674.5 569.3,675.0 570.4,689.7 571.5,676.7 572.5,670.7 573.6,660.5 574.6,669.5 575.7,666.0" fill="none" stroke="#1e9cf0" stroke-width="1.50" stroke-linejoin="round" stroke-dasharray="10 1.2"/>
</g>
<path d="M575.5,622.5 L24.4,622.5 L24.4,740.5 L575.5,740.5" fill="none" stroke="#444" stroke-width="1.3"/>
<line x1="574.6" y1="622.5" x2="574.6" y2="740.5" stroke="#333" stroke-width="1.3"/>
<line x1="20.2" y1="649.3" x2="24.4" y2="649.3" stroke="#999" stroke-width="1"/>
<text x="17.4" y="654.2" font-family="Liberation Sans" font-size="13.5" font-weight="bold" fill="#a4a4a4" text-anchor="end">2</text>
<line x1="20.2" y1="681.5" x2="24.4" y2="681.5" stroke="#999" stroke-width="1"/>
<text x="17.4" y="686.4" font-family="Liberation Sans" font-size="13.5" font-weight="bold" fill="#a4a4a4" text-anchor="end">0</text>
<line x1="20.2" y1="713.7" x2="24.4" y2="713.7" stroke="#999" stroke-width="1"/>
<text x="17.4" y="718.6" font-family="Liberation Sans" font-size="13.5" font-weight="bold" fill="#a4a4a4" text-anchor="end">−2</text>
<line x1="77.5" y1="739.0" x2="77.5" y2="744.5" stroke="#999" stroke-width="1"/>
<line x1="130.5" y1="739.0" x2="130.5" y2="744.5" stroke="#999" stroke-width="1"/>
<line x1="183.6" y1="739.0" x2="183.6" y2="744.5" stroke="#999" stroke-width="1"/>
<line x1="236.6" y1="739.0" x2="236.6" y2="744.5" stroke="#999" stroke-width="1"/>
<line x1="289.7" y1="739.0" x2="289.7" y2="744.5" stroke="#999" stroke-width="1"/>
<line x1="342.8" y1="739.0" x2="342.8" y2="744.5" stroke="#999" stroke-width="1"/>
<line x1="395.8" y1="739.0" x2="395.8" y2="744.5" stroke="#999" stroke-width="1"/>
<line x1="448.9" y1="739.0" x2="448.9" y2="744.5" stroke="#999" stroke-width="1"/>
<line x1="501.9" y1="739.0" x2="501.9" y2="744.5" stroke="#999" stroke-width="1"/>
<line x1="555.0" y1="739.0" x2="555.0" y2="744.5" stroke="#999" stroke-width="1"/>
<rect x="28.8" y="625.2" width="64.9" height="31.3" fill="#fff" stroke="#333" stroke-width="1"/>
<text x="31.8" y="648.4" font-family="Liberation Serif" font-size="21" fill="#000" stroke="#000" stroke-width="0.25" textLength="56.5" lengthAdjust="spacingAndGlyphs">e. PC3</text>
<text x="24.4" y="757.3" font-family="Liberation Sans" font-size="13" font-weight="bold" fill="#a4a4a4" text-anchor="middle" textLength="27.5" lengthAdjust="spacingAndGlyphs">1500</text>
<text x="77.5" y="757.3" font-family="Liberation Sans" font-size="13" font-weight="bold" fill="#a4a4a4" text-anchor="middle" textLength="27.5" lengthAdjust="spacingAndGlyphs">1550</text>
<text x="130.5" y="757.3" font-family="Liberation Sans" font-size="13" font-weight="bold" fill="#a4a4a4" text-anchor="middle" textLength="27.5" lengthAdjust="spacingAndGlyphs">1600</text>
<text x="183.6" y="757.3" font-family="Liberation Sans" font-size="13" font-weight="bold" fill="#a4a4a4" text-anchor="middle" textLength="27.5" lengthAdjust="spacingAndGlyphs">1650</text>
<text x="236.6" y="757.3" font-family="Liberation Sans" font-size="13" font-weight="bold" fill="#a4a4a4" text-anchor="middle" textLength="27.5" lengthAdjust="spacingAndGlyphs">1700</text>
<text x="289.7" y="757.3" font-family="Liberation Sans" font-size="13" font-weight="bold" fill="#a4a4a4" text-anchor="middle" textLength="27.5" lengthAdjust="spacingAndGlyphs">1750</text>
<text x="342.8" y="757.3" font-family="Liberation Sans" font-size="13" font-weight="bold" fill="#a4a4a4" text-anchor="middle" textLength="27.5" lengthAdjust="spacingAndGlyphs">1800</text>
<text x="395.8" y="757.3" font-family="Liberation Sans" font-size="13" font-weight="bold" fill="#a4a4a4" text-anchor="middle" textLength="27.5" lengthAdjust="spacingAndGlyphs">1850</text>
<text x="448.9" y="757.3" font-family="Liberation Sans" font-size="13" font-weight="bold" fill="#a4a4a4" text-anchor="middle" textLength="27.5" lengthAdjust="spacingAndGlyphs">1900</text>
<text x="501.9" y="757.3" font-family="Liberation Sans" font-size="13" font-weight="bold" fill="#a4a4a4" text-anchor="middle" textLength="27.5" lengthAdjust="spacingAndGlyphs">1950</text>
<text x="555.0" y="757.3" font-family="Liberation Sans" font-size="13" font-weight="bold" fill="#a4a4a4" text-anchor="middle" textLength="27.5" lengthAdjust="spacingAndGlyphs">2000</text>
</svg></body></html>
